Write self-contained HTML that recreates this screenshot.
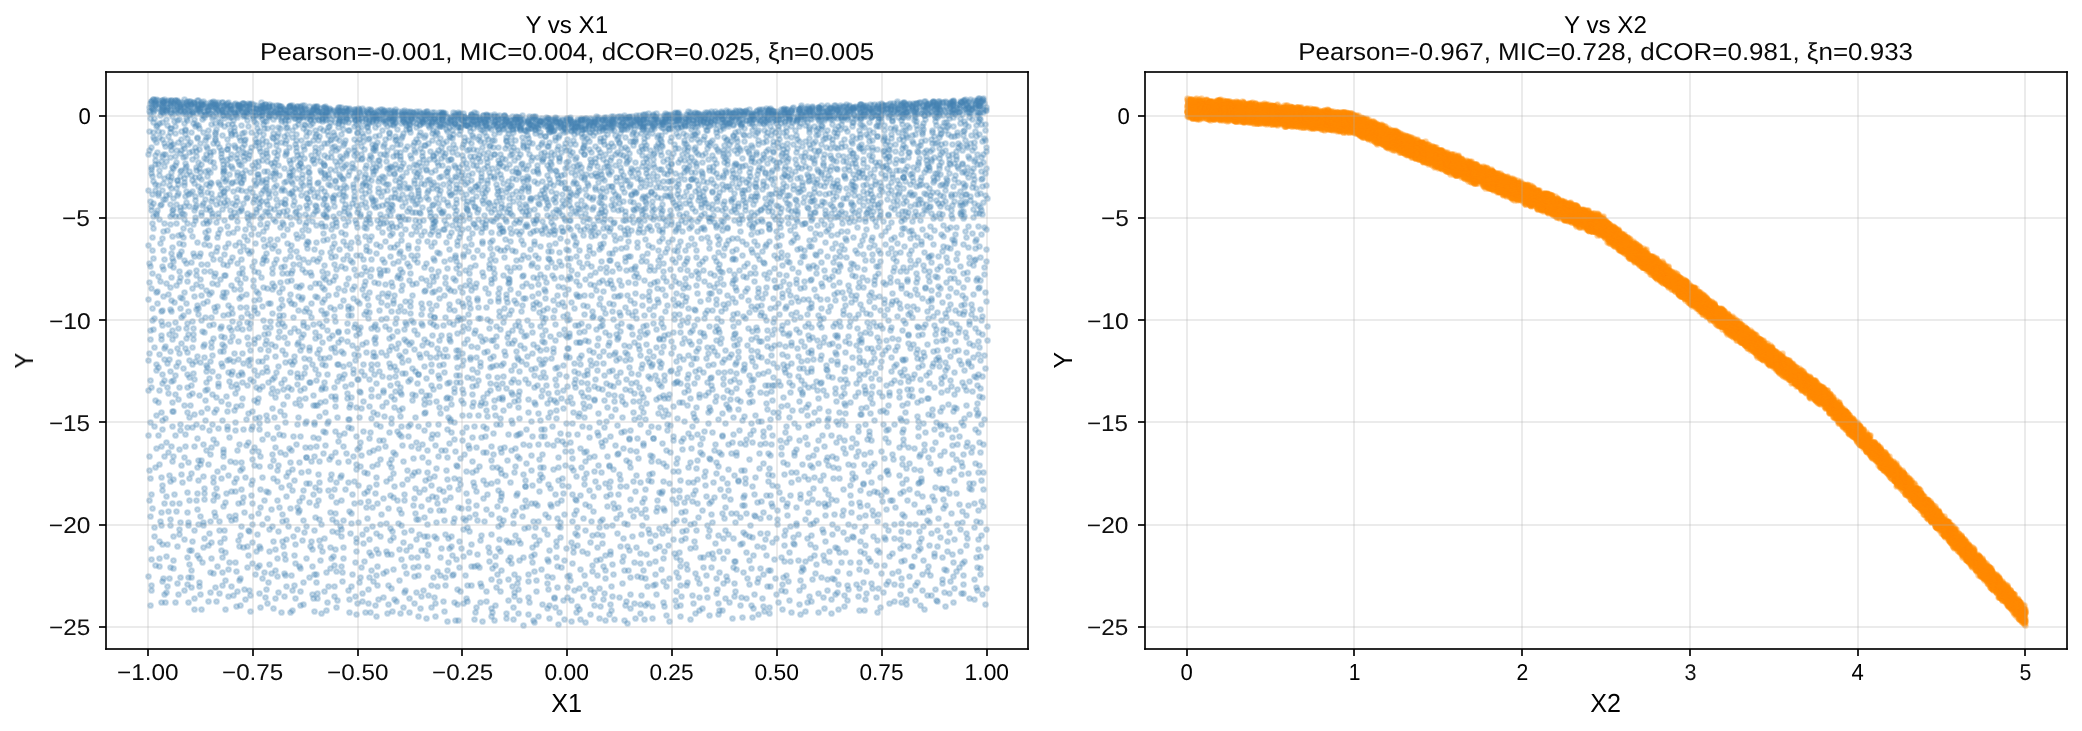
<!DOCTYPE html>
<html><head><meta charset="utf-8"><title>Y vs X1, Y vs X2</title><style>html,body{margin:0;padding:0;background:#fff;overflow:hidden}svg{display:block}text{font-family:"Liberation Sans",sans-serif;text-rendering:geometricPrecision}</style></head><body>
<svg width="2082" height="731" viewBox="0 0 2082 731">
<defs><marker id="a" markerUnits="userSpaceOnUse" markerWidth="10" markerHeight="10" refX="5" refY="5" overflow="visible"><circle cx="5" cy="5" r="2.329" fill="#4682b4" fill-opacity=".29" stroke="#4682b4" stroke-opacity=".29" stroke-width="2.083"/></marker><marker id="b" markerUnits="userSpaceOnUse" markerWidth="10" markerHeight="10" refX="5" refY="5" overflow="visible"><circle cx="5" cy="5" r="2.329" fill="#ff8c00" fill-opacity=".3" stroke="#ff8c00" stroke-opacity=".3" stroke-width="2.083"/></marker></defs>
<rect width="2082" height="731" fill="#fff"/>
<g transform="translate(.5 .5)" fill="none" stroke="none">
<path marker-start="url(#a)" marker-mid="url(#a)" marker-end="url(#a)" d="M153 99l0 0 2 1-4 1 0 0 4 1-2 1-3 0 5 1 0 1-6 2 2 0 1 1 1 1 1 1-5 1 4 1-3 1 0 5 4 0-1 4-4 9 4 1 0 5 1 2-3 8-2 3-1 4 7 1 0 5 0 4-4 3 0 2 0 4 1 3 1 5 2 3-7 6 7 0-3 4-2 7 3 2-2 3 0 4 2 6-1 7 1 5-1 9-4 8 4 5 1 8-4 5 1 3 2 7-3 9 2 6-3 11 4 9 2 10-2 2 1 9-3 1 0 9 4 8-5 6-1 7 2 20 1 7-3 3 7 10-5 22 4 4-6 9 1 21 6 11-6 3 1 8 1 16-2 6 3 8-2 8 4 11 0 9-3 12 0 11 4 6-7 11 3 9 0 5-1 15 11-3 4 0-1-8 2-2 1-6-5-5 1-3-4-12 0-8 7-2-4-12 5 0-8-3 2-16-1-4 1-9 3-9 2-7-4-6 0-5-1-8-2-13 5-8-8-8 5-2 5-4-8-7 4-6 0-9 3-2-9-3 5-3-3-10 1-12 8-3-5-4 2-3-2-6-6-4 2-3-2-3 11-1-3-4-5-5 5-6 1-2-4-7 0-4 1-10-1-4 0-10 1-1-5-7 6-7-7-4 1-1 9-8-6-2-2-5 5-7-1-3 2-7-1-9-3-7 2-5 1-7 4-1-3-7-5-4-3-4 0-2 1-3 3-5 1-1 2-5 2 0-7-4 8 0-8-2 4-3-4-5 5-2 1-5-5-3 0-5 5-4-6-2 3-3 5 0-4-5 1-2 2 0-8-2 8-6-1-3-8-1 6-3-3-2 3-5-4-1-2-5 11-1-10 0 2-2 3-1 4-3-6-4 3-2 3-1-5 0 1-1 3-1-5 0 6 0 1-1-5 0-4-1 6-1 3 0 0 0-5 0 0-1 0-1-6-1 5 0 6-1-9 0 5-1 0 0 0 0 1-1 2 0-4-1 0 0-4 0 6-1-8 0 15 1 4 0-7 0 9 0-2 0-4 0-1 1 7 0 2 1-7 0 5 0-3 1-4 0 1 2 5 0-3 0-3 1 7 0 2 1-2 1-6 2 3 0 1 0-5 2 6 0-5 1 7 0-6 3 7 3-2 1-3 1 1 5-4 2-1 0 0 4 5 1-7 3 2 5 8 1-5 2-2 1-1 1 6 4-5 0 4 6-5 1 6 5-1 3-3 2 1 1-2 4-3 4 3 1 6 3-7 0 7 0 1 4-9 1 2 3 5 0 2 5-9 1 8 1-4 3-3 6 6 0-3 5-1 1 0 4 7 2-9 0 5 0 1 7-6 1 8 11-6 1 7 7-7 4-1 6 8 1 0 2-7 2 1 3-3 4 3 2 6 4-8 6 8 4-3 4-6 2-2 7 3 6 3 2-4 7 1 2 4 11-7 2 10 4-6 2-3 4 6 1-3 4 5 9-7 3 9 2-10 6 9 3-2 4-6 5 5 4-2 5-2 1 8 6-11 6 7 1 3 5-6 3 0 9 1 0-1 15 3 9-4 11 8 3-11 3 5 4-1 5-3 14 4 4-3 2 4 13-2 9 7 0-11 8 8 0-6 8 0 6 9 4 0 5-6 2 4 10-4 14-3 7 3 1-4 10 8 5 1 11-3 8 13 0-4-12 7-3-4-3-7-7 8 0 3 0 0-7-2-6-2-7 2-7 2 0-7-11 4-14-8-3 8 0-1-10 2-12-2-8-5-10 7-4-8-4 10-1-10-8 7-3-4-5 1-11 0-12-5-4 7-3-7-3 9-7-2-5-3-7 6 0-1-10-2-8 4-2-2-8-2-3-4-6 6-8-2-8-2-4-4-5 5-5 2-4-2-6 1-5-6-6 2-2 5-4-8-3 6-5-4-5-2-1 4-5 3-11-7-4 7-3 2-2-3-9 5-1-7-2-3-9 2-7 0-7-2-3 9-4-7-2 4-5-3-4 0-5-2-1-2-3 0-3 9-1-5 0 2-4-1-6 3-2 2-1-4-2-2-6 0-3 0-4-4-2 11-1-5-1-6-3 9 0-8-1 4-2 1-2-1-3-2-6 2-1-5-3 9-1-8-2 3-2-1-3 5-1 2-2-9-3 6-1-2-4 6-2-10-1 4-1 0-1-1-6 3-3-1-2 3-3 1-1-7-1 2 0-1-2 1 0-5 0 11-1-11 0 9 0-2-1-6-1 3-1 5 0-9-1 3 0 5-1-1 0-5-1 9 0-11 0 6 0 5 0-3-1-2-1-4 0 7-1 1 0-3 0-3-2 13 1 1 0 5 1-10 1 0 0 8 0-7 1 4 1 5 0-2 0 0 0-7 0 9 1-5 0-1 1-3 0 7 0-4 2 2 0 1 0-1 1-2 0 1 1-6 1 7 0-6 1 3 1-4 0 9 1 2 1-9 4 8 0-9 4 3 1 2 1-3 1 4 2 4 4-6 5 0 1 3 5-5 4 4 2-3 2-4 0 4 5-4 3 6 3 3 2-5 3 3 1-3 2 4 2-5 5 4 0 2 2-9 1 2 3 4 3 3 2-9 3 8 0 1 3-6 2 0 4 8 3-7 2 6 0-7 2-1 3 7 2 0 3-6 2 0 3 8 3-10 1-1 12 5 6-4 11 7 0-6 3 5 0 2 8-5 6 0 5 4 4-4 5 5 2-9 2 9 7-7 1 9 7-6 2 1 3-2 1 2 5 3 6-9 1 1 7 9 3-9 3 0 5 10 7-11 1 5 9-2 5 5 1-8 2 1 9 1 6-2 14 7 2 2 17-7 2 2 10-4 3 10 0-5 11 6 6-9 2 4 14 3 0-1 4-3 3 6 9-5 4-1 13-1 7 1 9 3 7 3 6-5 2 5 1-9 5-2 11 11 6-6 8 2 3 3 4-3 20 0 4 1 8-6 4 0 11 7 0 7-8 2-9 5-5-2-14-3-1 1-14-3-13 3-3-7-4 5-5 1-12 5-5-1-4-1-12-9-1 10-5-10-1 0-5 9-6 0-5-5-13 2-10-4-4 5-3 2-8-4-9 3-6-7-4 9-8-7-4-2-8 7-6-7-4 2-1-1-7 3-4-3-7 6 0-5-4-1-2 4-4-6-4 8-2-1-8-7-3 7-2 2-4-9-6 5-7 4-1-8-7 6 0 4-6-1-4-7-6 2-7 2-2-5-2 6-7 2-7 1-3-11-2 6 0-3-7 6-5-2-5-2-9-5-1 2-6 1-1-2-5 3-2-1-7 2-2-3-1 6-4 0-3-2-3-4-1 3-2 2-6-6-2 7-1-1-5-4-1 2-6-3-2 5-1-1-1-3-6 3-4-5-1 3-1 6-3-1-5-3-1-4-2-2-1 6-3-4-1 4-2 3-1-6-3-1-2 7-3-8-3 10 0 0-2-9-1 2-1 7-2 0-2-7-2 3-6 4-1-3-5-8-1 9-1-8-2 3 0 2-1-1 0 6-1-11-1 0 0 3-1 6 0-5 0 0-2 6-1 1 0-7 0 3-1-5 0 3 0 1-1 5-1-2 0-8-1 6 0 1-1 3 0-5 0 3-1 9 1-4 0 4 0 5 1-10 1 9 0-2 1-7 0 6 0 3 1-10 0 3 1 5 0-8 1 11 0-6 1-3 1 4 0-1 0 1 2 2 0-5 0 7 1-10 0 7 2 0 0-5 3 6 0-4 4 0 2 4 2-8 3 6 6 5 4-10 4 2 4 8 2 0 0-6 1 0 3 0 4 6 2-5 1 1 4 4 0-4 4 1 2-1 1 0 2 0 5 3 1-1 2-7 1 1 2 2 4 6 0-3 3-1 1-3 2 4 2-6 2 9 2-3 2-4 1-4 1 10 1-4 4-4 4 0 4 6 3-8 2 11 4-7 3-2 4-1 4 0 10 8 0-9 4 8 3-4 5 3 5 4 1-3 10 1 0-5 4-3 5 6 8 3 0-4 4 2 1-7 9 6 9-2 11-1 2 1 8 3 1-2 7 2 2-1 5-3 0 7 9-6 3 1 3-4 10 0 7 0 3 8 10-10 1 5 4-5 8 11 2-5 9 5 6-9 2 9 1-11 14 7 6 0 3 0 4 0 11-6 4 4 7-5 10 10 5-9 3 8 6-2 4-4 15 0 9 5 0 0 8-4 4 1 8 4 2-3 5-5 9 5 6 3 8-3 5-3 8-3 8 9 8 11-3-8-10 5-1 4-4-6-5 8-6-3-9-8-2 1-7 6 0 4-16-1-6-7-20 4-1-6-3 6-1 3-12-7-12 4 0-1-9 2-4-8-3 7-13-5-1 7-11 2-6-10-7 6-7 0-8-1-12 2-4-8-2 7-11 2-5-6-2 5-2-7-3 9-6-7-1-3-2 4-1 1-10-4-2 9 0-4-6-4-12 8 0-6-5-1-6 6-2-8-1 10-4-7-2-4-7 4-1-1-5-3-3 11-7-5-9-3-4 6-6 2-6-2-10-7-2 2-4 3-12-7-2 11-1-11-9 5-1 4-4 0-7-6-4 0-1 5 0-2-4 5-1-9-1 5-5-3-2 5-2-1-4-3-6 5-2-7-6 1-1 4-1 1-6-8-1 8-2-5-4-1-2 8-2-1-3-2-3-6 0 1-4 6 0 1-5-3-2-7-2 6 0 5-8-8-2 4-1-4-1 3-2-4-1 4-3-6-3 4 0 1-4-2-3-2 0 8 0-9-2 8 0-1-1-6-1 5 0 1 0-1-1 4 0-9-1 9-1-8-1 9 0-6 0-2 0 0-1 7 0-9-2 10 0-9-1 6 0-6 0 8 0 0 0 1 0-5-1 4 0-3-1-7-1 14 1 9 0-3 0-5 0 0 0 7 1-1 0-4 0 2 2 2 0-3 0-5 0-1 1 3 1-2 0 6 1 2 0 2 2-10 0 5 0 3 0-5 1 2 0 1 1-4 1 1 1 2 1-3 0 4 4-6 5 7 1-4 6 7 0-9 1 3 6-5 1 4 0 0 4-2 3 9 0-1 4-7 1 2 1 4 2-6 1 5 2-4 2-3 5 4 5 5 2-8 1 1 3-3 1 3 2-2 3 0 1 9 5-9 2 5 1 1 6-1 1-3 5-2 5 0 2 6 3 4 2-4 2 1 2 1 5-4 5 6 5-7 2 3 4-4 6 4 4 4 1-11 0 9 2-8 6 1 9 0 5 3 5-5 5 0 6 6 5-5 2-1 11 6 0 1 6 4 3-10 1 6 5 3 1-1 5-7 1 5 8 1 7 2 6-8 3 8 6-2 1-5 3 6 2-8 7 1 2 8 5-8 3 5 3-5 13-1 7 7 8-2 6-3 10 8 0-3 13-2 3-5 17 1 6-2 2 5 7 6 7-10 5 10 6-8 2-1 5 2 10 7 4-10 10 7 4 1 1-9 4 7 11-4 1 5 8-1 12-7 11 4 11 5 1 1 5-5 4-5 6 10 6 10-4-1-14 3-15-7-4 2-7 2-2-7-2 4-12 4-3-1-2-7-4 5-8-5-10 10 0-4-11 2-6-8-4 8-14-8-9 10-3-3-11-5-1-2-6 8-3-8-5 6 0-4-4 8-8-3-10-7-3 7-3-4-5 4-1-7-6 5-9-3-2 4-2 1-9-3-2 6-1-9-5 4-6 5-3-8-2 8-9-4 0 2-12-6-6 0-4 4-2 5-17-6-7-3-3 0-3 8-1-8-6 5-1-1-6-2-2 7-4-10-1 0-6 8-3-3-5-4-1-2-5 10-3-8-2 9-2-8-16 8-4-5-5 5-3-10-3 7-4 0-6 2-2-9 0 3-4 0-3 3-2 0-4-6-1 8-1-7-2 5-1-4-2 6-3-9-1 11-2-8-5 1-2 5-1-7-2 8 0-4-3 0-3-1 0-3-6 4-2-6-1 3-3 3-1 4-1 0-5-2-4-1-3-4-3 7-1-6-2 2 0-3-3 7 0-6-5 7 0-4-3-2-3 6-4-7-1-2-2 8-2-9-1 0-2 6 0-7-1 10 0-7 0 6 0-5-1 6 0-3-1 3-1-7 0 6-1-7 0 2-2 4 0-1 0-3-1-3 0 10 0-8 0 6 0 0-1 2 0-3-1 2-1 1 0-7 0-3-1 8-2 8 2-4 0 0 0 7 1-4 1 1 0 3 0-7 1 4 0-1 2-1 1 4 0-6 0 9 1-8 0 9 0-2 1-3 1 1 1-3 1 1 0 6 1-6 0-1 1 5 2-9 2 2 0 6 6-8 1 3 0 6 5-1 4 1 1-7 3 3 4-3 5 8 2-8 1 1 3 0 5 7 1-3 1 2 3-9 5 3 0 8 0-2 2 2 0-5 3-4 3 8 0-8 3 0 4 8 1-9 1 4 3-1 2 7 0-6 4-3 4 1 3 3 4 4 1-9 2 2 1 2 3 4 4 2 2-8 2-1 4 4 12-2 5 6 1-10 1 8 2-6 5-2 4 2 3 8 3-2 5 0 5 0 10 2 3-7 2 5 1-2 14-2 0 4 10-2 8-5 6 5 0-2 6-4 1 2 6-1 4 6 0 4 2-7 4 7 6-9 1 0 10 1 4 7 6-2 2-4 3 4 6-1 5 4 4-3 11-6 7 8 2-7 3 0 14 6 4 2 9-3 7 1 6-3 6 3 12-7 13 2 1-4 8 7 9-4 9 5 8-3 3 4 12 2 8-6 2 0 13 6 6-11 2 7 1-3 9-2 7-1 8 10 1-8 5 6 5 8 4 3-16-6-4 8-6-9-10 8-1-1-2 1-14-8-1 7-4-1-8-1-5 4-2-8-8 4-10 4-1-4-6-3-7-2-7 9-4-5-9-4-6 9-5-9-6 1-5 7-11-5-2 3-17-4-1-2-7 8-5-1-7-4-4 3-7 4-8-10-5 6-2-2-6 3-4-8-7 2-6 7-4 0-8-3-4 5-7-9-6 6 0-5-6 5-5-6-2 4-1-3-4 0-4 4 0-4-7 3-3-1-6-2-7 3-4-2-6 7-1-5-8 5 0-6-6 3-1-8-7 9 0-7-8 9-8-10-4 6-4 4-6-7-2 3-3-1-2-4-7 8 0-7-3 4-1 4-1-10-5 8-1-1-1-3-1-5-3 9 0-4-9 3 0-2-2-6-3 8-3 2-1-7-6 5-7-6-3-2-6 1-4 8 0 1-2 0-2-8-1-2-5 9-2-4-1-5-1 10-1-9-4 7 0 3-2-9-1 2-5 6 0-8-1 9 0-2-4-4-2 4-1-4-1 5-2-4 0 5-1-9 0 8-2-8 0 7 0-2-1-3 0-1 0-2 0 10-1-6 0-5-2 9 0 1 0-6-1 4 0-4 0-3-1 6 0-3-2 1 0-2 0-1-1-2 0 14 0 2 0 5 1-8 0 0 0 8 0-7 0-1 1 4 0 1 1 2 0-1 1-1 0-2 1-3 1 10 1-5 0 1 0-6 1 8 1-5 0 3 1-2 1 5 0-9 0 5 2 1 0 4 1-11 1 10 0 0 4-3 2-3 4 4 4-4 3 4 3-1 4-6 3 7 0 0 4 1 4 2 3-6 1-4 1 1 3 8 2-7 3 8 1-6 1-4 2 1 3 2 0-3 1 8 2-6 3 1 2 3 5-3 3-3 2 2 0 2 3 1 5-1 4 6 2-3 4-1 1 4 3-3 2-6 0 9 4-8 3 5 10 1 4-6 7-1 5 6 1-6 5 8 1-5 7 6 0-7 6-1 3 0 7 5 6 3 1-9 7 8 2-9 4 2 3 3 1 4 6-5 7 1 11 4 3-8 1 8 10-1 2-3 12-4 5 4 0-2 3-2 8 7 1 0 4 0 7-9 3 3 2 8 10-4 4 3 14-1 7-4 12 3 8-7 4 2 2-1 12 9 0-7 7-4 3 6 8-5 5 3 5 7 11-2 6-7 1 9 2-1 2-10 14 9 3-4 7 2 8-1 11 1 8 4 3-8 9 3 10-2 5 3 8-3 12-2 2 10-7 3-1-3-13 3-9 6-5-9-9 6-10 4-12 1-5-9-1 2-8 2-6-3-6 6-18-7-5 1-7 3-7 3 0-8-11 7-1 3-10-5-4 0 0-1-10 5 0-10-11 5-13 1-2-6-16 5-7-5-8 4-2 6-6-1 0-8-5 3-4 1-6 4-8-5-1-4-8 9 0 0-3-7-1-1-9 2-3 4-7-4-2 0-3 8-5-2-5-5-1 2-3 5-5-10-4 1-2 8-10-9-2 10-10-1-3-5 0-3-3 6-7-5-3 4-11-1-4 2-2-1-1-5-5 0-6 6 0-3-5 1-3 2-5-3-3 2-6-1-3 3-3-2-4 0 0-6-3 5-2 4-2-10-2 3-4 6 0-8-2 8-1-7-4 7 0-7-4 6-2 1 0-7-5 6 0-8-4 0 0 4-5 7-3-10-1 3-5-1-3 4-3 2 0-8-3 5-4 3-4-3-1-3-3 2-3 5 0-6-1 6-4 0-1-3-1-4-1-3 0 5-1-3 0 7 0 2-1-11 0 11 0-9-1 6 0-6-1 9 0-2-1-2 0-5-1 9 0-6-1-4 0 0-1 5 0-2-1-4-1 0-1 9 0-5-1-2 0 14 1 1 0-3 0 0 1 2 0 7 0-9 1 6 0-7 1 0 1-1 0 4 0 3 1-2 0 0 0 2 0 2 1-7 1 8 0 0 1 0 1-3 1-3 0-3 1 9 1-4 1 4 0-8 1 5 0 3 1-10 2 8 5-5 2 8 0-7 4-1 2 4 0-6 4 5 0-3 7 6 0-6 4 3 1-1 5-4 2-1 1 8 1-6 2 9 0-3 7 1 2-3 10-1 1 4 5-9 1 5 3-3 4 4 1 5 7-8 1 1 1 1 4-2 1-2 3 10 0-11 7 9 2-5 2 6 1 1 7 0 7-7 2-2 7 7 3-2 6-6 1 4 2 5 10 1 6-8 6 4 0 3 4-7 9 2 1 5 5-1 8-2 13-6 1 9 2-7 6 4 4-4 2 7 4-3 7-2 4 3 5-8 6 10 0-7 5 3 5-2 6 6 7-1 2-8 6 7 7-5 3-2 0 4 0 2 11-5 6 0 2 9 7-10 6 5 1-2 8 7 7-9 3 5 5-1 13 1 8-4 5 4 3-6 4 5 6-2 5-1 12 4 2 2 5-7 6 5 10 1 6-8 3 10 2-2 9-8 6 2 8 2 0 0 8 1 11-5 1 1 4 4 0-3 13 7 2 5-3 1-8 7-6-10-5 4-5 6 0-8-14 4-4 4-3-3-7 2-2 2-7-5-2-6-9 8-7 0-12 3-6-5-1 1-16-3-6 6-1-4-10 1-5-2-15 2-3 4-4-10-7 0-13 10-1-8-8 1-2-3-9 10-6-10-5 10-2-4-3 4 0-10-8 9-1-10-5 3-8-2-9-1-7 5-1 6-5-4-4 3-1-5-9 3-3-5-5 8-9-9-1 8-4-10-2 2-1 8-4-4-2-6-8 4-4-4-6 5-7 4-2-8-1 10-3-8-3-3-8 10-1-3-7 4-1-5-4 2-5 2-4-7-4 6-3-2-7-6-3 7-2 3-5-9-2 0-1 7 0-9-1 2-5 2-2 6-2-8-1 7-4-9-2 0-1 9 0-1-1-6-2 8 0-10-4 6-6-2-1 7-3 0-1-11-2 5 0-4-3 3-1-4-1 11-3-5-1-6-4 0 0 11-4-4-4-4 0-3-2 7-3 1-5 2-1-10-3 3 0 3-3 1-1-3-4 6 0-1-3-6-1 1-4 1-1 1-4 5 0-10-2 6-1-5 0-1-2 8-1-6-1 1 0-3-1 0 0 0-2 2 0-1 0 9-1-4 0 2-1-4 0-3 0 4-1-1-1-3 0-1 0-1-1 1-1 13 1 3 0-2 0 6 1 1 0-9 1 1 1 9 0-7 0 5 1-2 0-1 0-3 0 7 0-6 1-3 0 4 2-5 0 9 0-5 0 6 0-10 1 9 1-5 1 6 0 0 1-7 0 1 1 6 0-7 1 3 1-3 0 6 0-7 2 4 1-4 3 5 2-2 5-5 4 9 2-6 0 5 3-1 2-5 3-2 2 10 3 0 2-6 1 2 2-2 3 6 3-9 1 7 1-2 2-3 6 1 2 2 2 1 1 1 6-8 2 10 0-6 1 3 3-4 3 4 1 2 1-3 4 3 4-1 4 0 3-5 2 4 5-7 4 9 3-9 1 5 6 4 2-2 7 3 4-7 4 8 6-4 4-2 7 4 2-9 1 10 15-8 4 6 2-8 4 7 6-3 6 7 17-9 8 9 0-9 1 3 7 6 2-9 1 3 9 2 2-6 11 1 0 5 2 1 8-5 2 3 2-5 3 8 5 2 7 0 5-10 19 7 16-5 2-1 6 5 5 3 7-8 9 3 13-1 2-4 5 9 7-4 11-5 2 7 18-7 2 4 4 1 3-4 3 4 4 2 11 0 11-2 8-5 5 6 1 0 9-5 19-1 7 20 7-7-2 8-9-8-4 6-3-7-6 3-4 8-4-7-8 3-12 1-11 0-9 0-4-6-5 1-10 7-1-7-9-2-2 5-8-2-9 6-9-10-3 6-1 2-12 0-5-8-3 5-5 4-7 2-2-3-11-5-8-3-1 0-8 1 0 10-2-10-10 7 0-6-3 1-7 8-6-8-7 6-5 1 0-5-6 0-4-4-5 6-4 3-5-4-1 3-6-5-3 4-10 3-2-1-4-4-2 1-3-7-9 3 0-3-6 3-1-3-2 11-3-2-2-4-3-1-9 2-3-6-8 8-3-2-6-2-7-2-2 6-5-6-7 1-6 7 0-1-5 0-10-1-4-8-2 7-1-6-5-1-2 9-1 1-3-9-2 7-2-4-2 2-4 0-3 0-5-1-4 0-3 3-5 1-2-9-2 11-3-10-1 5-3-2-1 0-4 5-4-3-4 2-2-8-3 6 0 0-3 3-5-3-3 5 0-2-6 0-1-8-2-1 0 10-2-4-2 2-2-8-2 10 0-3-2 1 0-1-1 4 0-8 0 6-1 1 0-4-2 3-1 0 0-8 0 5 0 5-1-8-1 4 0-2 0 6-1 0 0-5-1 1 0-7-1 9 0 2 0-4-1 4 0-5 0-5 0 0-1 9 0 4 0 8 1-2 0 3 1-8 0 3 1 4 0-3 1 1 1-4 0 4 0-8 1 4 1 4 2-6 1 3 0 1 0 3 1-7 2 7 0-3 2 2 0-1 3-6 1 6 0 1 4-6 2 1 3 6 2-1 1-5 2-2 5 3 3-3 5 9 1 1 2-9 1-1 1 8 0-3 6-1 3 0 6-1 3 4 1 3 2-6 2-2 1 3 2-4 0 7 1-8 4 8 1-4 2 6 4-9 0 3 5-4 2 5 3 3 6-9 1 0 2 8 1-2 2 3 0-4 4 5 0-6 4 2 1-1 8 6 0-2 4-3 6 0 4 3 1-9 4 3 4 8 0-7 8 7 2-5 2-5 3 9 2-5 5-1 4-2 4 7 3-5 3 3 3 1 7-2 6 3 1-5 2 4 4-8 9 11 1-5 14-4 2 4 8-3 12 8 0 0 5-10 2 3 4 5 4 2 10-11 3 11 4-8 5 6 5-8 2 10 10-8 13 7 1-1 6-9 4 9 10-8 3-1 11 4 6 3 1 2 14-2 4-3 2 4 8-8 1 6 5 1 11-1 11-4 5 7 5-6 4 6 9 2 3-7 6-3 6 10 3-11 7 9 0-1 12-6 4 0 8 6 2-3 9 5 0 6 4-1-11 3-6 5-2-6-12-4-4 3-6 7-2-6-7 1-13-2-4 4-13-4-3-4-7 8-2 1-10-9-7 5-4 6-5-8-5 1-9 0-7-4-11 5-2 3-5-7-9 5-2 1-8 4 0-3-14-4-2 1-10-4-2 9-6-4-10 5-4 0-2-7-7 6-7-8-2 5-3-2-7-4-8 2 0-2-4 8 0-6-9-1-4 1-2 2-8-3-3 1-2 6-5-2-9 2-8-3-5 4-4-4-10-4-1 6-7 0-2-1-4 3-10-6-6 4-7-4-2 6-12-4-5 2-4 3 0-6-3 4-2-1-4-5-7 3-1 4-1-9 0 0-4 2-1-3-1 9-3-3-4 5-1-5-3 5-6-5-1 1-3 3-2-9-2 0-3 2-1-3-2 4-1 3-2-6-2 5-3 1 0 1-6-7-4 2 0-2-2 2-1 8-1-8-1-3-1 5-2-2-6 4-1 3-5-7-3 3-3-6-2 0-1 4 0 7 0-10-2 10 0-2 0-5 0 1-1 2 0-5-1 1 0-3-1 1 0 6-1-2 0-2 0 7-1 1 0-7 0-4 0 1-1 0 0 9-1-7 0 8-1-5 0-1-1 5-1-2 0 15 0-7 1-4 0 6 0 4 1-10 0 9 0-4 1 6 0-10 1 9 0-7 0 4 0 3 1-9 0 9 1-4 1 0 1 4 0-3 0-2 1 4 0-4 0-1 0 5 1 1 0-2 1-7 0 7 1-6 0 9 1-10 1 10 0-5 1 3 0 0 1-6 1 2 6 0 1 6 3-6 1-4 2 10 1-11 4 8 3-5 3-3 4 2 1 7 1-7 5 9 3-5 2 1 1-4 1 2 0 5 5-5 0 5 1-10 3 11 3-7 4-2 0 8 5-7 1 8 3-4 4 3 0-7 3-1 4 5 0 1 1-2 3-2 2 4 0-2 5-4 1 0 6 5 1 1 3-3 2 3 5-2 2-5 6 5 6 4 0-4 9-6 6 9 1-6 7-3 0 7 12-6 2 7 2-4 7 6 2-7 1 6 4 0 3-6 2 4 6-5 7 9 5-10 3 4 3 3 7-3 2 2 8-2 4-3 5 3 8 5 3-4 1 5 9-6 1 1 8 5 6-4 5 3 3-8 3 8 5-10 9 7 2 0 5-2 9-4 14 8 6 2 2-4 5-2 4 2 4 2 6-3 5-4 3 8 5-4 9 3 2-5 11-2 15 4 5 2 3 1 6-3 3-4 11 1 3 4 0 2 15-7 2 2 14 3 3 3 11-6 5 4 7-5 2 13 0 3-6-7-6 8-9 1-2-6-10 7-7-2-7-3-7 5-9-7-1 4-7 1-10-3-7-3-2 3-10-2-4-2-9 7 0 0-6-2-10 5-5 0-9-4-9-1-16-1-9-2-2-2-3 4-5-1-10-1-6 3-2-1-14-1-2 0-5-3-4 5-10 3 0-9-3 6-8-1-5-2-2 6-4-9-3 2-5 8-2-2-2-7-8 7-2 2-5-1-2-9-4 2-7 6 0-4-5 5-5-4-11 1-5-2-7-3-1 1-2 4-3-2-3 7-6-9-2 5-4-4-4 1-2-3-7 4-4 0-6 4-5-9-2 4-2 0-5 5-1-6-2 3-1-4 0 9-5-5-5 3-4-5-3-2-1 9-1-5-3-2-6 6 0-7-2 5-3-5-1 1-4 2-2 4-4-6-3-4-1 5-2 2-3-3-4 0-3-4-1 0-3 4 0 5-3 2-3-7-2-3 0-1-5 5-1 1-2 1-3 3-4-9 0 9-4-1-2-4 0 2-2 0 0 4-1-4-1 2 0-1-1-5 0 3-1 4-2-7 0 3 0 4-1-4 0 2 0-3-1 3-1 3-1-9 0 4 0 2-1 6 1 6 0 3 0-6 1-1 0-3 0 5 1-6 1 7 0 2 1-5 0 7 0-9 1 1 1 4 0-4 1 0 0 0 1 6 0 2 1-10 1 4 1-5 1 8 0-7 1 1 0 9 1-3 2-7 1 0 1 1 3 9 3-3 4-2 3 4 0-5 3 1 5 1 2-5 3 1 3 8 4-5 2 2 1-7 2 10 4-5 0 3 2-1 3-2 4 0 3-6 4 9 0-7 1 8 2 0 3-7 1 7 2-5 2-1 2 5 3-2 1-6 4 6 4 4 0-7 0-4 7 7 1 4 1-5 5 5 0-3 5-5 3 7 7-10 4 0 3 9 0-6 7 6 0-3 4 3 3-8 4 1 7-1 7 7 3-4 1 0 11-2 6 0 5 0 7 1 7 2 2 1 8 3 4-6 8-2 2 5 5 5 5-11 6 4 8 3 3 3 3 0 0-8 5-2 2 9 2-5 11 3 1-3 5 3 17-5 7-2 2 10 0-10 10 8 6-5 4 7 2-5 10 5 13-4 1-2 3 3 13 4 4-5 6-1 7 2 8 1 6 2 0-7 11 8 4-3 5-6 7 1 11 6 0 1 9-5 1 5 8-4 1 2 16-7 6 5 5-5 9 9 4 8 2-6-10 11-1-10-11 7-1-5-5 8-5-4-18 0-12-6-5 4 0 3-6-1-8-3 0 3-12-3-7 6-7-9-4 7-7-4-10 7-4-6-5 4-2-2-6 1-10-6-5 5-7-5-6 9-6-7-8 4-6-4-11 1-1-1-8 5-2-5-3 5-4-3 0-5-4 10-6-5-7 5-7-7-5 7-2-11-7 10 0-4-4-4-8 9-1-4-2-3-3-2-14-1-2 9-1 0-7-9-1 10-5-9-1-1-5 8 0-5-12 1-1 4-5-3-5-5-2 10-9-7-2 2-4 5-17-4-5-6-6 9-1-6-3-1-11 7-4-10-3 10-1-1-3-7-2-2-8 8 0-2-2 1-5 1-2-4-6 7 0-10-1 6-3 2-1-9-2 11-5-5-2 0-1-5-3 5-3-3-4 6 0-7-3 0-4 8-1-10-3 4-3 1 0 3-2-4-6 1-2-5-3 9-5-1-2 3 0-11-1 11-1-8 0 5-1-6 0 7-1-6 0-1 0 0-2 3 0-1-1-3 0 9 0-1-1-5-1 6 0 1-1-6 0-2-1 6 0-2 0-1-1-5 0-1 0 4-1 2-1 1 0 12 1 4 0-2 0-9 0 2 0 8 1 1 0-2 1 2 0-2 1 1 0-3 0 0 0-5 0 1 0 7 3-8 0 8 0-8 0 7 1-6 0 7 1 0 0-4 0-6 1 5 0-2 0-3 1 8 2 3 0-6 1 3 1 2 0-3 0-6 4 3 1-4 2 5 0-2 2 5 3-8 2 6 2 5 1-2 4-3 3 4 2-6 1-3 2 0 1 8 2-7 1 3 3 5 3-4 0-3 5 6 6-2 1-6 5 10 2-6 1-5 3 5 1 3 1-1 4-3 4 7 1-5 4-5 1-1 1 7 4 4 2-2 1 1 1-7 3-3 3 3 2-1 0-1 2 1 3-2 1 11 2-11 2 6 0 0 4-4 7 3 10 2 1-6 5 1 2 4 11-6 5 4 0-3 5 6 8-5 2-2 1 7 6-3 7-2 12 0 0-1 7 10 1-7 1-4 9 9 0-2 5-2 8 2 5 4 3-7 1 7 7-4 1-1 10 1 3 0 8-6 3 3 12 3 6 1 6-2 11-6 10 5 0-2 11 6 5-3 6-2 12-2 8 5 13 4 2-11 5 4 1 1 6 2 7 4 0-7 12-2 14 2 2 5 10-1 9-3 14 3 4-7 2 4 9-3 11 9 4-8 2 0 13 12 5 8-1-11-9 10-9-9-17 0-8 7-2 1-1-6-4 1-8 4-7-3-7 2-2-3-8 3-2-6-2 8-12-9-2 10-2-9-18 5-3-1-10-2-8 7-1-8-8 1-13 8-6-10-1 4-7 5-4-3-7-4-3 7-7-4-1 0-2-2-2-2-9 5-4-5-6 4 0-3-1 7-5 0-4-7-5 2-1-5-10 3-16-2-7 5-8-1-2 0-4 4-11-4-2-4-5 9-7-5-1 0-5-5-9 10-4-4-1-2-2-3-5 10-3-2-2-8-1 2-9-3-7 6-2 5-2 0-2-6-6-3-7 3-6 2-4-7-3 8-4-6-1-2-4 11 0-7-4 7-2-1-7-6-2-1-3 3-7 1-1-2-2 6 0-6-5 0-5 2-2 4-4-8 0-1-4 1-1 1-3 7-1-1-2-6-5 3-1-1 0-6-3 1-3 7-1-3-4 6 0-2-4-7-3 6-3-2-1-1-1 4-2-6-3 5-1-6-1 3-2 3-2 3-1-10 0 9-1 0 0-7-1 8 0-7 0 2 0 0-2 1 0-1-2-3-1 5 0 2 0-3-1-5 0 8-1-9-2 10 0-2-1 5 0 5 1-3 0-2 1 1 0-3 1 8 1-3 0 3 1 0 0-8 0 9 1-7 0 9 0-6 1 0 0 2 1-6 0 6 1 1 1-3 2 3 0 1 1 2 0-1 0 1 0-9 1 2 1-3 0 3 0 0 3-1 4 5 3 0 4-1 3-1 3 5 3-10 4 5 1 1 4 3 4-4 1-3 3 8 1-9 3 4 1-1 3-5 2 7 1-2 3 6 1-11 2 9 0-9 4 3 0 2 4 5 2-3 4-7 1 11 2-11 2 10 1 0 4 1 1-11 1 11 0-5 5-2 2-4 2 7 1-4 4-2 4 5 1-2 4-1 4-2 4 0 4 8 1-2 8 0 2-7 5 3 4-3 3 9 2-6 3 6 12-5 2 2 5-4 9 4 2 1 3-5 11 5 1-3 1-3 1 6 6-1 5-5 2 10 6-3 4-8 7 2 0 4 3-4 3-2 1 7 3-1 5-5 2-1 8 3 0 8 2-11 5 4 0 2 7 1 4-2 7 2 3-1 12 4 12-4 5 0 8 2 14-4 4-4 7 1 1 9 5-7 8 1 5-2 5 8 4-8 14 3 1 2 10 2 2 2 7-4 2-4 12 2 7 2 8-7 3 3 8 6 8 2 10-10 4 3 2 6 7 1 3-4 2-6 1 1 16 16-1 1-7 1-5-5-22 8-18-5-1-3 0 6-1 0-11-8-2 2-8-2-13 8-11-8-3 6-3-7-6 8-3-8-4 8-10-2-5-1-4-1-10 4-2 3-4-7-5-3-13 7-1-8-2 4-8 2-11-5-11 9 0-6-9 1-4-1-8 0-8 4-1 2-5-6-2 5-6-5-3-2-10 0-2 6 0 1-10-6-1 3-13 1-3-7-2 1-6 9-4-10-4 2-6 8-1-9-4 8-3-9-2 9 0-6-8 4-3-5-2 6-2-7-3 0-7 1-6 5-2-2-8-5-6 9-1-6-6-2-6 3-5-4-5 8-1-2-3-1-1 5-4-9-1 0-4 8-2 1-3-3-2-1-1-2-4 0-3 4-3-4-5-2-2 8 0-3-3 1 0 2-2-7-4-3-5 4-2 6-4-5-4 3 0-4-5 6-2-4-2-4 0 9-1-2-5-4-1-4 0 2-6-3-3 10-1-5-2 6-1-7-1-2-4 3-3-4-1 8-1-6-2 5 0 1 0-7-1 1 0 6 0-2-2-2 0-1 0-3-2 10 0-4 0-2-2 6 0-9 0 0 0 6 0-1-1-4 0 5 0-5-1 0-1 0 0 5-1-2-1 12 2-3 1 7 0-7 0 4 0-1 0 2 1 3 1-9 1 4 0 0 1-6 0 4 1 4 0-8 0 8 0-3 1-4 0 3 1-3 1 5 0-1 2 1 0 0 1-4 0 7 1-2 1 4 1-11 0 2 1 2 2 2 4 2 3-8 2 4 1 6 3-1 1-7 1 6 5-5 1 7 4-4 1-6 3 7 1 0 4-3 2 5 4-8 1 9 3-9 1 0 3 6 0 0 3-3 4 3 2-2 3-3 1 2 4-2 3 6 2-5 1 6 0-1 5 3 4-7 3 7 5-5 0-4 2 3 2 0 3-3 1-1 4 10 0-9 9 8 1-8 1 8 5-8 7 8 4-1 5 0 4-7 4 1 4 8 3 0 4-6 5 3 5 2 8-4 6-6 11 7 1 3 2-1 7-9 8 5 3 6 1-9 1 5 10-3 1 6 6-10 4 0 4 10 1-2 9 2 7 0 7-3 3-4 4-2 5 4 1-5 2 6 5 1 6-4 10 3 2-1 8-4 1 10 9-8 6 3 0 5 8-8 20 8 3-5 1 1 10-4 4 3 11 5 5-7 7 7 13-10 1-1 5 8 7 1 5 0 9 2 18-11 4 1 3 5 5 0 10-6 1 11 6 0 8-9 5 12-1-2-8 3-7 5-14-4-4 3-6-2-7 4-4-9-2 3-3 0-9 5-5-2-3 1-9-1-13 3-2 2-4-4-2-2-12 3-6 1-4 0-3-3-3-1-9 4-8-1-4-3-2-5 0 1-13 8-2-1-4-7-15 3-9 4 0 0-6-5-3 8-5-9-3 0-7 8-1-3-1 3-1-4-9-2-4 6-1-5-6 6-1-11-10 4-1 5 0 2-2-10-7 3-10-3-6 3-4 4-7-4-3 7-4-4-6 0-5-1-10 0-3 0-5 1-5-5-10 9-3-9-2-1-5 2-8-3-6 8-4-3-2-5-8 7-7 3-2 1 0-1-3-2 0-1-3-6-4 3-3 1-2 5 0-3-4-5-3 7-2-7-2 7-2-5-2 3-4 3 0-5-3 1-3 3-1-4-2-1-4 7-1-2-5-7 0 0-2 6-2-3-3-5-3 6-2 5 0-4-3 1 0-2-3 4-2-8-4 6 0-6 0-1-7 5 0-4-7-2 0 2-6 5-2-1-3 5 0-5 0 5-1-7-2 6 0-5 0-5-1 10 0-5-1-3 0 4-1-5-1 2-1-1 0 7 0-6-1 3-1 2 0 2-1-5-1 0-1-3 0 0 0 5-1-5-1 10 1 0 0 0 1 8 0-6 1 8 1-8 0-1 1 10 0 0 0-9 1 4 0 1 0-6 1 3 0 5 1-7 0 5 1-7 1 5 0-5 0 9 0-5 1 3 1-1 0 3 0-1 3 1 0-5 1 5 2-5 1-2 4 5 0-5 3 9 0-9 1 5 2-4 2 6 2-8 1 6 2 1 4-2 1-5 4 9 1-5 4-3 4 6 3 0 7-4 3 3 4-2 2-2 1-1 4 6 2-3 4 4 3-4 4-5 3 5 1-2 3 3 1 2 2-7 4 1 2 8 2-4 5 1 5-6 6 5 2-3 6 5 3-8 0 11 1-11 6 3 10 7 0-4 4-2 7 1 1 0 3-1 1 2 6-4 5 0 4 8 2-7 2-3 6 7 2-2 4-5 3 11 8-3 5-4 3-1 4 7 3-6 3 4 0-8 8 1 4 9 10-3 5 2 9-2 3-5 6 5 4 1 2 2 7-5 4 2 15 1 3-4 11-4 13 11 1-4 2-4 10 8 6-1 6-9 3 5 7-5 27 10 2-2 4 0 8 2 12-9 5 2 2 4 0-2 15-2 3 3 3 3 11-6 5 4 7 2 6 0 4-6 4 5 7-7 6 0 5 7 1 10 6-5-12 1-13-1-11-1-6 1-5 1-18 4-3-3-14-2-3 6-12-2-12 0-9 4-1-1-6-9-5 1-2 8-7 0 0 0-6-2-6 3-11-7-5-2-2 6-12-7-9 2-1 2-1 6-4-7-11-1-11 0-7 0-5 1-4-1-9 7-3-6-8 7-7-5-3-3-2-1-2 10-1-11-5 8-3-4-3 4-9 2-1-5-4-2-5-1-5 9-1-6-9 1-6-6-2 7-5 2 0-7-5 4-7 4-3-4-7 1-1-4-8-3-7 5-1 2-4 0-11-2-4-2-6-3-3 5 0 4-5 2 0-1-2-7-2-3-2 4-1 5-4-3-4 4 0-6-3 6-2-1-2-6-1-1-6 4 0-6-6 5 0 1-3 2-2-1-5 4-1-11-1 6-1 5-2-9-3 0-1-2 0 10-3-10-1 7 0-2-4 1-1-4-6 2-3-3-4 10-1-4-2 4-1-4-1 0-3-1-5 5-2-1-4-2-1 1 0-5 0 0-1 0-1-4 0 4-1-1-1 2-1-4 0 5-2-4 0-1-1 1 0 9 0-3-1-4 0 0-1 3-1-7-1 3 0-3-1 4 0-2 0-1 0-1-1 6-1 13 1-2 0-4 0 3 1 3 0-1 1 0 0-5 0-1 2 8 0-5 1-3 0 11 0-11 1 2 1 7 0-2 0-6 1 10 0-9 0 2 1 4 0-3 1 2 1-7 0 9 0-6 1 7 0-8 0 5 1-7 0 7 1 0 3-7 5 1 4 3 1 6 4-9 7 8 3-5 0-1 3-3 5 9 0 0 4-4 2 4 0 1 2-10 5 6 3 3 2-9 3 0 2 0 3 8 6-6 1 1 0-1 2 8 3 1 1-5 5-5 1 8 5-9 0 8 4-3 1 3 0-2 3 2 7-3 1-3 2 4 8 0 3-4 5 5 6-7 2 10 1-6 5-1 2 6 2-4 10 4 1 1 6-7 2 7 7-6 3 4 6-3 2 6 0-6 4 6 4-8 13 1 7 1 12 4 3-5 6 7 6-4 9-4 1 3 6-6 8 9 2-3 2-6 12 6 3 1 2-7 8 10 1-7 8 1 15 6 8-9 1 2 10 8 4-8 11 8 10-7 5 7 6-8 12 4 0 2 2-4 16 5 0-10 6 7 0-1 9 5 4-3 4-4 3 2 7-3 2 1 6 2 9-6 3 8 6-8 1 8 10-8 6 1 5-1 12 10 2-5 4 1 2 15-4-2-10 2-3-7-1 6-15-1-6 0-7-6-7 7-8-1-2 2-9-2-16-3-5 4-12-3-3 6-8-1-2 0-16-2-4-6-7-2-3 0-7 3 0-1-13 5-10-6-8 3 0-3-7 3 0-4-9 8-3 2-5-3-9 3-4-9-3 7-3-6-3 4-5-6-8 5 0-2-5-2-8 2-1 2-4 6-1-11-8 6-1-2-7-2-1 8-5-8-1 3-5-5-4 3-4 2-4-3-1 1-7 4-2-2-10 0-7-1-2 2-7-2-5-4-3 7-7 4-5-2-3-1-1 0-7 3 0-11-5 9-1-1-11-6-1 8-2-9-1 4-2-1-2 7-4-9-1 8-4-3-2-1-7 2-3-1-3-1-3-5-1 4-1-5-3 4-1 7-2-9-1 3-2 1-2 4-3-8-2 7-2-2-4 3-5-1-2-2-3 4-1-1-2-8-1 0-2 1-1 8 0-4-3-6-2 3-1 7 0-4-6 1 0-7-2 1-2 7 0-4-6 0 0-5-1 0-3 9 0 2-1-2 0-1-2 2 0 1-1 0-1-2 0-2-1-2 0 5 0-9-1 6 0 4 0 0-1-8-1 6 0 0 0-9-2 5 0 6 0-11 0 2 0-2-1 6 0 4-1-3-1 1 0-7 0 7 0-2-1 9 0 0 1 2 0-4 1 9 0 0 1-7 0 0 1 5 0-2 1 2 0-4 0 0 0 4 1-3 2 4 0 2 1-5 1 2 0-7 3 9 0-8 0-1 1 6 4-1 2-3 0 0 3 3 6-1 3 4 3-7 2 5 3 0 1 0 3-4 9 1 1 1 4 4 0-3 3 0 4 3 1-8 2 3 8 6 1-7 3-2 2 9 1-7 2 7 4-6 3 2 1 1 2-6 0 9 3-7 2-2 8 8 2-6 3-2 0 9 1 1 0-9 3 6 4-5 5 4 9 0 9 2 4-6 2-3 8 9 2-7 1 4 8 5 1-6 8-4 5 9 2-4 2-4 6 9 6-10 1 2 7 4 10-4 6-2 8 0 4 10 13-6 2-2 1 4 6-4 5 1 6 7 5-6 2 4 6-7 2 2 2 7 6-7 2 0 8-4 8 8 7-3 7 5 1-9 4 5 12 0 10-5 2 9 9-4 2 4 5 1 8-8 1 6 6-4 3 0 15 3 4-2 4 2 1 0 10-4 4 0 5 0 11 1 9 4 1-9 10 5 10-3 10 0 1 9 2-8 7 4 5-1 12 13-3-7-2 7-19-4-3 7-7-7-3 3-7-3-4 2-1 3-12-8-3 9-8-7-4 7-1-2-5 4-9-3-12-8-7 10 0 1-15-3-5-4-8 5-16-2-3-6-2 7-7-1-7-6 0 0-7 5-2-2-8-2-11 6 0 1-11-1-9-5-2 3-4 5-10-8-1 7-3 1-4-9-3 8-5 0-8-8-6 3 0-3-2 1-7 1 0-1-11 2-1-4-1 4-2-5-4 11-4-8-5 2-1-2-5 7-6-10-2 7-4-6-8 3-5-1-10 3-1-1-2 2-6-3-5-1-7 3 0-2-8-2-1 9-4-8-4 7-4-1-2-3-6-2-2 1-7-4 0 5 0-6-2 6-4 5-3-4-3-2-3-5-1 5-4-2-1 2-3 2-2-1-2-5-4 3 0-3 0 8-5-9-1 10-1 1-6-11-1 7-2-6-4 2-1 6-1-7-4 2-1 7-2-5-4 2-3-6-2 3 0-5-3 6-3 5 0-10-1 8-3-6-1 7-5-10-2 2-1 5 0 4-1-4 0-6-1 8 0-9-1 10 0-10-1 11 0-4 0 0-1 4 0-10-2 7 0-8 0 4 0 3-1 4 0-8-1 6 0-2-1 0 0-5-1 3-1 1 0-4-1 1 0 2 0 1-1 11 1 4 0 1 0-4 1-2 0-3 0 7 0-3 1 0 0 4 0-4 0-4 1 0 1 0 1 9 0-6 1 5 1-4 1-4 0 2 0-2 1 3 0 5 1-3 1 3 0-1 0-2 1-5 2 4 1 3 3-2 1 5 1-3 4 0 3-1 2 0 1-2 3 3 3 0 0-8 3 3 7-2 1 4 2-5 3 5 2 5 2-5 3 3 0 0 2-8 4 11 0-9 4 7 2-6 1-2 2 9 3-10 0 5 5-4 4 7 1 2 2-8 1 2 1-4 4 9 0-4 3 6 2-4 3-6 5 10 0-3 3-4 1 3 5-7 7 3 8-3 6 11 0-8 6 8 1-5 4-5 7 8 5-9 2 3 4-3 9 8 1-7 1 2 0 4 9 4 1-3 8-3 9-3 2 6 6-5 1 6 8-6 2-3 0 4 0 1 13-2 3 1 6 7 6-9 3 9 1-3 1-3 7 6 1-6 9 2 4 0 7 1 5-5 5-1 3 6 1-2 9-5 8 3 14 6 3-2 1 1 9-4 6 5 6-10 3 8 2 0 6-4 11-4 5 9 4-9 6 7 8-6 9 8 3-8 5 0 10 5 6 5 2-7 16 4 6 1 9-6 4 4 8-6 10 2 3-3 3 4 7 5 3 14-4-9-4 4-9-2-7 2-6-4-3 9-1-2-13-5-4 0-6 4-5 1-13-7-5 2-7 5-1 2-7-8-6 2-10-4-5 4-10-4-6 9-3-3-6-1-10 4-6-9-8 5-1-5-19 9-2-1-3-8-5 10-5-1-9-9-7 5-6 0-1-6-2 0-8 10-1-4-2 1-7 2-9-6-5 5-2-6-3 9-4-6-4-4-2 8-5-9-4 10-3-2-9-8-3 4-9 1-1-1-5 7-7-8-9 5-5-2-5-4-1 9-2-9-7 5-3-4-6 2-13-4-3 10-1-10-3 2-10 4-1 3-3-8-1 2-1 2-3-1-3 5-4-9-1 8-2 2-4-7-4 1-2 6-5-7-3-3-2 4 0 2-8 0-2-7-2 10-3-2-6 1 0-6-1 4-2-6-5 8-2-7-1 1-3 4 0-5-3 5-1 4-2-8-4-2-3 9 0-3-3-6-5 4-6-4-3 6 0-5 0 9-1-7-2 3-1 4 0-6-1-4-1-1 0 5-1 5 0-9-1 0 0 5-1 2 0-2-1-3 0 2 0 1-1-4 0 5 0-7 0 3-2 7 0-8-1 5 0 2 0 1-1-2-1 15 0-7 1 2 0-2 1 7 0-9 1 4 0-4 1 3 0-3 0 9 1-2 1-2 0-7 0 8 1-4 1 5 0 2 0-9 2 2 0 7 0-6 1-5 0 6 0-3 1 7 0-5 2-3 0 9 0-4 4-3 3-4 1 0 3 3 0 8 2-7 1 4 2 1 4-9 2 5 2 6 3-8 2 7 1-4 2 1 4 2 0-5 1-4 4 11 0-3 1-7 2 8 0-7 4 2 2 4 6 3 0-9 2-2 3 6 0-5 5-1 1 4 0-3 6 10 2-7 1-3 3 4 2-4 1 3 3 6 4-6 0-1 3 4 5 3 1-7 0 6 3-5 5-1 7-3 1 1 3 8 6 0 7 1 0-9 1 5 6-6 1 6 4-4 8 8 0-3 3 4 1-8 7-3 7 9 5-6 5 2 5-5 5 2 2 0 5-2 1 5 6 4 3 0 7-1 3-5 6 6 4-6 8 6 8-5 4 2 8 4 2-8 4 6 5-4 6 3 7 4 9-5 5-2 6 6 9-5 4-4 2 1 4 5 10 2 9 0 1-8 6 9 9-5 2 4 4 1 7-4 2 1 10-5 13-2 2 6 5-4 9 0 8 8 8 0 3-5 1-5 4 3 7 2 4 0 8 6 8-7 7-1 6 7 5-10 2 11 4-2 4-4 6 9-1 5-22-7-1 10-13-9-9-1-10 10-3 1-5-3-10 3-8-6-5-5-8 4-7 4-4-6-6 4-1-5-4 5-9 2-8 0-7-1-5-6-5 4-15 1-1 5-5-8-3 6-13-4-7 5-8-7-8-1-8 8 0-1-5-7-1-1-9 5-4-2-6 4-4-8-2 4-10 3-2-5-4 1-2 2-13 1-2-2-3 4-3-3-5 4-3-8-4 7-4-1-3-7-1 1-7 5-8-4 0 6-1-7-7 8-3-2-5-7-9 7-3-2-4-5-11 3-4 6-1-6-8 5-2-6-3 6-8-7-4 1-1 9-2-5-10-5-1 8 0-7-5 5-1 4-2-11-2 6-1 0-2-3-2-2-3 9-3-10-2 9-2-5-3 0-4 4 0 3-2-2-4-1-4-5-2 4-4 4-6-8-1 5 0-3-2 4-4-8-2 6-3 0-1-2-3 1-2-3-2 5-2-6-3 7-1 1 0-10-2 9 0-2-2-6 0 8-1-4 0-4-1 10 0-1-1-9 0 9 0-4-1-6 0 0-1 0-1 4 0 7 0-10-1 8 0-4-1 5 0-2-1-7 0 5 0 6-1 5 1 3 0-3 1-4 0 4 0-1 0 2 1-4 0 0 0 2 1 6 1 0 1-1 1-6 1 4 0-2 1 2 0-6 1 0 0 8 0-3 1-3 1 0 2-3 0 10 0-1 3-1 2-7 3 10 2-5 2 3 0 2 0-2 4-8 2 2 2 2 4-3 4 3 2-2 2 8 1-9 1 5 5 1 2-2 2 2 4-7 4 2 0 3 4-1 2 5 5-10 1 11 1-4 1 0 1-1 6 3 1 0 7 1 1-9 1 0 4 7 1-3 3-4 1 8 2-6 6-3 2 7 0-6 4 3 0 0 7-2 6 2 9 2 0-5 1 0 4 10 5-1 2-3 1-5 1 8 6-6 6 7 1 0 10-8 2 3 5 4 3-9 4 10 4-7 1 4 3-3 11 2 1 1 7 2 8-10 3 5 1-4 6 2 2 3 5-5 1 4 7 2 6-5 6 5 4-6 6 5 1 4 3-1 8-8 3 8 8 1 7-4 11-6 1 5 7 0 1 1 11-4 10 3 2 1 5 3 14-7 5 9 5-5 8 0 11 3 6-9 7 3 1 5 12-5 10 2 4 5 12-10 8 4 0 2 7 0 17-4 7 8 2-9 2 5 3 5 10-11 2 3 3 17-4-4-6 5-8-5-1 7-1-6-8 6-9-2-8-4-1-4-1 6-6-3-7 6-9-6-1-4-6 5-13 1-9 4-8-5-4-5-4 9 0-3-7 2-4 1-9-5-7-4-7 2-17-2-7 7-6 0-2-6-5 3-14 5-5-6-2 4-5-2-5 5-4-7-2 4-4-2-4-2-6-3-5 2-8 3-6 1-4 5-6-7-3-1-6-1-4 8-1-7-7 6-3 2-2-7-1 3-5 3-1-10-7 8-3-2-10 0-9 2-16-6-3-2-4 5-12 5 0-4-5 5-3-10-6 0-5 8-3-7-7 5 0-4-3 8-1-7-3-2-5 6 0-5-1 6-4-3-1-1-4 2-1-7-1 9 0-7-3 8-2-1-2-3-3 3-1-2-1-7-4 4-5 5-1-4-4 5-2-6-1-3-1 1-5 8 0-9-4 9 0-4-3 1-4 4 0-1-4-4-3-3-4 3-2 3-1-4-2 5-1-2-3 0-4 3-2-11-2 5-1 5-1 1-2-5-1 1-1-1-1 1-1-4 0 6 0-2 0-6-1 6-1-3-1-1 0 5 0-4-1 7 0-8-1-3-1 6 0-3 0-2-1 6 0 0 0-7-1 10 0-3 0 4 0-6-1-5 0 8 0-8-2 7 0-4 0 4-1 2 0 3-1 8 0-3 1 0 1-1 1-4 0 7 0 0 1-1 1 2 0-3 1 2 0 2 1-8 2 9 0-7 0 6 0-3 1-5 0 3 1 7 1-5 0-1 1-1 1 2 1-3 1 1 4 6 2-1 2 1 6-2 3 0 2-6 2 4 3-1 1-5 2 5 3 0 5-5 3 6 0 5 2-6 4-5 3 9 0-4 3 5 3-8 2 6 3-5 4 0 1 3 2-6 1 9 2-5 4 0 5 2 3-2 2 2 5-4 1 9 1-6 1 4 6-8 1 10 4-8 0 8 11-11 4 4 2 6 3 0 10-8 6 8 0-9 4 5 0 3 11-3 1-4 2 7 4-8 3-1 5 9 3-8 1 9 2-4 4-5 3 4 6 0 8 3 6 3 9 0 1-3 8-7 4 4 5 6 5-10 1 3 2-1 2 4 9-7 1 2 2 7 2 2 4-11 5 11 8-3 2 2 14-7 13 7 1-10 5 5 6 0 0-3 17 2 1-1 5 7 0-6 12-3 1-1 6 3 1 8 11-2 8 0 7-1 4 3 17-11 1 1 4 6 2-5 6 9 5-4 2 0 13-6 2 6 11 0 10-2 1 3 9-4 12 0 12 17 3-3-6-2-9-1-4 3-16-3-5 6-3-8-9 2-11 1-7 4-6-6-12 6-3-3-4-1-16-1-2-2-15 1-2 7-8-6-2 3-15-3-3 7-11-4-2-4-7 5-13 3-5-3-1-4-8 5-2-3-4-5-3 4-9 4 0-5-3 6-1-8-8 3-6 0-5 6-4 1-1-11-3 1-4 10-10-10-1 2-6 8-5-8-2 1-4 4-1-5-7-2-4 0-5 4-7 2-6-2-10-3-6 9-3-5-5-3-4 0-6 7-2-7-6-3-7 5-4 2-4 1-6-6-4 0-6 0-3 4-4 5-1 0-3-6-1-2-2 6-2 2-1-10-2 1-3 8 0-10-2 2-4-1-6 6-2 3 0-5-1 5-1-5-6 5 0-10-1 3-6 5 0 2 0-3-7-3-1 6-2 0-1-9-1 7-3 3-2 0-1-8-2 4-2 4-2-10-2 7-3-8-1 2-5-1-1 0-4 9 0-10-2 11-2-10-2 4-4 4-2-1-1-5 0 6 0-8-1 7-2 1-1-7 0 1 0 0-2-1 0 2 0-2-1 2 0 5 0-1-1-6-1 3 0 1-1 3 0 1 0-5-1 0 0-5-1 6-1 3 0-5 0 3-1 3 0-5-1 13-1-3 0-1 1 3 0 0 0 2 1-7 1 9 1-4 0-5 1 6 0 1 0-2 1-3 0 4 1 4 0-6 1 0 0 3 0 3 1-8 0 3 0-2 3 5 0-7 1 8 1-4 1 4 0-9 1 6 0-2 5 7 0-5 3-4 8 1 4 3 0-5 5 9 1-2 5-2 3-3 11 5 2-8 5 6 0 0 4-2 2 2 4-1 4 2 3-7 2 1 3 6 1-4 2 5 2-3 1 2 6 4 2-2 4-3 4 0 3-2 2-1 2 7 0-10 8 8 2-2 5-4 4 3 1 2 6-7 2 3 3 5 7-7 7 2 5 4 2 4 5-7 5 6 2-9 4 5 4-3 2 6 0-7 9 5 0-5 5 8 1-2 5-7 7 7 0 2 11-9 4 6 9 4 3-7 2 3 7-2 5 0 8-1 1-2 1 6 0-1 19 3 0-9 4 4 12-4 18 10 2-10 2 8 1 1 8-5 9-1 5-3 8 5 0 2 9-7 10 6 0 0 7-7 2 4 4 5 9-5 8-3 3 9 8-9 8 8 1-2 12-5 1 2 4 4 3 0 6-4 6 2 5 2 8-4 6 5 5-6 4 5 5-4 1 4 10 10 3 5-6-2-10-1-8-6-10 1-3 8-9-8-4-1-5 4-16 5-1-1-6-9-3 1-8 4-6 4-1-10-3 1-9-1-9 8-1-5-4 6-3 2-4-7-8 5 0-5-15 2-5 1-14 0-11-3-4 4-7-8-5 10-4-1-4-6-8 3-7-6-6 4-2-1-5 7-2-7-5 1-4 7-3-4-7 2-6-5-3 3-11-2-3-5-3 6-6 2-2 2-5-7-3 1-5 7-7-1-1-6-1-3-7 1-4 2-10-3-3 0-6 6-3-4-5-3-6 2-3 1-3-2-8 3-5 6-1-3-6-2-10 2-2-6-4 6-2-2-2-3-5 9-2-3-3-2-4-5-1 4-3-5-4 7 0-5-5 9 0-7-5 1 0-5-7 7 0 0 0 2-1-9-6 7 0 4 0-9-2 1-2-3-1 5-1 0-5 5 0-10-1 7-3-4-2 0-5-3-1 10 0-6-2 7 0-9-3-2-1 0-3 7-1-5-4 6 0 3-1-1 0-3-5 4-2-10-1 7 0-7-1 2 0-3-1 9-1-2 0-6-1 3-1 0-1 5 0 0 0-5-1-2 0-1-1 10-1-7 0 5 0-4-1 3-1-5 0-1-1 4 0 4-1 1-1-5 0-2-1 17 1 2 0-10 1 1 0 7 1-9 0 4 0 3 0-4 1 3 1 2 1-6 0 7 1-5 0 4 0-7 1 3 1 3 0 0 1-7 1 4 0 6 0-3 0-6 1 10 0-6 1-4 2 8 0 2 4-1 0-9 2 7 4-7 3 6 0-4 3 8 1 0 5-11 4 9 1-7 1 4 1 0 7-6 1 0 3 5 5 1 2 0 3-6 4 7 1 4 1-9 2 7 4-7 1 5 2-4 3 4 2-4 1 5 2-6 1 6 2 2 1-5 1 0 3 3 6-3 2-2 3-2 3 6 6-2 1 3 1-7 2 10 6-6 1-5 12 0 7 9 1-3 3-3 3 4 6-7 1 2 2 0 5 6 3-8 4 1 8 3 8 7 9-2 3-1 5-7 1 3 13 3 1 1 3-5 5 8 6-9 1-2 3 0 7 10 0-7 11 4 3-6 5 10 5-8 12 6 1-6 2-3 10 0 13 8 11-7 3 5 4-2 6 0 8 2 2-5 6-1 8 9 3-1 5-7 3 8 6 1 11-9 7 5 7-4 7 9 8-11 5 4 27 3 0 0 10 3 8-9 3 2 5 7 6-7 8 8 0-5 11-3 2 10 5 9-1 1-4-1-7-2-10 1-4-1-11 3-6-8-5 2-9-5-4 4-1 7-2-4-8-7-7 10-1-9-5 3-8-1-8-2-11 2-2 3-4-1-15 3-9 2-7-2-4-6-3-1-1 10-6-5-2 1-6-3-12-4-9 10-4-10-7 2-2-1-3 6-6 1-5-8-4 4-3-1-4-1-7 1-1 7-5-10-7 5-1 4-9-9-2 6-2-2-4 4-7 3-8-4-1 3-2-9-3 7 0 1-8-5-8 4-6-8-5 8 0-7-6 2 0 8-2-5-4-5-2 8-2-3-8-4-2 8-5 1-4-3-3-2-4 4-5-9-4 9-4-9-2 10-3-2-3-1-9 0-2-2-3-5-1 0-3 2 0-3-1 5-2-1-6 5 0-9-2 4-3 5-3-1-3 2-2-6-4 7 0-7-1 4-5-3-3-2-4 7-2-2-4-3-2-4-1 0-3 4-1 3-3-8-4 6 0-2-4 6-4-1-2-2-3-6-1 1-3 2-2 5-4-1-4 0-3-8-3 2-1 3-1 4 0-6-2 6-1-7 0-2-1 3 0 4 0-1-1-6-1 3 0 6 0-2-2 4 0-11-1 10 0-5 0-4-1 6 0-6-1 3 0 5 0 0 0-6-2 4 0 11-1 3 1-8 0 0 1 5 0 2 0-6 1 0 0 8 0 0 1-9 1 4 0 3 1-7 0 3 0 7 1-8 2-1 0 9 0-9 0 7 0-5 2 7 0-9 1 7 0-4 0 2 1 2 0-2 1-4 1-1 1 6 0-5 2-3 2 4 7 3 2-1 1 5 1-2 3-5 1 4 4-5 1 0 3 5 1-5 2 2 2 2 2-3 2 3 2-2 6 1 2-3 3 0 2-1 7 4 2 2 0-5 3 7 0 1 10-7 2 7 0-8 3 2 4-3 2 9 1-6 4 2 2-6 3 2 1-2 4 6 2 0 1-5 2 6 10-2 4-2 4-1 7 6 15-9 1 2 1-2 6 3 6 4 11 1 8-5 1 2 4-4 3 0 10 0 17-1 5 5 7 6 4-2 3-5 2-2 3 8 9-6 1-1 6 7 3-7 3 4 6 4 2-8 5 7 2-4 5 2 3 1 2-7 4 3 10-3 12 0 1 6 8 3 9-10 1 7 15-6 9 5 5-7 6 8 1-4 6 6 3-5 8-3 6 9 0-7 5 1 12 3 4-5 4 4 13-4 7 3 18 1 4-4 3 2 15 4 4-7 8 10 8 10-1-2-12 1-8-7-1 1-5-1-8 9-11-7-3-3-2 1-6 1 0 5-17 2-1-9-5 10-6-8-10 5-5-4-4 6-8 1-8-5-16 0-1-4-5 7-5-5-15 0-3 4-9-8-1 1-8 6-4 3-10-9-3 5-8 2-8-3-2-1-11 3-6-5-3 2-6 7-3-8-6 1-2 2-5 0-6-4-6 3-1 2-5-6-1 1-4 1-1-2-7 5-4-6-3 11-3-10-2 4-1-2-11-3-4 9-2-5-6-1-3-3-4 1-3 2-1 8-3-9-2 5-4-7-11 3 0-2-1 9-3-10-4 4-2 6-8-10-3 5 0 3-7-1-8-5-3 5-1 3 0-1-4-5-3-2-3 0-3 4 0 0-3 5-3-10-2 10-2-9-3 8 0 0-3-5-3-5-4 7 0 3-4-7-1-3-1 6 0-5-4 6-2-7-1 10-4-3 0-5-1 2-1-1-1 7-5-5-5-3-3 6 0-1-2-2-2 0-5-1-3-3-2 0-1 10-1-8-2 3-1 3-5-8-1 7-1-7 0 8 0 1-1-4-1 1-1 1-2 2 0-7 0-2-2 3 0 2-1-6 0 5 0 2-1 0-1 4 0-10-1 2 0-3 0 2-1 8 0-1-1-1 0-4 0-1-1 4 0 10-1-3 1-1 1-1 0 3 1-2 1 8 0-2 0-7 1 10 0-3 0-7 1 8 0-1 0-1 1 2 0 0 1-2 1 3 1 1 0-2 0-3 1-3 0 0 0 5 2-2 1 3 1 2 2-10 2 8 2-8 5 5 0 6 0-11 6 7 4 1 2-6 1 2 3 1 2 3 4-1 1 0 3 3 1-9 3 5 3-1 4 1 4-2 3-2 3 9 1-6 1 6 2-7 3-4 1 7 6 4 0-5 3 5 1-10 2 8 2-8 2 0 4 6 2 3 3-5 2 1 2 4 4-5 1 3 2 0 2-1 6 3 7-8 3 5 5 1 3-5 11-3 3 10 1-4 6 5 0-9 4 8 4-7 7-2 3 3 9 3 6 4 3-6 3-4 6 3 10 4 3-1 8-4 6 4 5 0 7 1 4-8 3 11 2-11 2 5 7 4 4-2 1 1 7-4 4 2 3 2 7-3 1 6 13-11 1 7 7 2 7-3 4-4 5 6 3-7 2 4 15-5 11 11 7-10 1 0 5 7 3 2 8-10 1 0 10 2 8 8 2 1 1-5 9-5 9 4 2 3 1-6 15 7 3-4 5 2 8-4 10 2 6 5 10-8 4 5 7 2 3-1 9 6-3 6-3-1-5-1-8 5-12-10-4 1-4 5-4-3-6 6-13-3-8-6-1 8-7-5-6 7 0-7-15 3-6-6-10 4-1 5-6-7-27 4-5-4-10 1-9 5-1-2-7 0-5-5-10 3 0 6-12-1-6 0-10-6-1 5-7-7-11 5-1 4-12-6-4-3-1-1-5 10-5-8-5 2 0 6-3-11-1 1-7 10 0-11-3 10-7-2-4-4-1 1-3-4-6 4-1 1-7-5-1 8-4-7-1 0-4 8-1 1-9-3-4 0-11-1-1-4-3-2-4 5-4 3-5-8-1 9-1-9-12 4-1-4-10 5 0-1-2-4-7 3-2 1-1 3-2 2-3-1-6-8-2-1-3 6-4-6-2 10-1-3-2 0-3-7-2 1-5 8-1 0-1-7-2 4-2-3-1 8-4-8-2 3-2 2-2-8-3 7 0-7-2 10-1-8-7 5-2 3-1-8-1 8-4-9-4 10 0-9-2 6 0 0-6-1-1-4 0 7-1-6-1 5 0-5-1-2-1 9 0-4-1-5-1 6 0 3 0-7-2 4 0 0 0-8-1 10-1-7-1 1 0-4-1 1-1 3 0 5 0-6-1 3 0 4-1 4 0-1 1-1 1 4 0-4 0 3 0 2 1-5 0 6 0 3 0-9 1 5 1-2 0-3 0 11 0-1 1-6 0 1 0-5 0 3 1 5 0-1 0-2 2 3 2-6 0 8 0 1 0-11 1 9 0-2 0-3 1 4 2-6 3 8 0 0 3-6 1 3 2-4 3 7 0 1 4-6 2 4 1-4 3 5 2-10 2 5 2 0 1-3 6 3 2 3 2 3 0-3 4 1 2-5 2-1 2-3 5 6 1-3 1 2 5 3 5-1 4-6 1 2 0 8 2-8 4-1 2 6 3 2 1-9 1-1 4 4 0 1 5 5 0-3 3 4 4-11 1 1 0 0 4 0 1 7 2 1 6-8 4 10 4-3 1-2 9 3 3-3 10-5 4 10 2-5 6 2 7-1 0-2 11 5 5-3 4-5 1 9 6-5 4-1 4 1 7-2 5 7 10-5 1-3 3 0 7 2 8 4 4-9 4 5 6 5 4-6 4-4 0 6 0-3 6 1 9 1 12 5 0 0 5-8 2-1 8 3 8-1 9-3 9 2 2-1 13-1 6 4 1-4 6 4 4 5 1 2 6-9 3 1 8 1 3 5 4-8 7 8 2 0 5-1 14-4 4 2 17-6 11 2 0 5 8-5 8 6 8 2 8-9 5 0 6 22-1-9-3 7-9-4-9-4-1 1-6 6-3-5-4 3-2-2-14 6 0-9-4 8-5-5-7 0-10 1-5 5-4-3-11-1-9 1-3-5-4 8-4 1-13-7-8 7-2-4-8-4-2-2-8 0-7 5-5-6-2 9-2-4-6 1-6 3-9-8-11 6-1-4-8 7-5-10-7 9-3 0-7-4-3-1-3 3-3-4-2 8-1-4-7-5-2 3-8 6-1 0-3-3-7 1-2-6 0-2-4 1-4 5-3 4-8-6-6 1-2 5-4-9-5 8-2-8-2 6-3-8-4 9-2-6-3 3-6-4-10 7-3-2-1-6-4 6-2-6-3 10-10-10-7 9-5-10-3 8-4-7-3 6-3 4 0-11-5 11-1-3-2-7-1 8-4-2-1-2-4 4-4-2 0-7-2 2-2 0-3 4-2-3-3 7-4-8-2 5-1-2-1-1-1 7 0-7-5 5 0-4-3 2-5-5-1 6-2-2-2-5-1 1-2 4-1-3-3 4-1-5-3 5-2 4-6-5-1-3-4 3-1 0-4 5-1-10-3 3-1 1-1 3 0 1-2-7-1 7 0-4-1 4 0 0-1 2 0-3-1-8 0 7 0-6 0 4-1-1-1 4 0-4-1 2 0 3 0 2 0-8-2 2 0 6 0 0 0-10-1 5 0 1 0-4 0 1-1 17-3-8 2 8 0-9 1 8 0-2 1 1 0 0 0 0 2 0 0-5 2 7 0-1 1 1 0-4 2 4 0-1 1-2 0-1 1 0 1 6 0-10 1 4 0-1 1-4 1 8 1-1 3-4 4 1 5 1 4 2 2-6 3 9 2-5 2-1 4 5 4-6 3 8 2-7 3 2 3 3 1-6 3 5 6-3 1 5 4-9 3 9 0-4 3-5 1 10 0-3 2-2 1-3 7 1 1 7 2-6 3-2 5 2 1 0 3-1 5 1 2 5 3-8 2 1 8 2 3-4 3 7 8-3 1 5 7-2 6-8 6 6 4-2 7 0 4 4 5-4 9 7 2-5 2-2 11 4 5-6 2 2 10 3 3 2 9-4 7 1 8 3 5-2 7 4 0-5 8 3 4-9 5 8 4 2 3 0 2-3 7-7 9 9 0-7 13 4 4 1 13-3 9-2 3 0 3 8 9-6 8 2 7 2 15 0 4-4 9 0 16 0 2 2 9-5 3 0 6 1 1 4 16 4 7 1 2-2 2-1 9 3 6-4 4 0 14 1 10 5-3 2-9 4-1-2-5 3-17 3-6-10-12 5-3 4-3 1-8-5-3-3-6 4-3-1-11 3-1-8-4 3-7-1-10 5-3-3-6 4-5-5-9 6-2-10-1 8-9-2-2-2-8 5-2-6-11-2-7 3-12 4-2-5-8 7-3-8-5 2-3 0-17 5-1-9-2 3-12 4-1 0-3-4-8 6-1-2-6-3-1 3-2-7-4 5-7 3-2-4-2 3-8-6-1 3-3-1-9 2-6 2-1 0-4-3-4 6-10-10-2 0-6 6-1 1-1-2-11-1-2 5-1-9-9 11-2-11-4 5-4 2 0-2-6 5-1 1-6-5-5-5-5-1 0 7-3 1-2-2-2 0-3 5-1-1 0-6-4-1-1 3-6 2 0 2-1-10-3 8 0-3-3 5-2 0-4 0-6-6-1 1-1-1-4 4 0-5-2 2-6-4-2 9-3 0-3-2-2-3-1-5-1 1-4 9-2-4-2-1-4 4-1-8-2 10 0-6-3 0-6 0-3 0-2 5-1-9-1 2-3-2-3 6 0-1-1-6-1 2-2 4 0 1 0-5-1 7 0-1-1-7-1 1 0 3-1 3 0-8 0 5-1 1 0-1-1-3 0 6 0-4-1-2 0 6 0 0-1-5-1 5 0 9-1 6 0-9 2 7 0-7 0 1 0 2 1-2 0-1 1 9 1-8 0 6 1 2 0-5 0-5 1 6 0-5 1 9 0-6 2-4 0 7 0-7 1 3 0-1 0 8 0-11 1 10 0-1 1-7 1 3 1 3 0-5 1 2 4 1 1-4 2 3 1-5 1 11 0-9 4 7 0-9 1 9 3-2 1-2 5 5 3-7 3-1 1 6 3-8 1 7 3 0 5 0 2-6 4 9 0-8 2 3 1 0 2 3 4-7 1 9 3-10 1 4 2 4 1-5 7 6 1-3 7 2 1-3 3-5 1 9 4 0 4 1 2-5 4 3 4-7 1 9 6-6 3 5 8-5 9-4 4 11 1-6 6-5 5 8 3-8 3 9 4-4 6 1 3-6 10 4 3 7 0-6 9-3 7 5 3-3 1-1 5 2 3 3 10-7 3 6 2-4 4 2 9-1 4 6 6 0 4 1 1-11 11 5 1-1 1-3 7 6 0 3 5-8 3 1 10-1 12 9 0 0 6-5 9-4 5 6 6-8 3 11 8-1 3-8 3 5 12-3 5 5 9-1 14-6 0 7 3 0 9-9 5 6 9 1 3 2 9-2 14 1 5-8 4 5 13 6 2 0 11-9 3 5 4 1 11-6 4 13 1 7-4-7-10 4-5 2-2 1-8-4-5-2-1 5-7-8-9 10-10-10-1 8-3-2-1-3-13 5-6-5-4 2-10-6-10 8-4-5-1-3-5 5-16 6 0-1-10-5-1-5-2 8-7-4-2 4-14 3-5-8-2 7-11-2-3-8-3 11-6-11-1 8-10-1-8 0-5-3-11-4-1 9-12 0-3-6-1 5-6-1-2 3-6-9-2 3-1 5-6-2-2 2 0-4-9 2-3 4-2-11-10 2-5 5-6-1-6 3-2-4-7 6-3-10-3 3-3 6-5-4-1 5-6-6-2 2-5 4-6-7-3 3-5-4-8 6-1-9-5 3-4-1-6 5-2 2-1-6-3 8 0-5-4-2-3-2-2 3-5 3-3-7-3 4-1 5-2 1-3-7-1 3 0 2-2-4-1 4-3-7-2-2-3 2-5 7-1-1-1-5-2 5-5-3-1-2-2-1-3 8 0-8-7 7 0-2-1-3-4 0-4-3-2 7-1 1-3-3-1 1-3 3-3-6-2-2-5 2 0 5-1-3-1-5 0 0-2 0 0 3 0 6 0-4 0 5-1-10-1 10 0-11-1 11 0-7-1 5-1-4 0 4 0-2-1 2 0 2 0-8 0-1-1 0 0 2 0 4-1-6 0 9 0-4-2-1 0 12-1-6 1 9 0-6 1 6 0-4 0-4 1 6 0 4 2-4 0-2 1-1 1 5 0 1 0-6 1 3 0 2 2-3 1-1 1-4 0 0 1 3 0 3 0 4 0-10 1 6 1-5 1-1 4 4 4-5 1 7 2-3 8 7 2-10 2 4 3-4 1 9 3-7 6 6 0-3 5-3 0 5 5-4 3 5 1-5 5 0 1 1 2 6 6-5 4 2 6-5 4 3 0 5 4-10 2 10 0-11 1 1 6 4 2 6 4-10 1 6 0 2 4-7 1-1 8 6 0-2 7 1 2-5 5 3 4-4 7 6 1 5 6-11 3 10 3-2 16 1 5-7 2 9 3-7 3 7 4-6 3-2 5 0 4 6 1 1 6-10 5 9 0-1 10-3 5 4 2-4 9 0 15-1 4-4 8 5 0 2 4-4 4 1 6-3 3 9 6-6 1 1 2 0 8-3 7 3 5-1 15 7 7-8 1 2 5 3 11 2 21-7 4 7 6 1 8-8 7 8 2-9 3 6 9-5 8 4 7-2 13-4 10 9 0-1 11-2 12 1 4-4 6 3 5-3 6 15 4-1-14 1-8-3-4 7-2-4-13 0-7 1-11 0-10-7-4-1-1 10-5-8-5 5-9 1-11-1-4 1-12 3-6 0-1-11-4 3-2-3-4 1-8 3-9 2-5-2-8-4-5 6-7 0-5 2-12 1 0 0-6-6-12 3-4-2-9 3-4 0-5-7-6 7-6 4-1-11-4 7 0 0-7-3-5 5-3-2-2 2-1-1-5-3-6-2-10 3-4 4-5-2-5-5-5 1-4 2-8 5 0-4-5 3-5-7-1-3-1 5-8-4-3 10-10-6-1-2-3 5-5 2-5-9-3 4-10-3-6 5-2-1-4-4-3-2-2 7 0-6-5 10 0-4-4 0-5-5-1 9-4-9-1-2-1 3-3-2-1 10 0-11-4 3-3 4-1-6-3 9-1-3-1-1 0 4-2-6-3-4-4 3 0 8 0-9-4 9 0-7-2-4-4 1 0 10-2-4-3 2 0-2-2 2-2-9-1 4-5 4-1-8-1 8-2-1-4-7-4 10-1-2-1-8-2 1 0 7-3-4-1 5 0-1-1-4-1 5-1-7 0 9-1-9 0 9 0-3-1 0-1 0-1 3-1-10 0 0-1 6 0-6-1-1 0 6 0 4 0-9-1 3 0-3 0 10 0-4-1-4 0 8-1-3-1 0 0 1 0 13 0-4 0-4 1 6 0-7 1 0 1 3 0 4 1-2 1-5 0 5 0 3 1-8 0 3 1 3 0 1 0-4 1 5 1-8 1 10 1-11 1 2 0 6 0-1 1 0 0-2 5-5 5 5 3 4 2-7 2 2 2 4 4-3 1-2 6 5 0 0 3-3 5 3 1-1 4 4 2-8 5 7 2-4 4 3 3-9 1 3 1 8 3-9 3 9 0-4 2-1 4-3 3 4 1 2 3-9 1 8 2-4 1 6 3-4 3-2 2 5 2-6 1-1 1 5 2-6 3 7 0-7 3 10 0-9 8-2 6 8 2-1 3 3 5-5 2 3 7-7 6 7 0-8 9 11 7-8 4 7 0 0 4-3 8-2 3 5 2-5 4 5 6-8 6 4 1-3 8 6 0-4 5-4 5 5 1 1 15-4 0 6 4 1 6-3 4-5 3 2 6 7 2-11 1 7 4-7 8 8 0-7 4 6 3-6 0 5 5 2 5-6 4 4 6 4 7-9 4 4 7 0 4-2 4 4 1-1 12-6 2 10 9-10 1 7 2-3 5 3 11 3 9-5 2-2 12 5 5-7 5 8 0-8 11 8 10-8 9-1 8 4 5 2 3-4 10 5 12 1 5-6 5-1 6-1 11 13 2 3-5-4-10 7-5-5-4 8-4-5-11 3-8-8 0 3-13-2-2 0-10 8-1-1-2 1-12-8-4 1-7 8-5-4-8-1-6-4-3 9-1-2-2-4-12 6-6 1-1-3-12-3-7 4-13 1-8-3-6 3-12-6-1 3-1-1-14-3-4 7-7-7-6 1-12 1-6 1-7 3-4-7-3 1-6 7-1-9-3 5-9-6-2 4-1 4-10-4-5 7-1-3-6 0-4-5-3 6-12-2-2-5-9-2-7 2 0 2-5 0-8-2-3 7-6-4-9 4-4-9-5 7-5-4-4 1-2 0-4-2-4 0-3 2-2 7-3-8-4 3-4-2-2 1-3-1-4 5-4 0-3-4-2 6-5-5-1 1-1-6-1 9 0-7-3 7-4-2-3-1-4 1-1-7-1 8-5 2-3-4-1 1-2-7-2 7 0-7 0 7-6-8-4 3 0-2-1 7 0-6-4 3 0-2-3-1-1 3 0-5-2 4 0 1 0-4-1 10-1-9-1 6 0-3-2 1 0 1 0-4-1 3 0-6-1 1 0 2 0 8 0 0 0-10-2 0 0 5 0 2-1-1 0 3 0-8-1 4 0-1-1 16-2-7 2 7 0-4 0-5 1 4 1 2 1-3 0 6 1-7 1 5 0 3 0-7 1 6 0-9 0 2 0 8 0-4 2 4 1-6 1 1 0 4 0-7 1-1 1 3 2 6 0-10 0 4 3 0 1 3 6-5 1 4 1 4 3-7 2 0 4 8 1-4 5-5 1-2 4 1 1 6 1-7 5 1 0 7 3-7 2 6 2 4 7-10 0 7 0-4 4 0 3 5 3-6 2 8 2-11 2 9 1-6 3 8 2-11 1 10 1-4 1 3 5-4 1 4 4-6 2 3 2-6 5 10 0-10 1 3 7-3 5 6 10-3 2 6 4-6 5-3 5 7 0-2 5 3 3-2 6-1 4-3 6 7 4-7 1 2 11 4 7-4 1 7 2-8 1 6 12-9 4 3 7-1 3 2 8 6 1-1 7-9 1 7 3-4 7 5 7-2 2-3 5 3 9-3 3 8 8-10 1 0 3 10 2-11 8 6 19-6 5 0 13 11 5-7 7 1 5-5 15 11 1-7 25-2 0 5 7-1 17-6 6 6 8-2 15-3 3 9 15-6 2-4 8 6 3 0 17-5 2 17 1-5-2 5-3-6-5 10-4-9-5 0-7 8-2 2-10-10-5 3-1-4-12 8-2-5-1-3-6 8-7-7-1 8-7-8-1 3-7-2-2 5-14-7-7 3-2 6-2-7-6 4-4 0-11-4-4 7-1-7-5 6-11-5-3 0-5-1-7 1-3 3-8-5-1-1-2 5-6-3-7 5-2 2-8-2-6 4 0-11-7 8-1-1-5-5-1-2-3 4-3-1-9-1-1 3 0 5-11-2-5 0-8 0-1-6-4 3-7-2-3 5-6 2-2-10-4 7-2 3-11-4-2-5-5 0-3 6-4 0-2-7-8 6 0-3-4 7 0 0-7-1-6-9-2 11-2-7-4 6-8-9-4 8-3 2-1-9-2 2 0-3-7 3-2-2-2 5-1 1-4-6-1 3 0 5-5-7-3 3-2-2-4 5-3 1-2-7-4 7-4-5-3-2-4 0 0 0 0 7-3-6-2 1-3 2-3-6-6 2 0 5-3-7-4 7-1 1 0-7-4 3-1-2-2 0-5 4-3-5-1 4-1-3-5 2 0 4-3-2-2-5-1-1-4 1-3 1 0 5 0 0-2-6-1 1 0 0-1 2 0-5-1 6 0 0 0 2-1-5-1 7 0-6-1 4-1-3 0-2-1 1 0-2-2-2 0 6 0 5 0-10-1 5 0 3 0-7-1 2 0 5 0-6-1 1 0 15 0 1 0-4 1-3 0 5 0-2 0-2 1 9 1-11 1 0 0 10 0-3 1-7 1 4 0 0 0-1 1-2 1 10 0-8 1-1 1 3 1 3 0 2 0-7 1-1 1 1 2-1 3 2 1 7 2-7 2 6 1-5 3 6 0-1 3-7 2 7 0-10 1 0 6 9 0-8 2 7 2-2 1-1 5 1 1 1 6-1 4 0 2-5 3 4 2-5 4 0 4 9 0-1 3-7 1 8 3-2 1-3 1-2 8-2 1 6 4 2 0 2 4-4 1-3 0 0 7 7 3-5 1-3 1 6 4-8 1 10 8-9 5 4 3 4 4 0 3-6 1 3 15-3 4 8 1-7 8 1 5-1 4-1 7 2 5 5 4-9 8 4 3-5 8 5 9 1 1 5 0-1 7-4 1-5 9 4 5 6 3-7 1 1 5 4 1 1 6-4 2-4 7-2 4 8 1 1 11-9 6 9 4-4 2 0 14 1 5 5 2-5 4 0 9-4 12 6 6-1 2-5 13 6 1 1 8 0 3-2 1-1 1-1 10 5 3-8 8 5 8 4 0-8 12 8 2-4 5 2 7-2 4 1 6-2 2-4 6 9 4-11 6 10 8-5 8-2 3 7 5-7 10 5 5 4 4 3-14 4 0 4-6-5-14-3-4 1-5 6-10 0-3-5-8 2-12-2-11-2-2 2-10-1-3 6-7-2-4 3-9-5-24-2-6-4-7 8-1-8-5 11-2-10-10 9-3-2-14-4-1 4-5-5-11 1 0 6-11-5-4-3-8 3-3 3-6 1-3-9-7 9-5-6-7 8-10-1-9-9-1 3-6 5-2-6-5 4-4-3-6 3-1 0-2 0-8-6-2 0-1 4-6-1-5 7 0-6-5-5-1 7-8-3-5 1-1 2-1-7-3 9-8-3-7-4-2 8-5-4-4 3-8 2-2-4-3-5-3-2-1 5-2 1-1-4-2 4-5 0-4-4-1-2-1 8-1-3-4-3-3 7-3 1-2-1-3 2-4-11-1 5-2-3-1 3-2-1-1-1-2 4-3-5-1 5-1 3-2-8-1-2-4 6-1-4-1 6-1 3-6-3 0-7-3 6-1 3-3-2-4 0-2 3-9-10-2 10-2-11-2 0 0 10 0-6-1 0-1 2-1 1-1-6-1 0-1 9 0-7-1-2-1 6 0 0-1-4 0 6-1-6 0 0-1 1 0 5 0-7-1 3 0 4-1 1 0-2 0-8-1 9 0 0 0-8 0 14 0-1 0 7 0-2 1 3 0-4 0-3 1 0 0-2 1 0 1 0 1 8 0-6 0-3 1 0 0 10 0-7 1-1 0-2 1 4 0 0 1 4 0-8 2 9 0-7 1 1 0-3 0 3 2 4 0-6 2 7 5 2 0-10 3 6 1 5 1-7 2 5 1-4 3-1 1-1 3-2 5 8 1-4 1-2 4 6 2-3 2-2 2-1 4 2 4-2 3 0 3 8 0-10 5 3 1 6 4-9 0 10 2-1 3-4 1-2 1 5 0 0 5-8 2 3 3 3 1-7 4 9 1-7 2 4 0-2 3 7 1-8 6 3 1-2 4 3 7 4 4-6 5 2 2 0 10 4 1-5 4-4 5 8 1 1 5-7 4-3 3 0 8 9 5-8 4 2 2-2 6 4 8-5 10 8 1 1 4-5 3-5 9 7 0 3 1-3 3 2 6-3 1-6 1 11 8-10 1 1 7-2 2 3 1 6 2-6 4 8 1-2 3-1 6-3 2 0 5 6 7-6 2 1 15-2 4-4 11 4 2 5 1-5 1 1 8 3 17-4 4 0 14-4 1 3 3 2 15 5 0-4 1 1 10 2 6-2 3-5 10 8 7-9 5 3 7 7 4-10 5 10 5-5 6 2 12 2 1-4 9 0 4 2 9-8 8 1 1 8 5 8-4-4-9 5-5-4-7 3-5 3-5 3-4-6-5-1-8 2-15-5-7 8-9-6-10 8-9-10-11 7 0-2-13-5-9 4-3 3-9-4-5 0-9 5-1-5-7 7-1-11-7 7 0-2-18 3-3-2-1-6-3 6-10 3-5-6-3-1-6 4-8 5-12-9-4 4-5 4-1-3-9-5-7 8-2 1-4-3-4-5-2 8-9-4-3-7-1 2-5-2-8 8-4-6-4 8-6-8-4 4 0-1-7-5-1 8-11 1-6-7-5 4-5 0-3-2-1 3-5-5-7 6 0-4-9-1-3 0-5 1-5 2-4-3-5 0-2 4 0-2-8 5-4-4-3 1-4-6-2 9-5-1-2-7-2-1-1 5 0-5-4 7 0 0-3-8-1 4-1 4-3 2-4-6-3 6-1-7-7 3 0 3-1-9-1 9-2-4-6-5-1 1-7 4-1-5-2 7-1-3-1 2 0 3-1-8 0 10 0-8-1 8 0-7-1 1-1 4 0-3 0-4-1 9 0-3-1-6-1 0-1 2 0 1 0 4-1-5 0 7 0-10-1 4 0-3 0 1-1 0-1 2 0 0 0 0-1 12-1 5 0-6 1-1 0 6 1-9 0 4 0-3 1 0 0 7 0-7 0 5 1 0 1 0 1-6 0 11 0-8 1 6 1-1 0-3 1 3 0-4 1 2 0 5 0-4 3 2 0 0 1 2 0-9 1 7 3-9 1 4 3-4 2 5 1 3 2-4 4-1 1 8 4-8 0 2 5 5 3-10 2 6 0 1 2-5 3 6 6 1 2-7 5 0 1 5 3-3 4 7 0-9 1 4 1 2 4-5 6 2 2-1 2-4 4 6 3-1 0-4 2 9 0 0 4-5 1-5 1 5 1-5 2 2 0-1 6 2 0-3 2 1 2 3 1-1 2 5 8-3 5 1 6-3 7 5 3 1 10 0 6-9 3 7 6-4 1 4 6-4 8-1 8 3 3-1 6 7 0-10 1 3 6-1 3 8 0-2 7 0 3-4 8 1 5 3 6-3 9 2 9 0 2-7 1 10 2-7 4 5 11-7 1 2 4 2 4 0 15 3 9-5 4-3 4 2 3 4 17-1 4 5 6-8 2-2 8 1 4 6 7-7 1 8 9 0 5 2 1-3 16-6 6 4 4-4 7-2 7 6 4 1 5-1 7-6 6 4 10-2 2 1 12 0 9-2 9 2 0 6 5 5 1 8-5-5-4-1-3-2-8 6-5 0-6-3-1-1-10 4-1-2-7 0-10 3-4-7-8 6-5-4-1 2-11 5-4-9-3 7-2 2-12-10-6 8-3-3-8 5 0-4-7-4-2 5-11-8-5 11-3-4-2-1-10-3-3 6-5-4-9 1-2-2-4 1-6 5-6-3-1-7-5 8-3-3-3-1-8-2-1 8 0-4-2 2-14-7-3 5-3 1-7-6-2 5-4 4-7-4-2-3-4 6-8-6-2 7-2-10-7 8 0-7-15 5-6 1-1-3-7 4 0-3-2-4-13 1-5 1-1 5-2-5-9 4-2-4-5 1-2 5-5-9-1 6-7-5-9 9-3-6-1 3 0 2-3-8-1 7-2-2-2-4-2 9-1-6-8 3-1-4-5-4-1 10-1-9-3 1-4 7 0 1-1-9-3 8-4-8-3 4-4 3 0 3-2-9-1 1-2 6-2-4-3 6 0-11-4 2-3 0-5 8-1-6-5 3-2-4-3 1-6 5-1-3-3-6-2 8 0-1-1-2-3 2-2-2-1 3 0-2 0 5 0-11-3 2-1 1-1-3 0 7 0 1-1 0 0-2-1 0 0 1 0-4-1 1-1 3 0-4-1 5-1-4 0 6 0-1 0-4-1 1 0 5 0-9 0 8-1-3-1-1 0 5 0 1 5 2 4-2 2 2 1-1 0 0 14 0 6-1 8 1 2 1 7 0 4 0 17-1 5 1 12-1 10 2 3-3 29 2 2 0 20 0 12-2 6 0 7 1 18 1 9 1 25 0 14-3 15 1 13-1 51 2 110 0 18 0 41-1 16"/>
<path marker-start="url(#b)" marker-mid="url(#b)" marker-end="url(#b)" d="M1187 98l0 2 0 5 0 1 0 2 0 3 0 0 0 1 0 0 0 4 12 3-2 0-4-1 2 0-3 0 0 0 7 0-3 0 1 0-5-1 0 0-3 0 5 0-1 0 5 0-2 0 2 0-10-1 4 0-3 0 7 0 0 0 1 0-3-1 0 0-5 0-1 0 9 0 0 0 2 0-8-1-3 0 10 0-5-1-2 0 3 0 0 0-2 0 7 0-7-1-2 0 2 0-1 0-1 0-1 0 6 0 0 0 2 0-7-1 0 0 3 0 2 0-4 0 8 0 0 0-6-1-1 0-4 0 2 0 6 0-1 0 0 0-4-1 3 0-3 0-2 0 6 0 4 0-2 0-5-1 2 0-1 0-3 0 8 0-6-1-1 0 2 0-2 0 7 0-2 0-7-1 1 0-1 0 3 0 4 0 2 0-5-1 1 0-1 0-5 0 2 0 3 0 1 0 1 0 0 0-2-1 0 0 0 0-1 0-1 0 7 0 0 0-2 0-2-1-6 0 0 0 6 0 0 0 5 0-6-1-1 0-4 0 7 0 4 0-1 0-2 0 2 0-2 0 3 0-1 0-8-1-2 0 1 0 1 0 0 0 4 0 2 0-3-1-2 0-1 0 0 0 5 0 2 0 2 0-8-1 4 0-7 0 3 0-1 0 9 0-3-1 5 0 5 1-4 1 4 0-2 0 3 0-1 0-6 1 1 0-1 0 0 0 10 0 0 0-1 0 2 0-1 1-1 0 1 0 0 0-1 0 1 0-10 1 1 0 3 0 0 0 0 0 1 0 1 0 0 0 3 0-7 1-1 0-1 0 1 0-1 0 2 0 5 0 3 0-7 1-1 0-1 0 10 0-1 0-6 0 0 0 2 0 1 0-7 1 2 0 7 0-6 0 7 0-3 0 2 0 2 0-10 1 1 0 3 0 1 0-3 0-2 1-1 0 1 0 8 0 0 0-4 0 0 0 4 0-7 1 1 0-2 0-1 0 9 0-4 0 0 0 3 0 2 0-10 1 0 0 4 0 2 0 5 0-2 0-5 0-2 1-2 0 2 0 4 0-2 0 4 0-1 0-3 0 0 0-1 1-1 0-2 0 5 0-1 0 1 0 2 0-4 1 0 0-1 0 8 0-3 0 2 0-5 0 2 0 1 0 3 0 1 0-9 1 0 0 0 0 3 0 1 0-5 1 0 0 3 0 3 0-2 0 4 0 2 0-10 1 9 0-5 0 4 0 1 0 1 0 0 0-9 1-1 0 2 0 8 0-2 0-7 1 8 0-3 0-1 0 0 0 5 0-2 0-1 1 1 0 1 1 10 0 3 0-10-1 1 0 5 0-5 0 4 0 2 0 2 0-8-1 5 0-6 0 6 0-7 0 5 0-3 0 8 0-1 0 0 0 2 0-9-1-2 0 2 0 9 0 0 0-11-1 6 0-5 0 5 0-5 0 8 0 1 0-5-1-5 0 7 0-5 0 3 0 6 0-11-1 0 0 7 0-3 0 3 0 0 0-6 0 5 0-2 0 5 0-3-1-1 0-2 0 5-1-5 0 0 0 2 0 3 0 3 0-5-1-3 0-2 0 2 0-3 0 11 0-2 0-2-1 0 0-3 0-2 0 0 0 4 0-4 0 4 0 3 0-8-1 4 0 4 0 0 0 0 0 0 0 2 0-3-1-3 0-2 0 0 0 2 0 4 0 0 0-9-1 4 0 1 0-1 0-1 0 3 0 5 0-3 0 3 0-3 0-2-1 1 0-5 0 4 0-3 0-3 0 7 0 3 0-1 0 0 0 2 0-11-1 3 0 3 0-4 0-1 0 9 0 0 0 1 0-1 0-9-1-1 0 6 0 3 0 0 0-8-1 2 0 5 0-2 0-6 0 6-1-4 0 2 0-2 0 6 0-8 0 8 0-3-1-4 0 5 0 3 0 2 0-3 0-1-1-2 0 2 0-2 0 2 0 4 0-3-1 6 2-1 0 2 0-1 0 3 0 0 0-5 1 4 0 0 0 5 0 0 0-1 0-3 1 0 0 0 0 4 0-4 0 2 0-5 1-2 0 3 0-2 0 0 0 3 0 4 0-1 0 2 0 1 0-8 1 8 0-3 0-2 0 6 1 0 0-5 0-6 1 4 0-2 0 0 0 9 0-6 0 6 0-4 0-7 1 4 0 3 0 3 0-1 0-1 0-4 1 7 0-6 0 6 0-8 1 0 0-3 0 8 0-2 0 2 0 3 0 0 0-8 1-3 0 10 0 1 0-1 0-3 0-6 1 0 0-1 0 0 0 10 0 0 0-6 1 0 0-4 0 3 0-1 0 8 0-3 0-1 0-1 0 4 0-5 1 0 0-3 0 0 0 4 0 4 0-1 0-3 0-1 1-3 0 0 0-1 0 9 0 0 0-5 1-4 0 3 0-3 0 10 0-4 0 2 0-6 1 9 0 0 0-5 0 5 0-3 0-3 0 1 0 3 0-9 1 2 0 1 0 1 0 2 0-1 0-3 1 2 0 6 0-3 0 3 0-9 1 3 0 6 0-1 0 1 0-5 0 4 0-6 1 8 0 0 0 8 1 1 0-8-1 0 0 8 0-1 0-2 0-2 0 0 0 4 0 0 0 4 0-2 0-9-1 6 0 3 0 2 0-11-1 9 0-7 0 2 0-2 0 1 0 6 0 2 0-5-1 1 0-3 0 0 0 3 0-3 0 6 0-9-1 6 0-4 0-1 0 0 0-1 0 6 0 4 0-2 0 1 0 1 0-3-1-4 0-3-1 6 0-1 0-1 0-2 0 0 0 7 0-10-1 5 0-4 0 1 0 0 0 6 0 2 0 1 0-1 0 1 0-11-1 1 0-1 0 6 0-3 0 6 0-6 0 6 0-8 0 10 0-1 0-10-1 7 0 0 0 1 0 0 0 0 0 3 0-11-1 1 0-1 0 4 0 5 0-5 0 4 0-2 0 4 0 1 0-11-1 9 0 0 0-6 0 8 0-11-1 9 0-3 0-1 0 1 0-3 0-1 0-1 0 7-1-5 0 1 0 5 0-3 0 2 0 2 0-8-1 2 0 3 0-7-1 0 0 5 0-1 0 0 0-2 0 1 0 8 0-1 0-9-1-1 0 3 0-1 0 3 0-4 0 6 0 3 0-3-1-3 0-3 0 0 0 9 0 1 0 0 0-11-1 7 0-4 0-2 0 1 0 5 0-7-1 2 0 5 0-5 0 5 0-7-1 6 0 10 1-4 1 3 0 0 0-2 0 6 0 0 0-4 1-2 0 0 0 6 0 4 0-4 0-5 1-1 0 4 0 0 0 6 0 0 0-1 0-9 1 1 0 0 0 4 0 5 0-3 0 1 0-2 0-6 1 3 0 3 0 1 0-2 1-2 0 0 0 1 0-4 0 4 0-4 0 6 0-1 0-4 1-2 0 9 0 0 0-1 0 0 0 3 0-4 0-2 1-2 0 0 0 0 0 3 0-6 0 11 0-4 0 3 0 0 0-6 1 1 0-5 0 10 0 0 0-3 0 3 0-4 0-3 1-2 0 7 0-3 1-3 0 0 0-2 0 7 0 0 0 3 0 1 0-1 0-9 1 4 0-5 0 10 0 0 0-10 1 3 0-1 0 0 0 0 0 7 0-2 0 0 0 2 0 0 0-3 1-6 0 9 0 0 0-1 0 2 0-4 0-3 1-1 0-1 0 8 0 0 0-2 0 2 0-9 1 1 0 3 0 2 0 2 0-6 1-2 0 6 0 3 0-1 0 2 0-5 1 0 0-5 0 3 0-3 0 9 0 0 0 1 0-8 1-2 0 4 0 0 0 2 0 4 0-2 0 0 0 1 0-6 1-3 0 1 0 4 1 1 0 5 0-2 0 0 0-1 0 3 0 7 1 4 0-8-1 5 0-3 0-4-1 1 0 7 0-4 0 0 0 5 0-2 0 0 0-1 0-2 0 6 0 0-1-5 0 0 0 6 0-11-1 8 0-3 0 3 0 0 0-2 0-5-1 7 0-2 0-2 0 5 0 0 0 1 0 1 0-10-1 0 0 7 0-2 0-2 0 5 0 1 0-7 0 4 0 4 0 0 0-10-1 2 0 2 0-5-1 6 0 4 0-6 0 6 0-2 0-7-1 9 0-7 0 0 0-1 0 8 0 0 0-8-1 1 0 5 0 0 0-4 0 4 0 3 0 0 0-10-1 5 0-3 0 5 0-3 0-2 0-2-1 5 0 0 0 1 0-1 0 1 0 4 0 0 0-9-1-2 0 9 0-4 0 0 0-1 0 6 0-1 0-8-1 7 0-6 0 0 0 6 0 1 0-8-1 1 0-2 0 0 0 3 0 2 0 5 0-1 0 2 0-1 0-10-1 8 0-4 0 3 0-3 0 4 0-3 0-4-1 0 0 4 0 2 0 2 0-1 0-4 0-2-1-1 0 9 0 0 0-2 0 1 0 2 0-9-1 5 0-2 0 0 0-2 0 1 0 2 0 5 0-9-1 6 0-2 0-2-1 13 1-5 1 4 0-3 1 1 0-1 0 0 0 1 0-2 0 1 0 6 0-3 1-3 0 2 0 5 0 3 0-7 1-3 0 1 0 0 0 5 0 0 0 4 0 0 0-3 0 3 0-1 0-7 1-2 0-1 0 0 0 2 0 5 0 1 0-8 1 2 0 7 0-9 1 4 0 1 0 3 0-1 0-1 1-2 0-1 0-3 0 3 0-2 0 9 0-1 0-2 0-6 1 5 0-1 0 6 0-1 0-7 1-3 0 0 0 2 0 9 0-2 0 1 0-1 0-1 0-5 1-3 0 6 0 0 0-4 0 4 0 2 0 2 0-1 0 1 0-4 1-4 0 7 0-6 1 1 0-3 0 2 0 6 0 0 0 0 0-5 1 1 0-4 0 8 0 0 0 0 0-1 0 0 0 2 0 0 0-7 1 1 0 2 0-6 0 0 0 10 0-2 0 0 0 1 0-5 1-2 0 3 0-4 0 7 0 3 0 0 0 0 0-11 1 1 0 4 0-1 0 0 0 6 0-3 0-1 1-4 0 4 0-3 0 0 0 6 0 0 0 1 0-1 0 0 0-5 1-4 0 3 0-1 0 0 0 3 0 3 0 1 0 2 0-11 1 0 0 3 0 2 0 4 0-4 1 8 1 0 0 1 0-2 0 8 0-1 0 4 0-8-1 7 0-1 0 2 0-7 0 0 0 2 0-3-1-2 0 0 0 7 0 0 0 1 0 0 0 0 0-4 0-3-1-1 0 2 0 4 0-5-1 7 0-1 0-3 0 0 0 2 0-1-1-1 0 3 0 1 0-4 0 3 0-8-1 3 0 2 0-2 0 5 0-1 0 1 0-3 0 5-1 0 0-6 0 4 0 0 0 2 0 0 0-9-1 9 0 1 0-4 0-4-1 8 0-6 0 1 0 3 0-9-1 4 0 6 0 1 0-11-1 1 0 0 0 6 0-2 0 0 0 3 0-2 0 2 0 3 0-11-1 8 0 0 0 2 0-2 0-5 0 2 0-3-1 0 0 5 0-2 0 2 0-1 0 5 0-11-1 3 0-1 0 9 0-7 0 5 0-7-1 0 0-2 0 2 0 6 0 0 0-4 0 7 0-2 0-9-1 2 0 7 0 1 0-4 0-1 0 2 0-2 0-4-1 0 0 4 0-1 0 4 0-1 0 2 0-1 0-6-1-1 0-1 0 4 0 4 0-2 0 5 0-10-1 2 0 0 0-3 0 6 0 1 0 1 0 0 0 0 0-2-1-4-1 1 0-3 0 12 2 1 0 1 0-1 0 4 0-1 0 0 1-1 0 8 0-1 0-4 1-5 0 2 0 0 0-3 0 5 0 4 0 1 0 0 0-3 1-5 0-1 0 5 0 0 0-1 0 5 0-1 0 2 0-4 1-5 0-1 0 8 0-3 1 1 0-2 0 0 0 0 0 5 0 1 0 0 0-10 1 3 0 3 0-4 0 2 1 2 0-4 0 4 0-1 0 3 0 1 0-1 0-9 1 4 0 3 0-6 0 5 0-2 0 4 0 2 0-1 0-4 1-3 0-2 0 0 0 4 0 4 0-5 1-3 0 11 0-3 0 0 0 0 0-1 1-5 0 1 0 5 0-6 0 9 0-3 0-1 1-4 0-2 0 0 0 3 0-2 0 6 0-3 0 6 0-1 0-1 0-5 1-4 0 7 0-3 0 2 0 3 0-5 1-4 0 4 0 7 0-2 0 0 0 1 0-2 1-3 0-1 0 1 0 0 0 5 0-1 0-1 0-1 1-7 0 5 0-3 0 2 0-2 0 9 0 0 0-8 1 2 0 2 0-6 0 6 0-2 0 3 0 2 0-1 0-1 0-8 1 3 0 1 0-1 0 4 0 2 0 2 0-7 1-3 0 0 0 8 0 1 0-3 1-1 0-2 0 4 0 2 0 4 1 2 0 1 0 2 0 4 0-7-1-3 0 2 0 3 0 3 0 1 0-4 0 3 0 1 0-8-1 0 0 1 0 0 0 4 0-2 0 6 0-3 0-7-1 9 0-1 0-4 0 1 0 3 0 0 0 2 0-10-1 2 0 7 0-1 0-1 0 0 0 2 0-8-1 1 0-1 0 6 0 3 0-9-1 0 0 8 0-2 0 3 0-5 0 3 0-6-1-3 0 2 0 8 0-5 0 5 0-1 0-5-1 5 0-5-1-4 0 9 0-1 0-3 0 0 0 5 0-5 0 0 0-2-1 7 0-3 0 3 0-1 0-2 0 3 0-8-1 0 0 1 0 5 0-3 0-3-1-2 0 4 0-1 0 0 0 6 0-2 0-1 0 0 0 5 0-2 0-1 0-1 0 0 0-6-1 0 0 3 0-1 0 3 0 0 0-1 0 5 0 0 0-9-1 1 0 2 0 6 0 1 0-8-1 1 0-2 0 5 0 0 0 1 0 3 0-5 0-1 0-5-1 1 0 2 0-3 0 10 0-3 0-1 0-2-1-2 0 2 0 4 0 0 0-5-1-2 0 0 0 4 0 1 0 0 0 2 0-1 0 3 0-6-1 3 0 1 0-3 0 0 0-3-1 17 1-3 1 3 0 1 0-4 0 4 0-8 1 1 0 4 0-3 0 9 0-1 0-10 1 7 0-3 0-2 0 7 0 0 0-4 0 0 0-5 1 8 0-5 0 2 0 2 0 2 0-6 0 7 0-4 1-5 0 3 0 3 0 3 0-10 1 8 0 0 0-7 0 0 0 7 0-1 0 0 0 2 0 1 0-8 1 2 0 7 0-1 0-5 1 0 0-3 0 6 0-1 0 1 0-5 0 2 0 6 0-1 0-5 1-2 0 0 0 6 0-5 1 2 0-5 0 1 0 0 0 6 0-7 0 9 0 1 0-10 1 0 0 1 0 0 0 2 0 0 0 7 0-11 1 7 0-4 0 3 0-3 0 8 0-11 1 0 0 6 0-3 0 7 0-7 1 3 0 0 0 1 0 0 0-3 1 5 0-2 0-5 0 1 0-1 0 6 0 0 0 2 0 0 0-10 1 2 0 1 0 4 0 2 0 1 0-1 0-7 1 3 0-3 0 1 0 4 0-4 0 0 0 7 0 0 0-10 1 1 0 1 0 3 0-4 0 10 0-2 0 2 0-3 1-1 0-1 0 5 0 0 0-4 1-5 0-1 0 3 0 4 0 3 0-1 0 0 0-6 1 19 2 0 0-6-1 3 0-5-1-3 0 10 0-3 0 0 0-1 0 2 0-5-1-3 0 5 0 3 0 2 0-2 0 1 0-1 0-5-1-2 0 3 0 1 0 1 0-5-1 9 0 0 0 1 0-9-1-1 0 3 0 6 0-2 0-1 0 1 0 2 0-6-1 0 0-1 0-2 0 3 0 3 0 2 0-6-1 2 0 5 0 0 0-8-1 1 0-2 0 2 0 8 0-4 0-1 0 5 0 0 0-2 0-9-1 3 0 0 0 6 0-4-1-1 0-3 0 0 0 2 0-3 0 2 0-1 0 6 0 3 0-6-1 7 0-3 0-1 0-1 0 2 0-4-1-4 0 3 0 2 0-1 0 4 0-2 0 3 0 0 0-5-1 0 0 5 0-2 0 3 0-9-1-1 0 5 0-3 0 2 0 4 0 1 0 1 0-8-1 7 0-2 0 3 0-2 0-2 0-2-1-2 0 0 0 0 0 5 0 2 0-2 0-2-1-1 0 0 0 4 0-1 0 0 0-5-1-1 0 1 0 1 0-2 0 5 0-4 0-2 0 6 0 2 0-4-1-3 0 4 0 0 0 4 0 2 0-5 0 3 0 2 0-10-1 11 1 2 0-2 0 0 1 7 0-3 0 3 0-3 0-1 0 0 0 3 0-5 1 3 0 5 0-9 1 9 0-4 0-1 0 4 0-1 0 1 0-2 0 4 0-6 1 1 0-3 1-2 0 0 0 0 0 0 0 8 0-4 0 0 0 2 0 1 0 2 0-9 1 2 0 6 0-1 0 4 0-1 1-1 0-4 0-1 0 0 0 2 0-3 0-3 1 0 0 0 0 10 0-6 0 3 0-3 0-1 0 2 0-3 1 1 0 2 0 0 0 6 0-11 1 0 0 10 0 0 0-5 0 0 0 3 0 1 0-7 1 8 0-4 0-1 0 4 0 1 0 1 0-11 1 1 0 5 0 4 0-8 0 8 0-4 0 4 0-4 0 1 1-1 0 4 0-7 0 0 0 8 0-11 1 2 0 1 0 3 0 2 0 3 0-10 1 8 0-4 0-2 0 2 0 2 0-4 0 8 0-10 1-1 0 9 0-6 0-1 0 2 0 4 0-7 1-1 0 1 0 8 0-5 0-1 0 2 0 4 0-6 0-2 1 7 0-6 0 0 0 1 0 4 0-1 0 5 0-11 1 9 0-2 0-3 0 3 0-5 1 7 0-4 0 0 0 4 0 2 1 12 5-5-1 5 0 0 0-4 0 1 0-2-1-1 0 5 0 1 0-5-1-3 0 1 0 1 0 2 0-4-1 0 0 2 0 6 0-4 0 1 0 3 0-7-1-4 0 2 0 1 0 8 0 0 0-3 0 2 0-4-1-5 0-1 0 2 0 0 0 5 0-1-1-3 0-3 0 7 0 4 0-6-1-2 0-1 0-2 0 6 0 1 0 1 0-1 0-3-1-4 0 0 0 5 0-2 0 8 0-3 0-1 0-3-1-4 0 5 0 1 0 3 0-3-1 0 0-3 0 7 0 0 0-1 0-3-1-2 0-3 0 0 0 0 0 1 0 3 0 2 0-2 0 2 0 0 0 2 0 0 0-5-1 1 0 4 0-2 0 4 0-7-1 2 0-6 0 0 0 6 0-2 0 5 0-1 0-4-1-2 0 9 0-6-1-3 0 1 0 8 0-8-1 0 0-1 0-2 0 3 0-1 0 5 0 0 0 0 0-1-1-3 0-1 0 2 0 1 0 5 0-2 0-1-1-4 0 1 0 6 0-3 0 1 0-2-1-1 0-4 0-1 0 5 0 2 0 3 0-3 0-7-1 0 0 0 0 1 0 1 0 3 0-5-1 0-1 2 0 10 4 1 2 4 0-1 0-1 1-3 0 3 0 3 0-5 1 0 0 1 0 6 0-2 0 0 0-4 1-2 0 1 0 3 0 0 0-1 0 6 0-1 0-5 1-2 0 1 0 1 0 6 0-2 0-1 0 3 0 2 0-11 1 1 0 8 0-6 0 0 0 0 0 4 0 4 0-9 1 0 0 0 0-2 0 9 0-6 0 3 0 5 0-9 1-2 0 9 0 0 0-3 0 0 0-1 0-1 0 0 0 6 0-9 1 2 0 0 0 3 0 0 0-5 1 0 0 1 0-1 0 0 0 7 0 0 0-2 0-1 0-1 0 3 0 1 0 2 0-3 1-1 0 0 0-3 1-3 0 0 0 2 0 7 0-3 0-2 0 1 0 1 0 2 0-4 0-1 1-3 0 7 0-3 0-4 1 4 0 4 0-6 1 0 0 1 0 6 0-2 0-1 0 0 0-3 0 1 0 5 0-1 0 3 0-9 1-1 0 10 0 0 0-6 0 3 0 0 0 1 0-7 1 0 0-2 0 1 0 2 0 5 0 2 0-5 0 1 0 5 0-9 1-2 0 8 0 3 0-11 1 10 0-1 0-5 0 3 0 4 0-8 1 5 0 3 0-3 0-2 0 0 1 3 0-3 0 5 0-1 1 1 0-1 0-2 0 1 0 2 0-3 1 1 1 14 5-3-1-1-1-1 0 4 0 1 0-3-1-3 0 1 0 3 0-1 0 3 0-3 0-1-1-2 0 6 0-2 0 0 0-7-1 1 0 0 0 7 0-5-1-4 0 1 0 1 0 4 0 3 0 0 0-6-1-1 0 6 0 1 0-3-1-1 0-4 0-1 0 0 0-1 0 2 0 2 0 7 0-2 0-4-1-3 0-1 0 5 0-1 0 3 0 2 0-5-1-2 0-3 0 3 0 0 0 4 0 4 0-2 0 2 0-3 0 2 0-3-1-4 0-3 0 4 0-2-1-2 0 10 0-5-1 0 0-5 0 3 0 0 0 8 0-2 0-4-1-2 0-1 0 0 0 1 0 1 0 4 0-2-1 1 0-4 0 0 0 0 0-2 0 7 0 1 0 1 0-6-1 2 0-6 0 5 0 4 0 1 0-4-1 0 0-6 0 2 0 1 0 3 0 5 0-1 0-1 0 2 0 0 0-4-1-1 0-6 0 0 0 7-1 0 0-6 0 1 0 4 0-2 0 3 0 4 0-1 0-4-1-1 0-5 0 2 0 1 0 2 0 0-1-1 0 4 0-6-1 3-1-3 0-2 0 1 0 3 0-2-1-2 0 1-1 11 6 3 0 0 1-1 0-2 0 2 0 2 0-2 1 1 0 2 0 1 0-1 0-1 1 4 0-7 1 0 0 0 0 1 0 3 0 1 0-1 0 0 0 3 0 2 0-7 1 1 0 2 0-2 0 4 0 3 0-9 1-2 0 0 0 1 0 2 0 1 0-1 0 6 0-3 0-1 0 1 0 4 0-7 1-1 0 1 0 1 0 7 0-2 0 2 0-11 1 2 0 1 0 4 0 1 0 2 0 1 0-11 1 2 0 5 0-2 0 1 0-3 1-3 0 9 0 0 0 1 0-3 0-1 0 2 0-2 0-3 1 0 0 7 0-5 0 0 0 1 0 2 0 0 0-6 1-1 0 1 0 0 0 1 0 4 0-2 0-5 1 1 0 2 0 8 0-7 1-4 0 2 0 2 0 6 0-1 0-2 0-1 0 4 0-10 1 0 0 10 0-1 0-1 0 0 0-1 0 4 0-9 1 1 0 2 0-1 0 7 0 0 0-8 1-1 0-1 0 2 0 8 0-4 0-3 0 2 0 3 0 1 1-1 0-4 0 0 0 0 0 2 0 4 0-1 0-9 1 3 0 7 0-3 0-2 0 2 0-7 1 2 0 6 0-2 0 2 1-1 1-1 0 2 0 2 0 0 0 12 6 0 0-3-1-1 0 4 0 0 0-3-1-1-1-1 0-3 0 8 0-3-1 1 0-3 0-2 0-3 0 1 0 2 0 3 0-3 0 4 0 2 0 1 0-11-1 8 0-3 0 1 0 4 0-10-1 0 0 9 0-1 0-5 0 2 0 6 0-2-1-6 0 0 0 6 0-9-1 0 0 6 0 0 0-5 0 0 0 5 0 2 0 3 0-1 0-4-1-5 0 2 0-2 0 5 0 1 0 2 0-3-1-5 0 2 0 0 0 1 0 7 0-6-1 2 0-4 0 2 0 2 0 2 0-9-1 7 0-1 0 0 0 2 0 1 0-8-1-1 0 3 0-1 0 8 0-1-1-7 0 0 0 2 0 5 0 2 0-2 0-9-1 6 0-1 0 0 0-4 0 1 0 2 0 2 0-3 0 4 0 2-1-2 0-4 0-3-1 1 0 6 0 0 0 1 0-1 0 0-1 1 0-5 0 2 0-4 0 0 0 4 0 4 0-9-1 0 0 0 0 6 0-1 0-1 0 1 0 5 0-5-1 1 0-3 0 6 0-9-1 7 0-1 0-3 0 0-1-2 0 1 0 2 0-3-1 12 4-1 1 1 0 1 1 7 0-4 1-2 0-2 0 4 0 1 0-4 1 1 0-2 0 3 0 1 0 0 0-1 0 3 0-1 0 2 0-3 1-5 0 1 0 7 0 3 0-7 1 0 0-3 0 0 0-1 0 2 0 8 0-2 0 1 0 2 0-11 1 2 0 6 0-1 0-5 1-1 0 1 0-1 0 2 0 0 0-1 0 2 0 0 0 7 0-2 0 1 0-2 0 0 0-5 1-3 0 0 0 10 0-4 0 0 0 0 0 1 0-5 1-2 0 8 0 1 0-5 1-3 0 2 0-2 0-1 0 2 0 5 0 2 0 2 0-8 1 0 0 1 0 5 0 1 0-1 0-7 1 1 0-2 0 1 0 0 0 9 0-2 0-1 0 2 0-6 1-4 0 4 0-3 0 5 0 2 0-8 1 0 0 1 0 10 0-1 0-4 0 3 0 0 0-4 1-1 0-3 0 0 0 1 0-2 0 9 0 0 0-2 0 4 0-8 1-2 0 10 0-4 0-1 0 2 0 3 0-6 1-5 0 1 0 6 0 0 0 2 0-5 1 0 0-4 0 3 0 5 0 2 0-5 1-3 0 1 0 0 0 8 0-4 0-1 0 5 0-2 0 0 1 2 0-3 0 0 0 0 1-2 0 1 0 0 0 3 1-3 0 3 0 12 6-4-1 5 0 0 0-4-1 0 0 2 0 2 0-3-1 1 0 0 0-5 0 4 0 0 0-8-1 10 0-4 0-3 0 7 0-1 0 2 0-10-1 9 0-1 0-1 0-3 0-5-1 0 0 0 0 3 0 1 0 2 0 5 0 0 0-6-1-2 0 1 0 3 0 2 0 1-1-6 0-1 0 1 0 4 0-8-1 1 0 8 0-4 0-2 0 3 0-4 0 4 0-2 0 6 0 1 0 0 0 0 0-10-1 8 0-5 0 0 0 3 0 0 0 2 0 1-1-2 0-4 0 4 0-7-1 5 0-4 0 2 0 3 0 1 0-8-1 9 0 0 0-4 0-1 0-1 0 0 0 3 0 0 0 2 0 2 0-10-1 0 0 8 0-1 0-7-1 1 0-1 0 8 0-4 0-2 0 6 0 3 0 0 0-10-1-1 0 7 0-2 0 3 0 3 0-11-1 9 0 0 0-4 0 0 0-3 0 6 0-1 0 1 0-8-1 0 0 1 0 9 0-1 0-5 0-1 0 6 0 1 0 1 0-11-1 2 0 3 0-1 0-2 0 5 0-5-1-2 0 5 0 1 0-5-1 7 0-3 0-2 0 3 0 1 0-3-1 0 0-3-1-1-1 13 6 0 0-1 0 1 0-1 1 0 0 0 0 3 0 0 1-2 0-1 0 5 0-3 0 5 0-6 1 6 0-1 1-3 0 1 0 0 0 3 0 4 0-4 0 4 0-8 1 0 0-2 0 2 0-1 0-2 0 9 0-2 0-6 1-1 0 1 0 2 0 0 0 7 0-2 0 0 0 3 0-1 0-7 1-3 0 0 0 5 0 6 0 0 0-6 1 0 0-5 0 0 0 1 0 3 0-3 0 7 0 1 0 0 0-4 1-2 0 6 0 2 0-1 0-8 1 0 0 3 0 4 0 1 0-1 0 1 0-6 1-2 0-2 0 4 0 6 0-1 0-2 0 2 0 2 0-7 1-2 0 0 0 6 0-1 0 3 0-5 1-5 0 0 0 1 0-1 0 6 0 2 0 1 0 2 0-5 1-1 0 1 0 3 0-4 1 0 0-3 0-2 0 7 0 1 0-5 1-1 0 0 0 0 0 3 0 1 0 4 0-3 0-6 1 0 0 5 0 5 0-1 0-2 0 3 0-8 1 2 0-4 0 0 0 5 0 5 0-2 0-1 0 1 0-2 0 4 0-5 1-4 0 7 0-1 0 0 0 2 0-5 1 0 0 5 0 0 0-4 1 2 0-1 0 0 0 2 1 2 0-1 2 11 3 1-1 1 0-7-1 2 0-2 0-1 0 1 0 4 0-7-1 9 0-7 0 2 0-3-1 7 0-2 0-2 0-2 0 4 0 0 0 1 0 3 0-9-1-1 0 7 0-3 0-1 0 0 0 7 0-10-1 1 0 1 0 4 0 2 0-3 0-2 0 2 0 2 0 1 0-7-1 2 0 5 0-4 0 2 0 0 0 3 0-7-1-3 0 8 0 1-1-1 0 1 0-1 0-3 0 0 0 3 0 2 0 1 0-9-1 7 0-6 0 5 0 3 0-10-1-1 0 2 0-2 0 9 0-5 0 2 0 0 0 5 0-1 0-7-1-1 0 0 0-2 0 0 0 10 0-5 0 0 0 3 0-7-1 2 0-2-1 1 0 6 0-2 0 1 0-1 0-2 0-1 0 6 0-1 0-1 0 4-1-2 0-2 0-2 0 4 0 2 0-9-1 0 0 3 0 0 0-2 0 2 0 6 0-10-1 0 0 7 0-4 0 1 0 1 0 0 0-5-1 0 0 0 0 8 0-3 0-2 0 5 0-1 0 2 0-10-1 3 0 1 0 2 0 3 0-7-1 4 0-3 0 2 0-2-1-1 0 4 0-1 0 1-1-4-1-2 0 14 6 5 1-4 0-3 0 5 0-1 1 1 0-2 0 4 0-1 1-6 0 4 0 2 0-2 0 3 1-2 0-1 0-1 0 0 0 3 0 4 0 1 0-1 0-1 0-7 1 1 0-2 0 3 0 1 0 3 0-2 1-3 0 0 0 1 0 2 0 2 0 3 0-8 1-3 0 0 0 5 0 2 0 2 0-4 1 1 0-6 0 2 0-1 0 5 0 5 0-2 0 0 0-4 1-2 0-3 0 5 0 1 0 1 0 2 0-1 0-2 1-1 0-3 0-1 0 1 0 8 0-1 0-5 1-3 0 1 0 6 0 0 0 2 0-3 1-5 0-1 0 0 0 0 0 1 0 0 0 5 0-3 0 7 0-3 0-5 1 2 0-4 0 3 0 1 0 0 0 4 0 2 0-8 1 6 0-7 1 0 0 2 0 3 1 0 0-3 0-3 0-1 0 1 0 3 0-1 0 8 0-3 0 2 0-4 1-6 0 2 0 2 0 6 0-2 0-2 1-2 0 0 0-1 0-3 0 0 0 6 0 5 0-3 0 2 0-5 1-3 0 7 0 1 0-1 0 0 1 1 0 1 0 0 0-5 1-2 0 6 0-1 0-1 0 2 0-3 1 4 0-2 0 2 1-1 0 0 0 11 5-1-2 3 0-4 0 3 0 0 0 0-1-3 0 2 0 0-1 1 0-3 0-7-1 2 0 9 0-3 0 0 0-2 0 5-1-2 0 0 0-2 0 2 0-6-1 4 0 0 0-2 0 4 0-6-1-1 0-1 0 0 0 2 0 5 0 1 0-1 0-3 0 4 0-5-1-4 0 2 0 2 0 1 0 4 0 1 0-3-1-2 0-1 0 6 0-8-1 1 0-1 0 1 0 4 0-1 0-2 0 4 0 1 0-9-1 4 0-2 0 0 0 8 0-3 0 1 0-4-1-4 0 11 0-1 0-2 0-2 0 4 0-7-1-2 0 1 0 0 0-2 0 3 0 0 0 6 0-4 0 0 0 5 0 1-1-4 0 1 0-2 0 0 0 0 0-4-1 2 0-1 0 0 0 8 0 0 0-7 0 1 0 6 0-9-1 1 0-1 0 9 0-1 0-8-1 1 0-3 0 4 0 3 0 1 0-1 0 0 0-2 0 2 0-4-1 1 0 2 0-1 0-1-1-2 0 9 0-5 0-2 0 4 0 0 0 1 0 2 0-8-1-3 0 1 0 1 0 0 0 8 0-3 0-6-1 2 0 4 0-7-1 0-1 0 0 15 5-3 1 3 0 1 1-1 0 0 0 1 0 0 0 2 1-4 0 2 0 0 0 1 0-5 1 3 0 0 0-1 0 3 0 3 0 1 0 1 0-10 1 7 0-4 0-1 0 4 0 3 0 0 0-9 1 8 0-2 0-5 0 6 0 1 1-2 0-3 0-1 0 2 0-4 1 7 0-6 0 3 0 3 0 2 0 0 0 2 0 0 0-11 1 8 0-4 0-2 0 0 0 1 0-1 0 0 0 3 0 1 0 1 0 3 0 0 0-10 1 0 0 2 0 0 0 3 0 4 0-9 1 6 0-3 0 7 0-4 1-1 0 3 0 1 0-1 1-1 0-6 0 5 0 5 0-1 0-4 1-2 0 0 0 3 0-1 0 3 0 1 0 1 0-11 1 8 0-2 0-2 0 2 0-5 0 0 0 0 0 2 0 2 0 4 0 1 0-3 1-7 1 6 0-1 0-4 0 0 0 8 0-1 0 2 0 1 0-11 1 0 0 6 0-4 0 0 0 3 0 1 0 4 0-10 1 6 0-2 0 1 0-2 0-2 0 1 0 0 0 3 0 5 0-6 1 1 0 5 0-1 0-4 1 2 0 3 0-1 1 1 0 0 0 1 0 0 0-2 1 2 0 12 5-1 0 1 0-5-1 3 0-6-1 3 0-1-1-3 0 1 0 7 0-1 0-2 0 0 0-4-1 0 0 8 0-4 0-3-1 0 0 1 0 5 0 0 0 0 0-4 0 1 0-6-1-1 0 0 0 0 0 5 0 0 0 4 0-2 0 3 0-1 0-7-1 8 0-4 0 4 0-8-1-2 0 3 0 6 0-1 0 2 0 0 0-5-1-3 0-2 0 1 0 1 0 2 0 6 0-4 0 0 0 5 0-8-1-2 0 4 0 6 0-3 0-7-1-1 0 2 0 2 0 5 0-2 0 0 0-3-1-1 0 1 0 2 0 0 0 0 0 2 0-3-1-4 0 0 0-1 0 2 0 8 0 1 0-6-1-2 0 7 0-2 0-2 0 0 0-4-1-1 0-1 0 3 0 5 0 0 0 2 0-3 0 2 0 1 0-7-1-2 0 2 0 1 0 7 0-3 0-2 0 3 0-6-1-2 0-1 0 10 0-5 0 3 0 2 0-5-1-1 0-4 0 1 0 5 0 3 0 2 0-10-1 0 0 3 0 3 0-2 0 5 0-5-1-5 0 0 0 1 0-1 0 2 0 4 0 1 0-4-1 0 0-2 0 6 0-6-1-1 0 2 0-2-2 12 5 2 1-1 1 0 0 4 0-3 0 6 1-6 1-1 0 2 0-1 0 1 0 4 0 3 1-5 0 1 0 0 0-4 0 5 0 1 0-2 0-4 1-2 0 4 0 3 0-4 0 1 0 1 0 1 0 5 0-10 1 0 0 0 0 0 0 1 0 0 0 7 0 2 0-11 1 5 0-2 0 0 0 2 0-1 0 2 0-4 0 9 0-11 1 2 0 4 0 0 0 5 0-11 1 7 0-2 0 2 0-4 0 0 0 3 0 3 0 2 0-11 1 10 0-3 0-5 0 4 0-2 0 7 0-11 1 1 0 1 0 1 0 7 0-2 1-1 0 0 0-4 0 2 0 1 0 3 0-5 1-2 0 1 0-1 0 7 1-4 0 3 0 1 0-1 0 1 0 1 0 1 0-11 1 1 0 0 0 7 0-2 0-2 0 1 0-1 0-1 0-2 1-1 0 9 0-7 0-1 1 3 0 0 0 2 0 1 0 2 0 0 0 0 0 2 0-11 1 1 0 0 0 7 0-3 0 0 0-1 0-1 0 0 0 3 0 1 0 4 0-11 1 4 0 0 0 0 0 3 0 4 0-11 1 10 0-4 0-1 0 3 0-1 0-5 1 3 0 4 0 2 0 0 2 8 4-1-1 0 0 0 0 3 0 0 0-4-1-4 0 0 0 6 0 1 0-6-1-1 0 5 0 1 0 1 0-1 0 2 0 1 0-5-1-1 0-3 0 10 0-2 0-2 0 0 0 4 0-6-1-2 0-1 0-1 0 2 0 0 0 1 0-1-1 2 0 6 0-1 0-4-1-3 0-1 0 3 0 1 0 5 0-1 0 1 0-4 0 3 0-4-1-3 0-1 0 0 0 2 0 3 0 1 0 1 0-3-1 0 0-1 0 1 0-4 0-2 0 9 0 1 0-4-1-1 0-4 0 2 0-1 0 1 0 5 0-1 0 1 0-4-1 2 0-3 0 8 0-3 0 0 0-3-1-4 0 2 0 1 0 5 0 0 0-6-1 3 0 4 0-2 0 0 0-1 0 0 0-5-1-1 0 2 0 1 0 4 0 3 0-7-1-1 0-2 0 2 0 8 0-2 0-2 0 2 0-4-1-1 0-2 0-2 0 2 0 0 0 4 0-3-1 1 0 1-1-1 0-2 0 1 0 3 0 4 0-1 0 0 0-3-1 2 0-5-1-2 0 1 0 6 0-5-1-1 0-2 0 1 0-1 0 4 0 2 0-3-1 11 6-1 0-1 0 3 0-1 1-1 0-1 0 2 0-1 1 1 0-1 0-1 0 2 0-2 1 0 0 0 0 2 0 6 0 0 0 2 0-4 0 5 0-10 1 1 0 9 0 0 0-3 0-3 0 2 0-3 0 4 0 2 0 1 0-2 0 2 0-9 1 2 0 3 0 2 0 0 0 1 0-10 1 2 0 9 0-5 0-3 0 1 0-2 1-1 0 1 0 9 0-4 0 0 0 4 0 0 0-1 1-1 0-4 0 0 0 1 0-3 0 4 0-3 0 7 0-8 1-1 0 8 0-2 0-2 0-1 0 1 0-5 1-1 0 1 0 1 0 5 0-3 0 7 0-7 0-2 1 0 0 3 0-2 0 5 0 0 1-4 0 0 0 4 0 2 0-7 1-3 0 0 0 1 0 10 0-5 0 0 0 1 0 2 0-8 1 1 0 8 0 0 0-1 0-3 0-2 0 0 0 4 0-1 0 3 0-8 1 0 0 9 0-1 0-5 0 0 0-3 1-2 0 3 0 5 0-6 1 0 0 9 0-4 0-3 0 4 0-7 1 0 0 9 0-2 0-2 0-1 0 1 0 1 0 2 0 1 0-9 1 1 0 6 0-2 0-1 0-1 0 5 0-4 0 3 0-1 0 3 0-2 1-3 0 2 1 4 0 0 0 0 0 0 1 12 6 0-1-3 0 1 0-1-1-1-1-1 0-1 0 5 0-1 0-1 0 2 0 1 0-7-1 6 0-4-1-6 0 3 0 1 0 6 0 1 0-7-1 0 0-1 0-3 0 4 0 5 0-3-1-6 0 1 0 10 0-2 0-7-1 2 0-3 0-1 0 1 0 1 0-2 0 11 0-1 0-5-1 1 0-5 0-1 0 2 0 4 0 3 0 0 0-2-1-2 0-2 0-1 0 4 0-2-1-2 0 0 0 4 0 3 0-1 0 0 0 2 0 1 0-7-1-4 0 0 0 0 0 4 0 3 0 4 0-2 0 2 0-4-1 0 0-4 0 0 0-3 0 2 0 2 0 5 0 0 0 2 0-1 0-7-1 1 0-1 0-3 0 2 0 5 0 1 0 3 0-1 0 1 0-4-1 4 0-2 0-2-1-6 0 0 0 4 0 2 0 4 0-6-1 1 0-4 0 2 0-4 0 0 0 1 0 4 0 1 0 2 0 1 0 0 0-4-1-2 0 4 0 3 0 0 0-4-1-4 0-1 0 3 0 0 0 2 0 4 0-1 0-5-1 1 0 4 0 0 0-9-2 3 0-2 0 1 0 5 0-5 0 1-1 0 0 0 0 1 0-3-1 0 0 12 6 3 1-3 0 1 0 0 0 2 1-3 0 4 0 5 0-8 1 0 0-1 0 0 0 2 0 1 0 5 0-4 0 3 0 2 0-8 1-1 0 2 0 8 0-3 0-2 0-1 0 3 0-8 1 1 0 1 0 6 0-3 0 3 0-2 0 3 0-9 1 8 0 1 0 2 1-4 0-2 0 1 0 2 0 3 0-8 1-3 0 2 0-2 0 11 0-3 0-1 0-4 1-2 0 1 0 8 0 0 0-2 0 2 0-10 1 0 0 0 0 4 0 6 0 0 0-4 0 2 0 3 0-1 1-2 0-3 0 0 0 0 0 2 0 2 0-6 1-1 0 1 0-1 0 1 0 6 0-4 0 2 0-1 0 5 0-8 1-1 0 7 0-5 0-2 1 0 0 1 0 7 0-7 1-3 0 0 0 3 0 6 0-3 0 2 0 0 0 3 0-9 1-2 0 4 0 0 0 6 0 0 0-5 0-1 0 2 0 5 1-1 0-4 0-2 1 5 0-2 0 1 0 1 0 2 0-8 1 1 0 7 0-1 0-6 0 3 0-2 0 1 0 5 0 0 0-7 1 6 0 0 0 0 0-5 0 1 0 2 0 3 0-1 1-2 0 3 1 9 5-1 0 4 0-4-1-3 0 5 0-4-1 6 0 0 0-5-1-3 0 7 0-1-1-3 0-3 0 0 0-3-1 4 0 0 0 0 0-1 0 6 0 1 0-3-1-6 0 1 0 3 0 5 0-1 0 0 0 0 0 2 0-11-1 8 0-4 0 2 0-3 0 1 0-3 0 0 0 0 0 0 0 3 0 1 0 1 0 2 0 3 0-1 0-1-1-5 0-3 0 5 0 1 0 4 0 0 0-2 0 0 0 2 0-5-1-4 0 1 0-2 0 9 0-10-1 8 0-6 0 3 0 2 0 2 0-9-1 7 0 0 0-1 0-4 0 0 0 3 0 0 0 4 0 2 0-6-1-4 0 10 0-2 0 1 0 1 0-11-1 7 0-1 0-3 0 0 0 5 0-8-1 1 0 3 0 0 0 4 0 0 0 3 0-1 0-10-1 8 0-2 0 1 0-5 0 0 0 2 0 1 0-5-1 0 0 4 0 1 0-2 0-1 0 2 0 4 0-2 0 2 0-8-1 7 0-3 0 3 0 3 0 1 0-1 0 0 0-1-1-2 0-1 0-3 0 0 0 8 0-6-2-4 0 1 0 3 0 0 0-5-1 4 0 1 0-5 0 0-1 2 0 1 0 0 0 1 0-4-1 15 6 1 0-3 0-1 0 3 1 1 0-3 1-1 0 1 0 4 1-4 0 2 0-1 0 2 0 5 0-2 0 3 0-9 1-1 0 8 0-1 0-1 0-4 1-2 0 1 0 2 0 0 0 2 0 4 0-2 0 1 0-5 1 2 0-2 0 7 0-2 0-2 0 4 0-2 0 3 0-7 1-4 0 1 0 2 0 1 0 7 0 0 0-3 0-1 0 0 0 3 0-8 1 6 0-2 0 3 0-1 0-6 1-1 0 3 0 5 0-3 0 1 0-5 1-2 0 5 0 3 0-2 0-4 1 1 0 7 0 1 0-4 0-1 0-1 1 5 0-6 1-3 0 9 0 1 0-3 0-1 0 1 0-1 0 3 0-1 0 1 0 1 0-8 1-3 0 0 0 1 0 3 0 7 0-9 1-1 0 0 0 7 0 1 0-3 0-5 1-1 0 4 0 4 0 2 0-1 0-4 1-3 0 2 0 3 0 0 0 3 0-5 1-2 0 0 0 1 0-1 0 4 0 2 0-2 0 0 0-2 0 2 0-5 1 2 0 3 0 4 0-7 1 0 0 0 0 2 0 0 0 4 0-1 0-4 1 6 0-3 0 0 0 2 0-2 0 0 0 3 0 12 11-2-4 2 0-3-1 0-1 1 0 1 0-9-1 3 0 4 0-1 0-2-1-2 0 2 0 2 0 0 0 4 0 0 0-3-1 0 0-1 0-1 0-4 0 0 0-2-1 8 0-4 0 1 0-3 0 5 0 0 0 4 0 0 0-11-1 10 0-2 0 1 0 0 0-5 0 3 0-2 0 1 0 3 0 1 0 1 0-11-1 1 0 1 0 6 0-7-1-1 0 1 0 5 0-4 0 1 0 5 0 2 0 1 0-11-1 8 0-2 0-3 0-1 0 7 0-1 0 2 0-10-1 1 0 7 0-2 0-4 0 2 0 1 0 3 0 3 0-1 0 0 0-10-1 0 0 8 0 0 0-1 0-2 0 0 0 6 0-3-1-1 0-4 0 5 0 2 0-9-1-1 0 0 0 10 0 0 0-4 0 1 0-2 0 2 0-6-1 7 0-5 0 4 0 4 0 0 0 0 0-1 0 1 0-9-1 7 0-5 0-2 0 4 0-5-1 9 0-3 0-4 0-1 0 2 0 2 0 1 0 2 0-1-1 1 0-3 0-1 0 2-1 0 0-2 0 0 0-5-1 4 0 1 0 0 0 1 0-5-1 5 0-5-1-1 0 7 0-5 0 0 0-1-1 2 0-2-1 1 0-1-1 11 10 1 1 0 0 1 1-2 1 1 0 3 0 1 0-3 1 3 0-1 0 2 0-2 1-1 0-1 0 1 0 4 0 0 0-3 1-3 0 0 0 0 0 5 0 1 0 3 0-9 1 0 0-1 0 5 0 4 0 1 0-3 0 2 0-4 1-4 0 2 0 1 0 2 0 5 0-4 0 3 0-7 1 7 0-3 0-4 1-3 0 5 0 4 0 1 0-4 1-3 0-2 0-1 0 4 0 5 0 1 0-4 0 1 0 1 0 2 0-8 1-1 0 0 0 3 0 5 0-1 0 1 0 2 0-8 1 1 0-1 0 6 0-2 0-1 1-5 0 0 0 6 0 0 0-6 1 0 0 1 0 1 0 2 0 1 0-5 1-1 0 3 0 2 0 6 0 0 0-7 1-2 0-1 0 10 0-4 0 1 0-2 1-2 0-1 0-2 0-1 0 2 0 2 0 1 0 4 0 0 0-1 0 3 0-2 0 2 0-7 1 0 0 6 0-3 0 0 0 1 0-7 1 1 0 5 0-3 1 2 0 2 0-1 0 3 0-4 1-1 0 6 0-1 0-4 1 1 0 2 1 1 0 1 0 0 0 0 2-1 0 1 1 12 9 0-1-2 0 0 0 0-1 2 0-2-1-2 0 2 0 1 0 1 0 0-1-3 0 0 0 3 0-1-1-1 0-5-1 2 0-1 0 3 0 3-1-8 0 6 0 1 0-8-1-1 0 9 0-4 0-3 0 5 0 2 0-8-1-1 0-1 0 10 0-5 0-1 0-1 0 0 0 3 0 0 0 2 0-8-1 0 0 6 0 4 0-2 0-7-1-1 0 1 0 1 0 8 0-3 0-2 0-1 0 1 0 6 0-11-1 9 0-2 0-1 0-6-1 1 0 5 0 0 0-3 0 3 0 1 0 1 0-1 0 4 0-9-1-2 0 9 0 2 0-6 0-1 0 1 0 5 0 0 0 1 0-9-1-1 0-1 0 1 0 0 0 0 0 9 0-4 0 3 0 1-1 0 0-3 0-2 0 2 0 3 0-10-1 1 0 7 0-4 0 0 0-1 0 1 0-2-1 0 0 6 0-6-1-1 0 0 0 5 0-2 0 0 0 0 0 5 0-8-1 1 0 1 0 1 0 4 0 2 0-9-1-1 0 9 0-4 0 0 0-4-1-1 0 2 0 5 0-1 0-2 0 0 0-1 0 0 0 4 0-6-1 3 0 0 0 0 0-3-1 2 0-1-1-1 0 1 0 2 0-3-1 12 8-1 1 3 1-3 0 2 0 2 1-3 0-1 0 4 0-3 0 5 1-4 0-1 0 0 0 1 1 1 0 3 0 1 0-1 1-2 0 0 0-3 0 6 0 1 0-6 1-2 0 1 0 4 0 3 0 3 0-10 1 1 0-2 0 3 0 2 1-3 0 2 0 3 0 1 0 0 0-1 1-1 0-2 0-3 0 0 0 3 0 1 0 5 0-1 0 2 0-4 1-3 0-2 0 2 0 3 0 3 0-7 1-1 0-2 0 9 0 0 0 0 0 1 0 1 0-4 1 2 0-2 1-1 0-1 0-2 0 0 0 1 0-1 0 3 0 0 0 1 0 2 0-3 1-5 0-1 0 11 0-2 0 0 0 1 0 1 0-4 1-3 0-3 0-1 0 3 0 1 0 2 0 4 0-2 0-2 1-6 0 5 0 2 0 0 0 2 0-5 1-2 0-1 0 4 0 6 0-2 0-1 0 0 0 2 0 1 0-6 1-2 0 0 0-1 0 3 0 3 0-6 1 1 0 2 0 1 0-1 0 4 0 0 0 1 0 0 0 1 0-6 1-3 0 6 0-2 1 0 0 4 0 0 1-2 0-1 1 2 0-1 0 2 1 1 1-1 0 0 0 1 0 12 10 0-1-1 0-1-1 1 0-3-1-1 0 5-1-1 0 0 0-2-1-1 0 0 0 4-1-6 0-1 0 5 0 1 0-8-1 6 0-3 0 3 0-1 0 2 0 1 0 1-1 0 0-6 0 2 0 0 0-4-1-1 0 0 0 0 0 2 0 2 0-2 0 5 0-6-1-3 0 2 0-2 0 0 0 10 0-5 0 5 0-10-1 1 0-1 0 9 0-3 0 0 0 3 0-8-1 0 0 9 0-1 0 1 0-9-1 1 0 1 0 8 0-1 0-3 0 4 0-1 0-9-1-1 0 1 0 10 0-7 0 1 0 5 0-7-1-3 0 3 0 5 0-3 0 0 0 0 0 2 0 1 0-7-1 1 0 9 0-2 0-3 0 3 0 1 0-10-1 8 0-1 0 0 0 3 0 0 0-7-1 0 0-1 0-2 0 1 0 10 0-2 0 0 0-2 0-2 0-1 0 5 0 2 0-10-1 4 0-3-1-1 0 2 0-1 0 3 0 1 0 2 0 0 0 1 0-9-1 9 0-3 0 1 0 0 0-1 0-2-1-2-1 0 0-1 0-1 0 2 0 1-1-1 0-1 0-1 0 3 0-3-2 1-1-1 0 2-1 10 9 0 0 0 2 1 0 1 1 4 0-5 1 1 0 2 0 3 1-4 0-1 0-2 0 6 0-2 1 0 0-1 0 0 0 4 1-4 0 2 0 4 0-1 1-4 0-2 0 0 0 1 0 0 0 3 0 2 0-5 1-1 0 2 0 1 0 1 0 1 0 3 0-10 1 7 0-3 0-3 0-1 0 2 0-2 1 0 0 4 0-1 0-1 0 5 0 0 0 4 0 0 0-11 1 0 0 0 0 6 0-5 0 4 0 1 0 5 0-11 1 5 0-3 0 9 0-1 0-1 0 1 0 1 0-4 1-3 0-3 0 4 0 2 0 4 0-2 0-1 1-3 0-2 0-3 0 1 0 1 0 3 0-1 0 6 0-1 0-2 1-2 0 2 0 0 0-7 1 7 0-7 0 5 0 1 0 5 0 0 0-2 0 2 0-5 1-1 0-3 0 0 0 1 0 5 0 3 0 0 0-11 1 0 0 8 0-5 0 1 0 6 0-2 1-1 0-4 0 0 0 0 0-1 0-2 0 7 0 3 0-1 0 0 0 2 0-5 1-2 0-3 0 3 0 7 0-3 1-4 0 1 0 0 0 2 0 2 0-5 1 5 0 1 0-1 0-3 1 0 0 3 0 0 0 0 0-2 1 2 0 0 0 1 1 0 0 1 0 12 11 0-1-1 0 1 0 0-1-1 0 0 0 1 0-4-2 0 0 3 0-1-1-3 0-2-1-1 0 4 0 1 0-3-1 3 0-1 0-1 0 0 0 2 0 3 0-11-1 8 0-2 0 0 0 3 0 2 0-9-1 0 0-2 0 10 0-4 0 5 0-7-1-1 0-3 0 0 0 2 0 8 0-2 0-3 0 0 0 1 0-5-1 1 0 7 0-2 0 0 0-1 0 4 0-6-1-2 0 0 0-2 0 0 0 1 0 3 0 5 0 1 0-5 0 1 0 3 0 2 0-6-1 6 0-3 0-2 0 5 0-6-1-4 0 0 0 3 0 0 0 6 0-2 0 2 0-9-1-1 0 2 0 2 0 0 0 7 0-2 0-4 0 4 0 1 0-6-1 0 0 7 0-1 0-5 0 3 0 2 0-7-1 4 0 3 0-8-1-2 0 4 0 0 0 7 0 0 0-5 0 1 0 2 0-7-1 2 0 0 0 6 0-2 0 0 0 1 0-4-1-4 0 5 0-1 0 1-1 3 0-5-1-4 0 0 0 0 0 0 0 0 0 1 0 1 0 2 0 4 0-4-1 2 0-3-1-2 0-1 0 1 0 1 0-2-1 1 0-1-3 0-1 12 12 1 0-1 0 0 1 3 0 2 1-1 0 2 1-1 0 0 0-3 0 0 0-2 1 1 0 6 0-5 0 0 0 4 0 0 0-6 1 8 0-3 0-2 0 3 1-1 0-3 0 2 0-4 1 1 0 5 0-3 0 3 0 4 0-10 1 10 0-3 0-3 0 0 0-2 0 8 0-10 1 1 0 6 0-2 0-3 0 2 0-2 0 1 0 4 0 1 0 2 0-9 1 8 0-2 0-3 0-1 0 8 0-11 1 10 0-5 0-1 0 0 0 2 0 5 0 0 0-11 1 5 0-2 0-1 0 0 0 4 0 3 0-9 1 2 0 0 0 0 0 1 0 1 1-1 0-1 0 3 0 4 0-2 1 0 0-5 0 0 0 1 0 1 0 0 0 4 0 2 0-9 2 0 0 9 0-2 0-2 0-4 0 0 0 3 0 0 0 2 0 3 0 1 0-10 1-1 0 1 0 1 0 0 0 1 0 1 0 7 0 0 0-3 1-1 1 0 0 0 0-2 0 1 0 0 0-2 0 0 0 7 0-2 1 1 0-1 1-4 0 4 0 1 0 0 0 0 2-2 0 0 0 2 0 0 1 1 1-1 0 1 0 11 10 1 0 0-1 0-1-1-1-1 0-2 0 2 0 1 0 0-1-2 0 0 0 2-1-5-1-1 0 2 0 5 0-5 0 1 0 4 0-6-1 2 0 1 0-8-1 3 0 8 0-1 0-3 0 0 0 3 0 1 0-9-1-1 0 4 0 1 0 5 0-1 0-1 0-2 0 0 0 4 0-8-1-3 0 1 0 5 0 2 0-3-1 1 0-2 0 0 0-4 0 1 0 4 0 4 0-2 0 1 0 2 0-10-1 11 0-4 0 1 0 1 0-4-1 0 0-4 0-1 0 0 0 1 0 1 0 5 0 3 0-4-1-2 0 0 0 6 0 0 0-10-1 1 0 5 0 0 0 4 0 0 0 0 0-3 0 1 0 0 0 1 0 1 0-7-1-1 0 0 0 0 0 2 0 7 0-4 0 4 0-5-1-3 0-2 0-1 0 2 0 2 0 7 0-3 0-4-1 0 0 0 0 1 0 6 0 0 0-3 0-1 0-4-1-2 0 4 0 1 0 2 0 0 0-3-1-2 0-3 0 2 0 6 0-1 0 0 0 3 0 0 0-7-1 1 0 1 0 1-1-2 0-1 0-1 0-2 0 0 0 0 0 6 0 2 0-1 0-1-1-6 0 1-1 2 0-2-1 3-1-2 0-2 0 0 0 2 0 0 0-1-1-1 0 2 0 10 8 0 1 2 1-1 1 1 0 0 0 1 1-2 1-1 0 4 0 0 0-3 1 1 0 3 0-2 0 4 0-7 1 8 0-2 0-4 1-1 0 0 0-1 0 10 0-2 0-2 0-3 0 1 0 0 0-1 1 0 0 3 0 2 0 2 0 0 0 0 1-2 0-2 0-1 0 5 0-8 1 0 0 8 0-3 0-4 0 2 0 5 0 0 0-8 1 9 0-2 0-1 0-4 0 1 0 4 0 2 0-9 1-1 0 9 0-1 0-4 0-1 0 0 0 1 0 1 0 5 0-10 1-1 0 2 0 4 0 0 0-1 0 5 0-8 1 0 0 7 0-4 0-2 0 0 0 7 0 1 0-10 1 7 0-2 0-1 0 0 0-2 0-3 1 0 0 11 0-2 0-1 0 1 0 2 0-3 1-3 0 2 0 2 1-3 0-3 0 1 0 3 0 2 0 0 1-6 0 3 0-2 0 2 0-4 1 0 0 3 0 6 1 0 0 0 0-5 0-2 0 1 0 0 0 6 0-2 1 0 0-3 0 1 0 3 0-1 0 2 0 0 1-5 0 3 0 0 1-3 0 3 0 1 1 1 2 12 11-1-2 1-1 0 0 0-1-2 0-3-1 5 0-2 0 2 0 0-1-1 0-2-1 2 0-3-1-2 0 1 0-3 0 2 0 1 0 0 0 1 0 4 0-2 0-4-1-1 0-2 0-1 0 2 0 1 0 6 0 0 0-1 0 1 0-10-1 11 0 0 0-1 0-1 0-1 0-1-1-5 0 3 0-1 0 4 0-1-1-1 0-1 0-1 0-2 0-1 0 4 0 3 0 0 0 2 0-9-1 5 0 5 0-7-1-4 0 1 0 9 0-2 0-2-1-6 0 2 0-2 0 4 0 7 0-4 0 2 0-5-1-2 0 0 0 0 0 0 0 1 0 2 0 2 0 1 0-2-1-5 0 6 0 1 0-5-1-2 0 0 0 7 0 2 0-3-1 0 0-5 0 0 0-2 0 4 0 2 0 4 0-1 0-6-1-3 0 1 0 1 0-1 0 1 0 3 0 0 0 4 0-1 0 0 0 3 0-5-1 0 0 0 0-2 0-4 0 4 0 4 0 3 0-4-1-1 0 0-1-1 0-4 0-1 0 5 0 2 0 1 0 0 0-1-1-6 0-1 0 6 0-1-1-1 0-4 0 1 0 4 0-1 0 2 0-1-1-2 0-2 0-1 0 0-1 12 7 0 1 0 1 4 0-2 1-1 0 0 0-1 0 0 0 3 0 1 1-2 0 4 0-4 2 0 0 6 0-3 0-1 0 1 0 3 0-4 1-1 0-2 0 0 0 10 0-5 0 1 0-6 1-1 0 4 0 0 0 5 0-4 0 4 0-7 1 0 0-1 0 1 0 1 0 8 0-4 0 0 0 2 0-5 1 0 0 6 0-4 0 4 0 0 0-7 1 2 0 3 0-6 1-1 0-1 0 1 0 1 0 7 0-1 0-1 0-1 0 2 0-1 0 1 0 2 0 1 0-7 1 0 0 7 0-3 0 2 0-6 0 2 0 2 0 2 0 1 0-8 1 7 0-6 0 6 0-7 1 5 0-1 0-2 0 1 0 0 0 1 0 1 0-8 1 2 0 9 0-5 0 1 0 0 0-5 1 0 0 9 0-1 0-2 0-4 0 1 0 3 0-8 1 1 0 1 0 1 0 3 0 0 0-1 0 3 0-5 1-3 0 7 0-3 0 5 0 1 0-8 1 8 0-5 0 0 0 1 0 5 0-8 1-1 0 8 0 0 0 0 0-4 0-1 0 2 0 2 1-1 0-1 0-3 0 2 0 2 1-3 0 2 0 1 0 0 1 3 0 0 2-3 0 1 0 13 10 1-1-3-1-1 0 4 0-1 0-3-1 4-1-2 0 0 0 1 0-5-1 0 0 0 0 1 0 1 0-3-1 2 0 4 0 0 0-3-1-4 0 1 0 7 0-2 0 0 0-9-1 8 0 0 0-6 0-1 0 0 0 1 0 1 0-3-1 6 0-4 0-1 0 4 0 0 0 1 0 5 0-2 0 2 0 0 0-6-1-4 0 0 0 6 0-7-1 0 0 7 0 0 0-1 0-2 0-2 0-1 0 1 0-1 0 4 0 1 0 5 0-7-1-3 0 3 0 1 0 0 0 6 0-2 0-3-1-2 0 3 0 0 0 3 0 0 0 0 0-1 0 2 0-4-1-3 0-3 0 7 0 3 0-6-1-1 0 1 0-1 0 3 0-1 0 3 0-1-1-5 0 1 0 4 0 0 0 2 0 1 0-11-1 4 0-4 0 2 0 4 0 5 0-8-1-1 0-1 0-1 0 4 0 5 0 1 0 1 0-3-1-6 0 0 0 5-1-2 0 0 0-2 0 2 0 5 0-3-1-5 0 4 0-1 0 1-1-1 0 0 0-4 0 0 0 0 0 1 0 3 0 0 0-5-1 1 0 1 0 2-1-4-1 2 0-1 0-1-1 1 0 11 8 3 2-3 0 0 0 1 0 1 0 2 1-2 0-1 0 0 1 0 1-1 0 0 0 5 0-1 1-3 0 5 0-4 1 0 0 2 0 3 0 1 0-1 0 0 0 1 0-5 1-3 0 2 0 3 0 4 0 2 0-10 1 2 0 1 0 2 0 0 0 3 0 1 0 1 0-7 1-1 0-2 0 0 0 1 0 2 0 4 0-3 0-3 1 2 0 2 0 0 0-1 0 5 0-9 1 1 0-2 0 2 0 9 0-1 0-3 0 1 0-2 0 0 0 5 0-7 1-4 0 2 0 0 0 2 0 1 0 5 0-7 1 7 0-2 0-3 0 0 0 3 0-1 0 4 0-11 1 0 0 1 0 3 0-1 0 8 0-3 0-5 1 1 0 6 0-2 0-1 0 0 0 2 0-6 1-3 0 5 0 0 1 0 0-5 0 9 0-3 0 2 0 3 0-8 1 0 0-1 0-1 0 3 0 6 0-4 0 1 0 1 0-5 1-1 0 2 0 1 0 6 0 0 0 0 0-5 0 1 0-3 1 5 0 0 0-2 0 0 0 1 0-3 1 3 0 3 0-7 1 1 0 3 0-1 0 2 0 0 1-1 0 0 0 2 0 0 0 0 1-5 0 2 0 2 1-1 0 3 0-1 1 1 0-1 0 1 1 12 8-2-1 1-1-1-1-1 0-3 0 1 0 5 0-1 0-2-1-3 0 0 0 3 0 2 0-4-1-2 0 0 0-1 0 3 0 2 0-2-1 3 0 1 0 1 0-9-1 2 0 1 0 6 0-2-1-5 0 0 0-2 0 9 0 0 0-7-1-2 0 2 0 4 0-8-1 3 0 1 0 0 0 0 0 7 0 0 0-10-1 0 0 9 0-5 0-2 0 0 0 0 0-1 0 3 0-2 0 2 0 3 0 3 0-10-1-1 0 9 0-5 0 2 0-4 0 3 0 3 0 0 0 3 0-11-1 4 0-2 0 0 0 0 0 1 0 4 0-6-1 7 0-3 0 1 0 1 0 4 0-3-1 0 0-3 0-2 0 1 0-1-1 0 0 1 0 0 0 3 0 2 0 2 0-10-1-1 0 7 0 2 0 2 0-1 0 1 0-5-1-2 0-1 0-1 0 0 0 2 0 0 0 0 0 4 0 1 0-9-1 4 0 0 0 4 0-7-1 6 0 0 0-2 0-3 0 1 0-3-1 7 0 0 0-3 0-2 0 6 0-7-1 3 0-1 0 0 0 3-1-6-1 0 0 1-1 2 0 10 9 5 1-5 0-1 0 3 1 0 0-2 1 4 0-1 1 1 0 0 0-1 1-4 0 2 0 1 0 3 0 1 0-7 1 4 0 3 0-2 1 0 0-1 0-1 0-3 0 0 0 6 0-1 0 1 0 4 0-1 0-2 0-1 1-3 0 5 0-1 0-1 0 4 0 1 0-5 1-1 0 0 0-3 0-1 0 3 0 0 0 6 0-2 0-1 0 1 0-1 0-7 1 7 0 0 0-1 0-4 1 2 0-1 0 6 0-3 1-1 0-2 0 1 0-2 0 0 0-2 0 1 0 0 0 0 0 2 0 2 0 3 0-1 0-1 0 0 0 1 0-7 1 0 0 8 0 2 0 0 0-7 1 0 0-3 0 1 0 10 0-3 0-1 0 1 0-5 1-2 0 0 0 0 0 6 0 2 0-3 1-6 0 1 0 2 0 5 0 3 0-7 1-3 0 4 0 5 0 0 0-6 1-4 0 2 0 1 0 3 0 3 0 0 0-4 1-3 0 0 0 9 0-1 0 0 0-2 0 3 0-1 0-7 1 1 0 4 0 0 0 1 0-6 1 5 0 3 0-6 1 2 0 2 0 0 1-3 0 2 0 3 0 0 0 0 1-1 0-3 0 4 0-1 1-1 0 11 9 2 0 0-1-1 0 0 0 1 0 0-1 0-1-3 0 0 0-4 0 3 0 1 0 2 0 2 0 0-1-2 0 1 0-3 0-2 0-1 0 3 0 1 0 3 0 0 0-2-1-2-1-1 0 1 0-5-1 0 0-1 0-1 0 1 0 1 0 7 0-2 0 4 0-4-1-1 0-1 0-2 0 2 0 2 0-1 0 5 0-9-1 0 0 5 0-2 0 1 0 4 0-9-1 8 0-2 0 1 0 1 0 1 0-8-1-2 0 1 0 6 0-1 0 2 0-6-1-1 0 8 0-2 0-2 0-1 0 0 0-1 0 8 0-11-1 10 0-2 0-4 0-1 0 0 0 0 0 7 0-10-1 0 0 9 0 0 0-1 0 0 0 0 0-5 0 0 0 6 0 2 0-10-1 1 0 8 0-3 0-4 0 4 0 1 0-1 0 4 0 0 0-9-1 4 0-6-1 3 0 0 0 3 0-6-1 0 0 9 0-5 0 7 0-9-1-1 0-1 0 8 0-3 0-2 0 4 0-1 0-4-1 3 0-1 0 0 0 1 0 2 0-7-1 4 0-1 0-3-1 5 0-2 0 0 0-2-1 0 0 3 0-1 0-3-1 1 0 0 0 0-1 0-1-1 0 13 10 0 0-1 0 3 1 0 1 0 1 0 1 0 0-3 0 0 0 0 0 2 0 3 0 0 1-3 0-1 0 1 0 2 0-1 1 2 0 1 0 1 0 2 0-5 1-3 0-1 0 4 0 4 0 2 0-5 1 5 0-3 0 3 0-4 1-2 0 1 0-5 0 0 0 0 0 4 0 0 0 2 0-1 0 3 0 2 0-7 1-2 0 2 0 4 0-4 1-3 0 1 0 2 0 1 0 7 0-3 0 3 0-5 1-1 0-2 0 3 0 0 0 4 0 0 0-2 0-3 1-3 0 0 0-2 0 0 0 2 0 9 0-3 0 2 0 1 0-11 1 4 0 3 0 2 0-1 0-1 1-3 0-3 0 0 0 3 0 3 0 0 0 0 0 2 0-1 0 1 0-5 1-3 0-1 0 2 0 7 0 2 0-4 1-7 0 0 0 2 0 7 0-3 1-4 0 1 0-2 0 10 0-4 1-6 0 1 0 3 0 0 0 4 0 0 0-5 1-2 0-1 0 5 0 4 0 0 0-6 1 2 1 1 0-2 0 6 0-1 0-4 1 4 0 0 0 0 0 1 1-1 0 1 1-1 0 0 1-1 0 1 1-1 0 1 1 10 6 3-1-5 0 1 0 1 0 3 0 0-1-1 0-2 0-3 0 6-1-3 0-4 0 2 0 2 0 1 0-2 0-4-1 7 0-3 0-2 0 0 0-1 0-1-1-1 0 1 0 6 0-2 0-2 0 6 0-9-1 3 0 2 0-1 0 0 0 2 0-4-1-2 0 0 0 1 0 1 0 7 0-4 0 3 0 1 0-10-1 10 0-1 0-2 0 1 0-2 0-5-1 0 0 9 0-5 0-1 0-1 0 0-1-3 0 1 0 0 0 3 0 0 0 6 0-11-1 8 0-3 0 4 0 0 0 2 0-7-1-1 0-3 0 1 0 3 0 0 0 2 0 0 0 4 0 1 0-9-1-2 0 0 0 2 0 6 0-4 0 7 0-9-1 2 0 1 0 1 0 2 0 3 0-10-1 3 0 6 0-4 0-1 0-1 0 0 0 6 0 1 0-8-1-1 0 0 0 5 0-2 0 6 0-9-1 0 0-1 0 0 0 0 0 10 0-1 0-1 0-1 0-3 0 4 0-7-1 0 0 1 0 4 0-2 0 2 0 2 0-6-1 3 0-2 0 3 0-5-1-1-1-1 0 2 0 3 0-1 0-2-1-2 0 4 0-1-1-1 0 1-1-1 0-1 0 0 0 11 9 0 1 3 0 0 0-2 0-1 0 2 1-2 1 2 0 3 1-2 0-2 0 0 0-1 0 6 1-3 0 3 0-1 1 0 0-5 0 2 0 2 0-4 1 0 0 5 0-4 0 0 0 2 0 2 0 3 0-2 1-1 0 1 0 3 0-4 1 0 0-4 0 0 0 2 0 2 0 3 0-1 0-7 1 0 0 4 0-1 0 6 0-1 1-7 0 1 0 7 0 0 0-4 1-3 0-1 0 1 0 0 0 3 0 1 0 3 0-9 1 7 0-6 0 2 0-3 0 3 0 5 0 2 0-9 1 5 0 1 0 1 0 2 0 1 0-5 1-2 0-2 0-1 0 3 0 4 0 2 0-2 1-6 0-1 0 2 0 4 0 4 0-2 0 0 0 2 0-11 1 8 0-1 0-4 0 1 0 4 0 1 0-1 1-3 0-2 0-1 0-1 0 2 0 1 0 1 0 2 0 0 0 4 0-2 0 2 0-3 1-1 0-6 0 1 0 8 0 1 0-6 1 5 0-1 0 2 0-5 1-1 0 0 0 2 0 2 0 1 0-3 2-2 0 0 0 2 0 1 0 2 0-3 1-2 0 1 0 5 0-1 0 1 0 0 1 0 1-2 1 1 0 0 1-1 0 2 1 10 11 1 0 0 0 0-2-3 0 2 0 2 0 0-1-1 0-2 0-2 0 1 0 3 0-4-1 4 0 1-1-2 0 1 0-3 0-1 0 2 0 0 0-6-1 1 0 7 0-5 0 4 0 1 0 1 0-8-1 3 0-4-1 1 0 8 0-5 0 2 0 1 0-1 0-7-1 2 0 4 0 1 0 3 0 0 0 0 0-6-1-3 0 1 0 6 0-1 0-3 0 4 0-7-1-2 0 3 0 4 0-1 0 4 0-6-1-1 0-3 0 1 0 2 0 8 0-1 0-2 0-2 0-1 0 1 0 1 0-3-1-1 0-3 0 0 0 4 0 3 0 4 0-10-1-1 0 0 0 4 0 5 0-1 0-2 0 5 0-7-1 7 0-3 0 0 0 3 0-11-1 2 0 6 0-2 0 1 0 4 0-8-1-2 0-1 0 0 0 2 0 1 0 1 0 7 0-1 0-1 0-1 0-1 0 1 0-3-1-1 0 0 0 5 0 0 0-1 0-1 0 2 0 0 0-7-1-1 0 4 0 1 0-2-1 2 0 2 0-4-1-1 0-1 0 4 0-4-1 2 0 1 0-4-1 2-1 0 0-3 0 0 0 1 0 3 0-4-1 3 0-1-1 1-1-1 0-2 0 0-2 12 14 1 1 0 0-1 2 2 0-2 1 1 0 3 0 0 0-2 1 3 0 1 1-2 0-1 0-1 0 0 0 1 0-3 1 2 0 2 0 1 0-4 1 8 0-4 0-3 0 4 0 1 0-6 1 3 0-1 0-1 0 0 0 4 0-6 1 9 0-1 0-1 0-4 0 2 0-3 0 2 0 1 0 0 0 4 0 1 0-7 1 1 0 5 0 2 0-10 1-1 0 9 0-1 0-6 0 0 0 1 0 2 0 3 0 3 0 0 0-3 1-4 0 0 0 2 0 5 0-1 0 1 0-11 1 5 0 6 0-8 1 8 0 0 0-1 0 1 0 0 0-11 1 5 0-3 0 3 0-1 0 5 1 1 0-2 0-3 0-4 0 4 0 3 0-8 1 1 0 7 0-1 0-3 0 1 0-3 0 3 0 3 0 2 0-9 1-1 0 4 0 1 0 5 0-9 1 6 0 1 0-4 0 0 0-1 0 3 0 2 0 0 0 2 0-6 1-1 0 5 0 3 0-1 1-3 0-2 0 0 0-1 0 2 0 3 0 1 0 1 0-2 1-1 0-2 0 4 0-2 1-1 0 1 0 2 0 1 0-1 0 1 0 0 1-1 0-2 1 1 0 0 1 0 1 2 0 0 2 0 0 12 13 0-1-1-1 1-1 0 0-2 0 1 0 0-1-1-1 2 0-1 0-3 0 4 0-5-1 0 0 4 0-4 0 2 0 3-1-1 0 1 0-5 0 1 0 2 0 2 0-3-1-2-1-1 0-2 0 2 0 5 0-2 0-1 0 1 0-3-1-1 0 7 0 0 0-8-1 0 0 8 0-3 0 0 0-3-1 0 0-4 0-1 0 1 0 2 0 7 0-3 0-1-1-5 0-1 0 5 0 0 0 5 0-4 0 1 0-1 0 2 0 2 0-7-1-1 0 0 0 4 0 1 0 4 0-6-1-2 0 2 0 0 0 2 0 1 0 3 0-11-1 6 0-1-1-2 0-3 0 0 0 4 0 1 0 1 0 2 0 0 0-6-1 8 0-2 0-1 0 2 0-4-1-3 0 0 0 4 0 3 0-2 0 0 0-5-1 0 0 2 0 2 0 2 0-5-1 0 0-2 0-1 0 6 0 3 0-6-1-3 0 1 0 0 0 3 0 6 0-1 0-2 0-3-1-3 0 6 0-1 0-4-2 1 0 3 0-6-1 0 0 3-1-1 0-2 0 0 0 3-1-3 0 1 0-1 0 1 0 2 0-3-2 0-1 14 16-2 0 1 0 1 0 0 0-1 1 1 1-1 0 1 0 0 0 1 0 2 0-3 1 2 0-4 1 0 0 6 0 0 0-1 0 0 0 0 0-3 1 0 0 0 0-1 0 0 0 4 0-2 0 0 0 5 0-6 1 6 0-4 0 2 0-6 1 2 0 0 0 6 0-3 0 3 0-8 1 9 0-1 0-4 0 4 0-1 1-1 0 0 0 2 0 2 0-8 1-1 0 0 0 1 0 7 0-1 0-3 0-2 0 1 0 4 0-1 1-2 0-1 0 0 0 1 0 2 0-6 1 8 0-1 0-4 0-1 0 3 0 3 0 1 0 1 0-10 1 5 0-1 0 2 0 0 0 0 0-7 1 0 0 2 0 7 0-1 0-1 0-4 0 6 0 2 0-11 1 10 0-4 0-3 0 8 0-1 0 1 0-11 1 7 0-4 0-1 0 2 0 0 0 1 0-3 1 8 0-2 0-1 0 2 0 2 0-6 1-1 0 0 0 4 0 2 1-4 0-2 0 2 0 0 0 4 1-4 0 3 0 2 0-4 1 2 0 0 0 2 2-5 0 2 0 0 0 3 1-1 0-1 0 1 1 0 0-1 0-1 0 1 0-1 0 3 0 0 0 0 2 0 0 0 1 12 11 0 0 0 0-1-1 0 0-1 0 2 0-1-1-3-1 4 0-4 0-1-1-1-1 6 0 0 0-4-1 4 0-3 0 3 0-6-1-1 0 1 0 2 0-2-1-2 0 3 0 5 0-2 0-2 0-1-1 0 0-2 0-1 0-1 0 8 0 1 0 0 0-5-1-1 0-4 0 3 0 2 0-1 0 6 0-5-1-3 0-1 0-2 0 6 0 1 0 4 0-11-1 6 0 3 0-1 0-4-1-2 0 4 0 1 0 3 0-2 0-5-1-1 0 9 0 0 0-4 0 1 0-4-1-1 0-2 0-1 0 2 0 8 0-1 0 0 0-2-1-3 0 2 0 5 0-2 0-2 0-4-1-1 0 1 0 1 0 1 0 1 0 5 0-2 0 1 0-1 0-9-1 0 0 4 0 2 0 1 0 0 0-1-1 0 0-2 0 1 0-4 0 0 0 7 0 1 0-3-1-4 0-2 0 1 0 8 0-3-1 0 0-3 0-2 0 1-1 1 0 2 0-5-1 1 0 2 0 0-1-1 0 3-1-2 0 0 0-2 0-1 0 1 0 0-1 0-1 0 0 1 0-1-2-1 0 0 0 12 11 0 2 0 1 2 1-2 1 2 0-1 1 2 0-2 1-1 0 2 0 4 0-2 0-1 1-2 0 1 0 2 0-3 1 0 0 6 0-1 0-4 1 5 0 0 0 0 0-5 1 0 0-2 0 1 0 7 0-3 0 3 0-7 1-1 0 2 0 8 0-4 0 0 0-3 1 5 0-3 0-2 1 0 0-1 0 9 0-2 0-2 0 0 0-2 0 1 0 1 0-5 1-1 0 0 0 2 0 6 0 0 0-2 0 0 0-1 0 4 0-7 1-3 0 1 0 0 0 4 0 1 0 0 0 1 0 2 0-8 1-1 0 1 0 1 0 8 0-2 0-1 0-5 1 0 0-1 0 8 0-2 0-2 0 0 0 1 0-4 1-2 0 1 0 2 0 5 0 0 0-1 0-3 0 0 0 4 0 3 0-8 1-2 0 3 0 7 0-2 0-3 0 2 0 3 0-10 1 0 0 7 0-1 0-3 0 0 0-3 1 0 0 9 0-3 0-1 0 5 0-11 1 9 0-3 0-1 0 0 0 0 0-1 0 7 0-3 1-4 0 1 0 6 1-7 0 6 1 0 0 0 0-1 0 2 0-2 1-3 0 5 0 0 0 0 1-4 0 2 0 1 0 1 1 0 1 0 0-2 0 0 1 0 0 1 0 1 1 12 12 0 0 0-1-1 0-1 0 0 0 1 0 0-1-1 0-2-1 0 0 0-1-1 0 0 0 2 0 3 0-1 0 0 0-3-1 3 0-2-1 2 0 0 0-4-1-1 0-2 0 0 0 3 0 3 0 1 0-1 0-7-1 3 0 1 0 2 0 1 0 2 0-4-1-2 0-1 0 5 0-2-1-1 0-1 0 0 0 0 0 1 0 1 0 4 0-5-1-4 0-2 0 1 0 4 0 2 0 4 0-1 0-5-1-4 0 5 0 0 0 0 0 1 0 3 0 1 0-3-1-4 0-3 0-1 0 2 0 3 0 2 0 1 0 1 0-3-1-1 0-4 0-1 0 7 0 4 0-2 0 2 0 0 0-10-1 4 0 4 0 0 0-1-1 0 0-5 0-3 0 8 0 0 0 1 0 0 0-9-1 6 0-1 0-1 0 0 0-3 0 6 0 0-1-1 0-3 0 0 0 0 0 2 0 1 0 1 0 2 0 1 0 1 0-4-1 1 0-6 0 6 0 0 0 2 0-10-1 4 0-2 0 4 0-6-1 7-1-5 0-1 0 1-1-1 0 2-1 0 0 2 0 1 0-6-1 2 0-1 0 0 0 2-1-2 0-1-1 1 0 2 0-2-1-1-1 1 0 11 12 0 2 1 1-1 0 0 0 0 0 2 1-1 0-1 0 0 1 4 1-2 0 1 0 0 0-1 1-2 1 1 1 1 0 4 0 1 0-3 1-1 0-1 0-1 0 1 0 3 0 3 0 0 0-2 0 0 0-1 0 1 0 1 0-4 1-3 0 1 0 4 0 5 0-7 1-1 0-1 0 2 0 2 0 1 0 1 0-2 0-2 1-2 0-1 0 3 0 0 0 2 0 5 0 0 0 0 0-1 0-2 0-2 0 0 0 6 0-6 1 3 0 3 0-10 1 3 0-1 0 4 0 2 0-5 1 7 0-5 0-1 0 3 0 1 0-6 1-2 0 3 0 7 0-2 0 1 0-4 0-1 0 2 0-3 1-3 0-1 0 3 0 7 0-3 0-4 1-1 0 1 0-1 0 9 0-4 0-7 1 2 0 9 0-4 0-1 0-1 0 0 0 0 0 5 0-7 1-1 0 9 0-6 0 2 0 4 1-5 0 4 0 0 1-1 0-3 0 3 0 1 0 0 0-1 0-5 1-1 0 1 0 3 0-1 0 1 0 3 0-3 1 0 1 1 0 2 1-4 0 3 0 2 1-1 0 1 0-4 0 1 0 1 0-1 1 3 1 0 1 0 0 0 0 0 0 0 0 0 1 12 12-2-1 1 0-3-3 3 0 1 0-4-1 1 0 2 0-5-1 3 0 0-1-3 0-1 0 1 0-1 0 0 0 2-1-3 0 0 0 5 0 1-1-5 0 0 0 4 0 1 0 0-1-3 0-3 0 1 0 3 0 4 0 0 0-1 0 1 0-2-1-2 0 0 0-5 0 0 0 3 0 0 0 4 0 2 0-2-1-2 0-3 0-1 0 2 0 0 0-4-1 9 0 1 0-10-1 7 0 0 0-2 0-4 0-1 0 1 0 0 0 6 0-2-1 0 0-3 0 0 0 3 0 1 0 4 0-2-1-4 0-3 0 3 0 6 0-11-1 0 0 5 0-3 0 0 0 5 0 2-1 0 0-1 0-1 0-5 0 6 0-8-1 7 0-5 0 2 0 1 0 1 0 0 0 3 0-8-1 3 0 0 0 0 0 3 0-6-1-1 0 4 0 3 0-7-1 7 0-1 0-2 0 0 0-2 0-1 0 4 0 0 0 1-1-1 0 1 0-6-1 0 0 3 0 3 0-4-1 0 0 1-1 0 0-3-1 0 0 3-1-3-1 1 0 11 11 1 3-1 1 0 0 3 1-1 0 0 0 2 0-1 1 0 0 0 0 0 0 1 0 1 0-3 1 1 0 1 1-1 0-1 0-1 0 3 0-1 0 0 0-2 1 4 0 1 0 2 0-2 0 1 0-1 0-1 1-1 0-1 0-1 0-2 0 0 0 0 0 3 0 0 0 3 0 4 1-2 0-8 1 3 0 2 1-2 0-1 0 1 0 7 0-4 0 5 0-6 1-3 0-2 0 1 0 0 0 3 0 6 0-1 0-1 0 1 0-2 0 3 0-4 1-2 0-3 0-1 0 10 0-1 0-2 0 3 0 0 0-8 1 2 0 3 0-1 0 2 0 0 0 2 0-4 1 0 0-6 0 1 0 3 0 1 0-1 1 0 0-2 0-2 0 2 0 3 0 1 0 5 0-4 0 1 0 1 0-7 1 0 0-2 0 0 0 0 0 2 0 4 0 2 0 1 0-4 1 1 0-2 0-4 0 2 0 7 0-1 0-2 0 1 0 2 0-8 1 7 0 1 0 2 0-7 1 7 0-2 0-1 0-2 0 0 0 2 0 0 0 2 0-5 1 6 0-3 0-1 0 4 0-6 1 0 0-1 0 3 0 1 0-2 1 3 0-2 0 3 0-4 1 2 0 0 0-2 0 1 1 1 0 1 1-1 1 1 1 2 0 0 0 0 1-2 0 2 0-1 1 12 12 1 0 0 0 0 0-1-1-1 0 2-1-1-1 0 0-4 0 4-1-3 0 1 0 3 0-1-1-4 0 2-1-2 0 0 0 1 0 3 0-6-1 2 0 1 0 2 0 2 0-2-1-2 0-1 0-2 0 2 0 5 0-9-1 7 0-5 0-1 0 3 0 1 0 1 0 3 0-10-1 6 0-1 0 1 0-3 0 6-1-2 0-1 0 4 0-10-1 4 0-2 0 1 0-1 0 1 0 6 0-9-1 0 0 8 0-1 0-5 0 3 0 1 0 3 0-8-1-1 0 10 0-1 0 0 0-2 0-1 0-4 0 2 0 6 0 0 0-10-1 4 0 4 0 1 0 1 0 0 0-10-1-1 0 6 0-4 0 3 0 1 0-5-1 1 0 1 0 0 0-1-1 7 0 0 0-2 0-4 0 0 0 5 0-6-1 8 0-2 0-2 0-2 0-1 0 1 0 5 0-7-1-2 0 6 0-4 0 3 0-3-1 4 0-3 0 2 0-1 0 4 0 0 0-8-1 6 0-2 0 1 0-1 0 2 0-6-1 1 0 4 0-5-1 1 0 0 0 4 0 0 0-4-1 4 0-2-1-3-1 2 0 0 0-2-1 0-3 12 15 0 0 0 1 2 1-1 0 0 1-1 0 4 0 1 1-5 0 0 0 2 0-2 1 6 0-1 1 0 0-2 0-3 0 2 0 1 1-1 0-2 0 0 0 3 0 2 0 1 0-1 1-5 0 2 0 0 0 2 0-1 1 2 0 1 0-1 1-5 0 0 0 9 0-4 1-4 0-1 0 0 0 2 0 3 0-1 0 6 0-2 0-3 1 6 0-3 0 1 0 1 0 1 0-9 1-1 0 0 0-1 0 0 0 1 0 2 0 7 0-1 0 2 0 0 0-4 1-1 0-2 0-1 0-2 0 5 0 4 0-2 0 0 0-4 1-2 0 3 0 3 0-6 1 2 0 2 0 1 0 1 0-1 1-5 0-2 0 0 0 2 0 4 0-1 0 3 0 0 0 1 0 2 0-6 1-4 0 1 0 7 0 2 0 0 0 0 0-8 1-2 0 2 0 0 0 8 0-8 1 4 0 0 1-3 0-1 0 4 1-4 0 2 0 4 0 0 0-1 0 0 0-4 1 6 0 0 0-1 0-1 0 1 0 0 0 2 0-2 1-2 1 0 0 1 0 3 0 0 1-3 0 1 0 1 0 0 0 0 0-1 1-1 0 2 4 13 13-1-1 0 0 1-1 0 0-3-2 3 0-1-1-1 0-2 0 1 0 2-1-1-1-2 0 2 0 2-1-5 0-2 0 7 0-5-1-1 0-2-1 1 0 1 0 1 0 1 0 2 0 0 0 1 0 0 0 1 0-9-1 8 0 0 0-2 0-1 0-3 0-1 0 3 0 5 0-10-1-1 0 3 0 3 0 2 0-8-1 1 0 10 0-3 0-2 0-2 0 1 0-1 0 0 0 6 0-7-1-2 0-1 0 0 0 0 0 2 0 7 0 0 0-2 0 1 0-5-1 7 0-1 0-3 0-2 0 4 0 1 0 2 0 0 0-10-1 2 0 8 0-2 0-2 0-1 0-2 0-1-1-2 0 10 0-6 0 0 0 2 0 2 0 0 0 2 0-8-1 0 0 0 0 8 0-4 0 4 0-10-1-1 0 8 0-3 0 1 0 4 0-7-1-2 0 0 0 9 0-7 0 8 0-11-1 1 0 8 0-3 0-2 0 5 0 0 0-6-1 0 0-2 0-1 0 8 0-3 0 0 0 1 0 0 0-3-1-3 0 3 0 4 0-3 0-2-1-1 0 4 0-4-1 5 0-4-1 0 0-2 0 3 0 1 0-2-1 1 0-1-1-2 0 1 0 1-1 0-1-2 0 12 13 0 1 1 1-1 1 2 0 2 0-4 1 3 0 1 0 2 1-5 0 1 0 2 0-4 1 4 0 2 0-1 0-4 0 6 1 0 0-2 0-3 0 3 0-3 1-1 0 1 0 4 0 1 0 0 1-1 0-4 0 0 1-1 0 0 0 6 0 3 0-1 0-1 1-1 0-3 0-1 0 0 0-1 0 5 0 1 0-8 1 2 0 0 0 5 0 4 0-1 0-7 1 1 0 2 0 1 0 1 0 3 0-1 0-10 1 8 0-3 0-2 0 0 0-2 0-1 0 0 0 0 0 2 0 5 0 4 0 0 0-1 0-3 1 0 0-1 0-3 0-2 0 0 0 0 0 5 0 0 0 1 0 4 0-2 0-7 1-2 1 6 0 5 0-7 1-3 0-1 0 1 0 4 0 1 0 2 0-1 1-1 0-5 0 9 0 1 0 0 0-5 1 0 0-2 0 0 0 2 0 2 0 3 0-3 1-4 0 0 0 5 0-4 1 4 0-2 1 2 0-1 1 3 0-1 0-3 1 1 0 1 0 2 0-4 1 0 0-1 0 2 0 1 1 0 0 1 1 0 1 0 0 12 14 1-1 0-1-2 0 1 0-2-2 3 0-4-1 4-1-3 0-1 0 0 0 3 0 0-1-1 0-1 0-2 0-1 0-1-1 1 0 2 0 0 0 1 0 2 0-5-1-2 0 1 0 5 0-4 0 1 0 0 0 3 0 1 0-7-1 1 0 0 0 5 0-2 0 4 0-8-1 2 0 3 0 0 0-2 0-1 0 0 0 2 0-1 0-2-1-1 0-2 0 3 0 6 0-3 0 1 0 2 0-7-1 0 0-1 0-1 0 5 0 0 0 2 0-8-1 0 0 2 0 6 0-1 0 4 0-6-1-2 0 8 0-6 0 3 0 1 0 2 0-8-1-3 0 2 0 1 0 1 0 7 0-3 0-2 0 0 0 0 0-3-1-2 0 1 0 0 0 0 0 5 0-2 0 4 0-5-1-2 0-2 0 1 0 3 0 4 0-2 0 1 0 0-1-1 0-1 0 4 0-2 0-4-1-3 0 1 0 3 0 6 0-1 0-1 0-2 0 4 0-6-1-3 0-1 0 2 0 2 0 2 0 1 0 1 0 0 0-6-1-1 0 6 0-1 0-1 0 0 0-1-1-2 0-2 0 3-1-3 0 1 0 2 0 0 0 3 0 0 0 0 0-5-1-1 0 1 0 2 0-3-1 1 0 2 0 1 0-2-1-2 0 3 0 0-1-2 0 2-1-2-1 12 14 1 1-2 1 2 0-1 1 1 0 0 0 0 0 2 1-1 0 1 0-1 0-1 0 1 0-3 1 3 0-3 1 4 0 2 0 2 1-4 0-3 0 4 0 0 1-2 0 4 0-7 1 4 0-2 0 3 0-4 1 4 0-1 0 5 1-1 0 0 0-6 0 5 0 0 0-6 1 5 0-1 0-3 0 5 0 0 0-6 1 8 0-4 0-2 0 1 0 2 0-6 1 8 0-1 0-1 0-1 0 0 0-1 0 2 0 1 0 2 0-8 1-1 0 8 0-4 0 0 0-3 0 4 0 4 0-8 1-1 0 8 0-4 0 2 0 1 0-4 1 2 0-5 1 8 0-1 0-2 0-2 0 2 0 2 1 1 0-1 1-3 0-2 0 1 0 2 0 1 0 3 0-2 1-2 0-2 0 0 0 2 0 1 0 2 0 0 1 0 0-1 0-2 0 1 0 0 0 3 1 0 0-4 0 3 0-2 1 1 0 1 1 0 1 1 1"/>
</g>
<g fill="#b0b0b0" fill-opacity=".3"><rect x="147.1667" y="72.0000" width="1.6667" height="577.0000"/><rect x="252.1667" y="72.0000" width="1.6667" height="577.0000"/><rect x="357.1667" y="72.0000" width="1.6667" height="577.0000"/><rect x="461.1667" y="72.0000" width="1.6667" height="577.0000"/><rect x="566.1667" y="72.0000" width="1.6667" height="577.0000"/><rect x="671.1667" y="72.0000" width="1.6667" height="577.0000"/><rect x="776.1667" y="72.0000" width="1.6667" height="577.0000"/><rect x="881.1667" y="72.0000" width="1.6667" height="577.0000"/><rect x="986.1667" y="72.0000" width="1.6667" height="577.0000"/><rect x="106.0000" y="115.1667" width="922.0000" height="1.6667"/><rect x="106.0000" y="217.1667" width="922.0000" height="1.6667"/><rect x="106.0000" y="319.1667" width="922.0000" height="1.6667"/><rect x="106.0000" y="421.1667" width="922.0000" height="1.6667"/><rect x="106.0000" y="524.1667" width="922.0000" height="1.6667"/><rect x="106.0000" y="626.1667" width="922.0000" height="1.6667"/></g>
<g fill="#b0b0b0" fill-opacity=".3"><rect x="1186.1667" y="72.0000" width="1.6667" height="577.0000"/><rect x="1353.1667" y="72.0000" width="1.6667" height="577.0000"/><rect x="1521.1667" y="72.0000" width="1.6667" height="577.0000"/><rect x="1689.1667" y="72.0000" width="1.6667" height="577.0000"/><rect x="1857.1667" y="72.0000" width="1.6667" height="577.0000"/><rect x="2024.1667" y="72.0000" width="1.6667" height="577.0000"/><rect x="1145.0000" y="115.1667" width="922.0000" height="1.6667"/><rect x="1145.0000" y="217.1667" width="922.0000" height="1.6667"/><rect x="1145.0000" y="319.1667" width="922.0000" height="1.6667"/><rect x="1145.0000" y="421.1667" width="922.0000" height="1.6667"/><rect x="1145.0000" y="524.1667" width="922.0000" height="1.6667"/><rect x="1145.0000" y="626.1667" width="922.0000" height="1.6667"/></g>
<g fill="#000"><rect x="105.1667" y="71.1667" width="1.6667" height="578.6667"/><rect x="1027.1667" y="71.1667" width="1.6667" height="578.6667"/><rect x="105.1667" y="71.1667" width="923.6667" height="1.6667"/><rect x="105.1667" y="648.1667" width="923.6667" height="1.6667"/><rect x="147.1667" y="649.0000" width="1.6667" height="7.0000"/><rect x="252.1667" y="649.0000" width="1.6667" height="7.0000"/><rect x="357.1667" y="649.0000" width="1.6667" height="7.0000"/><rect x="461.1667" y="649.0000" width="1.6667" height="7.0000"/><rect x="566.1667" y="649.0000" width="1.6667" height="7.0000"/><rect x="671.1667" y="649.0000" width="1.6667" height="7.0000"/><rect x="776.1667" y="649.0000" width="1.6667" height="7.0000"/><rect x="881.1667" y="649.0000" width="1.6667" height="7.0000"/><rect x="986.1667" y="649.0000" width="1.6667" height="7.0000"/><rect x="99.0000" y="115.1667" width="7.0000" height="1.6667"/><rect x="99.0000" y="217.1667" width="7.0000" height="1.6667"/><rect x="99.0000" y="319.1667" width="7.0000" height="1.6667"/><rect x="99.0000" y="421.1667" width="7.0000" height="1.6667"/><rect x="99.0000" y="524.1667" width="7.0000" height="1.6667"/><rect x="99.0000" y="626.1667" width="7.0000" height="1.6667"/></g>
<g fill="#000"><rect x="1144.1667" y="71.1667" width="1.6667" height="578.6667"/><rect x="2066.1667" y="71.1667" width="1.6667" height="578.6667"/><rect x="1144.1667" y="71.1667" width="923.6667" height="1.6667"/><rect x="1144.1667" y="648.1667" width="923.6667" height="1.6667"/><rect x="1186.1667" y="649.0000" width="1.6667" height="7.0000"/><rect x="1353.1667" y="649.0000" width="1.6667" height="7.0000"/><rect x="1521.1667" y="649.0000" width="1.6667" height="7.0000"/><rect x="1689.1667" y="649.0000" width="1.6667" height="7.0000"/><rect x="1857.1667" y="649.0000" width="1.6667" height="7.0000"/><rect x="2024.1667" y="649.0000" width="1.6667" height="7.0000"/><rect x="1138.0000" y="115.1667" width="7.0000" height="1.6667"/><rect x="1138.0000" y="217.1667" width="7.0000" height="1.6667"/><rect x="1138.0000" y="319.1667" width="7.0000" height="1.6667"/><rect x="1138.0000" y="421.1667" width="7.0000" height="1.6667"/><rect x="1138.0000" y="524.1667" width="7.0000" height="1.6667"/><rect x="1138.0000" y="626.1667" width="7.0000" height="1.6667"/></g>
<g opacity=".999"><text x="525.39" y="32.94" font-size="24.31" textLength="82.80" lengthAdjust="spacingAndGlyphs">Y vs X1</text>
<text fill="#090909" x="260.12" y="59.76" font-size="24.42" textLength="614.02" lengthAdjust="spacingAndGlyphs">Pearson=-0.001, MIC=0.004, dCOR=0.025, ξn=0.005</text>
<text x="1564.08" y="32.99" font-size="24.23" textLength="82.83" lengthAdjust="spacingAndGlyphs">Y vs X2</text>
<text fill="#090909" x="1298.22" y="59.77" font-size="24.43" textLength="614.80" lengthAdjust="spacingAndGlyphs">Pearson=-0.967, MIC=0.728, dCOR=0.981, ξn=0.933</text>
<text x="551.14" y="711.89" font-size="26.07" textLength="30.83" lengthAdjust="spacingAndGlyphs">X1</text>
<text x="1590.16" y="711.91" font-size="26.03" textLength="30.73" lengthAdjust="spacingAndGlyphs">X2</text>
<text transform="translate(33.00 368.52) rotate(-90)" font-size="26.35" textLength="15.65" lengthAdjust="spacingAndGlyphs">Y</text>
<text transform="translate(1071.95 368.60) rotate(-90)" font-size="26.16" textLength="16.46" lengthAdjust="spacingAndGlyphs">Y</text>
<text x="78.47" y="123.93" font-size="22.82" textLength="12.30" lengthAdjust="spacingAndGlyphs">0</text>
<text fill="#0f0f0f" x="61.90" y="225.79" font-size="23.09" textLength="27.93" lengthAdjust="spacingAndGlyphs">−5</text>
<text fill="#0c0c0c" x="48.97" y="329.05" font-size="22.85" textLength="41.82" lengthAdjust="spacingAndGlyphs">−10</text>
<text fill="#121212" x="48.95" y="430.96" font-size="22.93" textLength="41.14" lengthAdjust="spacingAndGlyphs">−15</text>
<text fill="#0f0f0f" x="48.88" y="533.07" font-size="22.84" textLength="41.60" lengthAdjust="spacingAndGlyphs">−20</text>
<text fill="#131313" x="48.99" y="635.06" font-size="22.63" textLength="41.23" lengthAdjust="spacingAndGlyphs">−25</text>
<text x="1117.47" y="123.93" font-size="22.82" textLength="12.30" lengthAdjust="spacingAndGlyphs">0</text>
<text fill="#0f0f0f" x="1100.90" y="225.79" font-size="23.09" textLength="27.93" lengthAdjust="spacingAndGlyphs">−5</text>
<text fill="#0c0c0c" x="1086.97" y="329.05" font-size="22.85" textLength="41.82" lengthAdjust="spacingAndGlyphs">−10</text>
<text fill="#121212" x="1086.95" y="430.96" font-size="22.93" textLength="41.14" lengthAdjust="spacingAndGlyphs">−15</text>
<text fill="#0f0f0f" x="1086.88" y="533.07" font-size="22.84" textLength="41.60" lengthAdjust="spacingAndGlyphs">−20</text>
<text fill="#131313" x="1086.99" y="635.06" font-size="22.63" textLength="41.23" lengthAdjust="spacingAndGlyphs">−25</text>
<text fill="#080808" x="117.00" y="680.06" font-size="22.75" textLength="61.60" lengthAdjust="spacingAndGlyphs">−1.00</text>
<text fill="#0e0e0e" x="222.03" y="680.01" font-size="22.85" textLength="61.15" lengthAdjust="spacingAndGlyphs">−0.75</text>
<text fill="#0a0a0a" x="327.10" y="680.05" font-size="22.69" textLength="61.44" lengthAdjust="spacingAndGlyphs">−0.50</text>
<text fill="#0e0e0e" x="432.04" y="680.08" font-size="22.63" textLength="61.15" lengthAdjust="spacingAndGlyphs">−0.25</text>
<text fill="#040404" x="544.53" y="679.99" font-size="22.82" textLength="44.41" lengthAdjust="spacingAndGlyphs">0.00</text>
<text fill="#060606" x="649.44" y="680.09" font-size="22.61" textLength="44.09" lengthAdjust="spacingAndGlyphs">0.25</text>
<text fill="#020202" x="754.41" y="680.03" font-size="22.68" textLength="44.57" lengthAdjust="spacingAndGlyphs">0.50</text>
<text fill="#050505" x="859.45" y="680.03" font-size="22.78" textLength="44.05" lengthAdjust="spacingAndGlyphs">0.75</text>
<text x="964.60" y="680.05" font-size="22.79" textLength="44.42" lengthAdjust="spacingAndGlyphs">1.00</text>
<text x="1180.47" y="679.93" font-size="22.82" textLength="12.30" lengthAdjust="spacingAndGlyphs">0</text>
<text x="1348.69" y="679.84" font-size="23.38" textLength="11.75" lengthAdjust="spacingAndGlyphs">1</text>
<text x="1516.46" y="679.97" font-size="22.96" textLength="11.77" lengthAdjust="spacingAndGlyphs">2</text>
<text fill="#141414" x="1684.55" y="679.96" font-size="22.52" textLength="11.98" lengthAdjust="spacingAndGlyphs">3</text>
<text x="1851.51" y="679.90" font-size="23.23" textLength="12.29" lengthAdjust="spacingAndGlyphs">4</text>
<text fill="#0b0b0b" x="2019.58" y="679.94" font-size="22.92" textLength="11.87" lengthAdjust="spacingAndGlyphs">5</text></g>
</svg>
</body></html>
